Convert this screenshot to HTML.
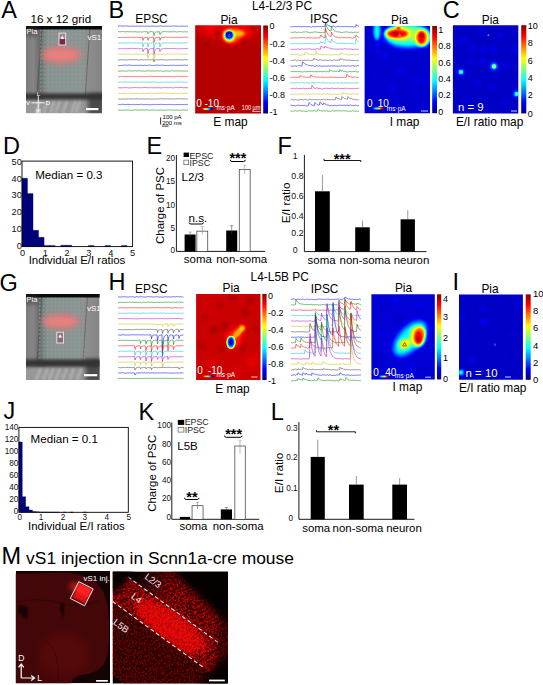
<!DOCTYPE html>
<html><head><meta charset="utf-8"><style>
html,body{margin:0;padding:0;background:#fff;width:543px;height:685px;overflow:hidden;}
svg{display:block;font-family:"Liberation Sans",sans-serif;}
</style></head><body>
<svg width="543" height="685" viewBox="0 0 543 685">
<rect width="543" height="685" fill="#fff"/>
<defs>
<filter id="jet1_5" x="-10%" y="-10%" width="120%" height="120%" color-interpolation-filters="sRGB"><feGaussianBlur stdDeviation="1.5"/><feComponentTransfer><feFuncR type="table" tableValues="0 0 0 0 0.5 1 1 1 0.5"/><feFuncG type="table" tableValues="0 0 0.5 1 1 1 0.5 0 0"/><feFuncB type="table" tableValues="0.5 1 1 1 0.5 0 0 0 0"/></feComponentTransfer></filter>
<filter id="jet2" x="-10%" y="-10%" width="120%" height="120%" color-interpolation-filters="sRGB"><feGaussianBlur stdDeviation="2"/><feComponentTransfer><feFuncR type="table" tableValues="0 0 0 0 0.5 1 1 1 0.5"/><feFuncG type="table" tableValues="0 0 0.5 1 1 1 0.5 0 0"/><feFuncB type="table" tableValues="0.5 1 1 1 0.5 0 0 0 0"/></feComponentTransfer></filter>
<filter id="jet2_5" x="-10%" y="-10%" width="120%" height="120%" color-interpolation-filters="sRGB"><feGaussianBlur stdDeviation="2.5"/><feComponentTransfer><feFuncR type="table" tableValues="0 0 0 0 0.5 1 1 1 0.5"/><feFuncG type="table" tableValues="0 0 0.5 1 1 1 0.5 0 0"/><feFuncB type="table" tableValues="0.5 1 1 1 0.5 0 0 0 0"/></feComponentTransfer></filter>
<filter id="jet3" x="-10%" y="-10%" width="120%" height="120%" color-interpolation-filters="sRGB"><feGaussianBlur stdDeviation="3"/><feComponentTransfer><feFuncR type="table" tableValues="0 0 0 0 0.5 1 1 1 0.5"/><feFuncG type="table" tableValues="0 0 0.5 1 1 1 0.5 0 0"/><feFuncB type="table" tableValues="0.5 1 1 1 0.5 0 0 0 0"/></feComponentTransfer></filter>
<filter id="jetn" x="-10%" y="-10%" width="120%" height="120%" color-interpolation-filters="sRGB"><feComponentTransfer><feFuncR type="table" tableValues="0 0 0 0 0.5 1 1 1 0.5"/><feFuncG type="table" tableValues="0 0 0.5 1 1 1 0.5 0 0"/><feFuncB type="table" tableValues="0.5 1 1 1 0.5 0 0 0 0"/></feComponentTransfer></filter>
<linearGradient id="cbar" x1="0" y1="1" x2="0" y2="0"><stop offset="0" stop-color="rgb(0,0,127)"/><stop offset="0.125" stop-color="rgb(0,0,255)"/><stop offset="0.375" stop-color="rgb(0,255,255)"/><stop offset="0.625" stop-color="rgb(255,255,0)"/><stop offset="0.875" stop-color="rgb(255,0,0)"/><stop offset="1" stop-color="rgb(127,0,0)"/></linearGradient>
<linearGradient id="hbarE" x1="0" y1="0" x2="1" y2="0"><stop offset="0" stop-color="rgb(127,0,0)"/><stop offset="0.125" stop-color="rgb(255,0,0)"/><stop offset="0.375" stop-color="rgb(255,255,0)"/><stop offset="0.625" stop-color="rgb(0,255,255)"/><stop offset="0.875" stop-color="rgb(0,0,255)"/><stop offset="1" stop-color="rgb(0,0,127)"/></linearGradient>
<linearGradient id="hbarI" x1="0" y1="0" x2="1" y2="0"><stop offset="0" stop-color="rgb(0,0,127)"/><stop offset="0.125" stop-color="rgb(0,0,255)"/><stop offset="0.375" stop-color="rgb(0,255,255)"/><stop offset="0.625" stop-color="rgb(255,255,0)"/><stop offset="0.875" stop-color="rgb(255,0,0)"/><stop offset="1" stop-color="rgb(127,0,0)"/></linearGradient>
<filter id="blur1" color-interpolation-filters="sRGB"><feGaussianBlur stdDeviation="1"/></filter>
<filter id="blur2" x="-50%" y="-50%" width="200%" height="200%" color-interpolation-filters="sRGB"><feGaussianBlur stdDeviation="2"/></filter>
<filter id="blur3" x="-50%" y="-50%" width="200%" height="200%" color-interpolation-filters="sRGB"><feGaussianBlur stdDeviation="3"/></filter>
<filter id="blur4" x="-50%" y="-50%" width="200%" height="200%" color-interpolation-filters="sRGB"><feGaussianBlur stdDeviation="4"/></filter>
<filter id="blur05" color-interpolation-filters="sRGB"><feGaussianBlur stdDeviation="0.5"/></filter>
<filter id="speck" x="0" y="0" width="100%" height="100%" color-interpolation-filters="sRGB"><feTurbulence type="fractalNoise" baseFrequency="0.65" numOctaves="1" seed="3" result="n"/><feColorMatrix in="n" type="matrix" values="0 0 0 0 1  0 0 0 0 0  0 0 0 0 0  3.5 0 0 0 -1.3" result="r"/><feComposite in="r" in2="SourceGraphic" operator="in"/></filter>
<filter id="gb0.5" x="-100%" y="-100%" width="300%" height="300%" color-interpolation-filters="sRGB"><feGaussianBlur stdDeviation="0.5"/></filter>
<filter id="gb0.8" x="-100%" y="-100%" width="300%" height="300%" color-interpolation-filters="sRGB"><feGaussianBlur stdDeviation="0.8"/></filter>
<filter id="gb1" x="-100%" y="-100%" width="300%" height="300%" color-interpolation-filters="sRGB"><feGaussianBlur stdDeviation="1"/></filter>
<filter id="gb1.2" x="-100%" y="-100%" width="300%" height="300%" color-interpolation-filters="sRGB"><feGaussianBlur stdDeviation="1.2"/></filter>
<filter id="gb1.5" x="-100%" y="-100%" width="300%" height="300%" color-interpolation-filters="sRGB"><feGaussianBlur stdDeviation="1.5"/></filter>
<filter id="gb2" x="-100%" y="-100%" width="300%" height="300%" color-interpolation-filters="sRGB"><feGaussianBlur stdDeviation="2"/></filter>
<filter id="gb2.5" x="-100%" y="-100%" width="300%" height="300%" color-interpolation-filters="sRGB"><feGaussianBlur stdDeviation="2.5"/></filter>
<filter id="gb3" x="-100%" y="-100%" width="300%" height="300%" color-interpolation-filters="sRGB"><feGaussianBlur stdDeviation="3"/></filter>
<filter id="gb4" x="-100%" y="-100%" width="300%" height="300%" color-interpolation-filters="sRGB"><feGaussianBlur stdDeviation="4"/></filter>
<filter id="gb5" x="-100%" y="-100%" width="300%" height="300%" color-interpolation-filters="sRGB"><feGaussianBlur stdDeviation="5"/></filter>
<filter id="gb6" x="-100%" y="-100%" width="300%" height="300%" color-interpolation-filters="sRGB"><feGaussianBlur stdDeviation="6"/></filter>
</defs>
<text x="1.30" y="18.00" font-size="23.5" fill="#000" >A</text>
<text x="108.60" y="18.00" font-size="23.5" fill="#000" >B</text>
<text x="442.70" y="18.00" font-size="23.5" fill="#000" >C</text>
<text x="3.10" y="153.50" font-size="23.5" fill="#000" >D</text>
<text x="146.50" y="153.50" font-size="23.5" fill="#000" >E</text>
<text x="277.60" y="153.50" font-size="23.5" fill="#000" >F</text>
<text x="-0.60" y="290.50" font-size="23.5" fill="#000" >G</text>
<text x="108.40" y="290.00" font-size="23.5" fill="#000" >H</text>
<text x="452.50" y="290.00" font-size="23.5" fill="#000" >I</text>
<text x="3.50" y="418.50" font-size="23.5" fill="#000" >J</text>
<text x="138.50" y="419.50" font-size="23.5" fill="#000" >K</text>
<text x="270.80" y="419.50" font-size="23.5" fill="#000" >L</text>
<text x="1.50" y="564.00" font-size="23.5" fill="#000" >M</text>
<text x="60.80" y="23.30" font-size="11.6" text-anchor="middle" fill="#000" >16 x 12 grid</text>
<text x="282.00" y="10.20" font-size="11.9" text-anchor="middle" fill="#000" >L4-L2/3 PC</text>
<text x="151.50" y="23.30" font-size="11.9" text-anchor="middle" fill="#000" >EPSC</text>
<text x="229.00" y="23.80" font-size="11.9" text-anchor="middle" fill="#000" >Pia</text>
<text x="324.00" y="23.30" font-size="11.9" text-anchor="middle" fill="#000" >IPSC</text>
<text x="399.60" y="23.80" font-size="11.9" text-anchor="middle" fill="#000" >Pia</text>
<text x="490.40" y="23.80" font-size="11.9" text-anchor="middle" fill="#000" >Pia</text>
<text x="230.50" y="126.00" font-size="11.9" text-anchor="middle" fill="#000" >E map</text>
<text x="404.50" y="125.50" font-size="11.9" text-anchor="middle" fill="#000" >I map</text>
<text x="489.60" y="126.00" font-size="11.9" text-anchor="middle" fill="#000" >E/I ratio map</text>
<clipPath id="mclip1"><rect x="26" y="26" width="76" height="87.3"/></clipPath>
<g clip-path="url(#mclip1)">
<linearGradient id="mg1" x1="0" y1="0" x2="1" y2="0"><stop offset="0" stop-color="#7c7c7c"/><stop offset="0.1" stop-color="#858585"/><stop offset="0.18" stop-color="#6a6a6a"/><stop offset="0.28" stop-color="#8e8e8e"/><stop offset="0.7" stop-color="#929292"/><stop offset="0.85" stop-color="#8c8c8c"/><stop offset="1" stop-color="#848484"/></linearGradient>
<rect x="26.00" y="26.00" width="76.00" height="87.30" fill="url(#mg1)" />
<line x1="42.00" y1="26.00" x2="37.00" y2="95.84" stroke="#4a4a4a" stroke-width="0.9" opacity="0.7"/>
<line x1="90.00" y1="26.00" x2="84.00" y2="113.30" stroke="#555" stroke-width="0.9" opacity="0.7"/>
<rect x="24" y="23" width="80" height="6.5" fill="#0a0a0a" filter="url(#blur05)"/>
<rect x="24" y="26" width="14" height="10" fill="#333" opacity="0.5" filter="url(#blur2)"/>
<rect x="26" y="99.5" width="76" height="13.799999999999997" fill="#979797"/>
<line x1="40.4" y1="100.5" x2="35.4" y2="113.3" stroke="#b8b8b8" stroke-width="3" opacity="0.7" filter="url(#blur1)"/>
<line x1="48.2" y1="100.5" x2="43.2" y2="113.3" stroke="#b8b8b8" stroke-width="3" opacity="0.7" filter="url(#blur1)"/>
<line x1="54.8" y1="100.5" x2="49.8" y2="113.3" stroke="#b8b8b8" stroke-width="3" opacity="0.7" filter="url(#blur1)"/>
<line x1="60.2" y1="100.5" x2="55.2" y2="113.3" stroke="#b8b8b8" stroke-width="3" opacity="0.7" filter="url(#blur1)"/>
<line x1="67.4" y1="100.5" x2="62.4" y2="113.3" stroke="#b8b8b8" stroke-width="3" opacity="0.7" filter="url(#blur1)"/>
<line x1="76.1" y1="100.5" x2="71.1" y2="113.3" stroke="#b8b8b8" stroke-width="3" opacity="0.7" filter="url(#blur1)"/>
<line x1="80.5" y1="100.5" x2="75.5" y2="113.3" stroke="#b8b8b8" stroke-width="3" opacity="0.7" filter="url(#blur1)"/>
<rect x="88" y="93.5" width="16" height="21.799999999999997" fill="#2a2a2a" opacity="0.7" filter="url(#blur2)"/>
<rect x="23" y="93.5" width="82" height="6.0" fill="#333" filter="url(#gb1.5)"/>
<ellipse cx="61.5" cy="55" rx="20" ry="8.5" fill="#ff6c6c" opacity="0.85" filter="url(#gb3)"/>
<ellipse cx="61.5" cy="55" rx="16.0" ry="5.1" fill="#ff8080" opacity="0.6" filter="url(#blur2)"/>
<path d="M39.85,29.85h1.5v1.5h-1.5zM43.80,29.85h1.5v1.5h-1.5zM47.74,29.85h1.5v1.5h-1.5zM51.69,29.85h1.5v1.5h-1.5zM55.63,29.85h1.5v1.5h-1.5zM59.58,29.85h1.5v1.5h-1.5zM63.52,29.85h1.5v1.5h-1.5zM67.47,29.85h1.5v1.5h-1.5zM71.41,29.85h1.5v1.5h-1.5zM75.36,29.85h1.5v1.5h-1.5zM79.30,29.85h1.5v1.5h-1.5zM83.25,29.85h1.5v1.5h-1.5zM39.85,33.85h1.5v1.5h-1.5zM43.80,33.85h1.5v1.5h-1.5zM47.74,33.85h1.5v1.5h-1.5zM51.69,33.85h1.5v1.5h-1.5zM55.63,33.85h1.5v1.5h-1.5zM59.58,33.85h1.5v1.5h-1.5zM63.52,33.85h1.5v1.5h-1.5zM67.47,33.85h1.5v1.5h-1.5zM71.41,33.85h1.5v1.5h-1.5zM75.36,33.85h1.5v1.5h-1.5zM79.30,33.85h1.5v1.5h-1.5zM83.25,33.85h1.5v1.5h-1.5zM39.85,37.85h1.5v1.5h-1.5zM43.80,37.85h1.5v1.5h-1.5zM47.74,37.85h1.5v1.5h-1.5zM51.69,37.85h1.5v1.5h-1.5zM55.63,37.85h1.5v1.5h-1.5zM59.58,37.85h1.5v1.5h-1.5zM63.52,37.85h1.5v1.5h-1.5zM67.47,37.85h1.5v1.5h-1.5zM71.41,37.85h1.5v1.5h-1.5zM75.36,37.85h1.5v1.5h-1.5zM79.30,37.85h1.5v1.5h-1.5zM83.25,37.85h1.5v1.5h-1.5zM39.85,41.85h1.5v1.5h-1.5zM43.80,41.85h1.5v1.5h-1.5zM47.74,41.85h1.5v1.5h-1.5zM51.69,41.85h1.5v1.5h-1.5zM55.63,41.85h1.5v1.5h-1.5zM59.58,41.85h1.5v1.5h-1.5zM63.52,41.85h1.5v1.5h-1.5zM67.47,41.85h1.5v1.5h-1.5zM71.41,41.85h1.5v1.5h-1.5zM75.36,41.85h1.5v1.5h-1.5zM79.30,41.85h1.5v1.5h-1.5zM83.25,41.85h1.5v1.5h-1.5zM39.85,45.85h1.5v1.5h-1.5zM43.80,45.85h1.5v1.5h-1.5zM47.74,45.85h1.5v1.5h-1.5zM51.69,45.85h1.5v1.5h-1.5zM55.63,45.85h1.5v1.5h-1.5zM59.58,45.85h1.5v1.5h-1.5zM63.52,45.85h1.5v1.5h-1.5zM67.47,45.85h1.5v1.5h-1.5zM71.41,45.85h1.5v1.5h-1.5zM75.36,45.85h1.5v1.5h-1.5zM79.30,45.85h1.5v1.5h-1.5zM83.25,45.85h1.5v1.5h-1.5zM39.85,49.85h1.5v1.5h-1.5zM43.80,49.85h1.5v1.5h-1.5zM47.74,49.85h1.5v1.5h-1.5zM51.69,49.85h1.5v1.5h-1.5zM55.63,49.85h1.5v1.5h-1.5zM59.58,49.85h1.5v1.5h-1.5zM63.52,49.85h1.5v1.5h-1.5zM67.47,49.85h1.5v1.5h-1.5zM71.41,49.85h1.5v1.5h-1.5zM75.36,49.85h1.5v1.5h-1.5zM79.30,49.85h1.5v1.5h-1.5zM83.25,49.85h1.5v1.5h-1.5zM39.85,53.85h1.5v1.5h-1.5zM43.80,53.85h1.5v1.5h-1.5zM47.74,53.85h1.5v1.5h-1.5zM51.69,53.85h1.5v1.5h-1.5zM55.63,53.85h1.5v1.5h-1.5zM59.58,53.85h1.5v1.5h-1.5zM63.52,53.85h1.5v1.5h-1.5zM67.47,53.85h1.5v1.5h-1.5zM71.41,53.85h1.5v1.5h-1.5zM75.36,53.85h1.5v1.5h-1.5zM79.30,53.85h1.5v1.5h-1.5zM83.25,53.85h1.5v1.5h-1.5zM39.85,57.85h1.5v1.5h-1.5zM43.80,57.85h1.5v1.5h-1.5zM47.74,57.85h1.5v1.5h-1.5zM51.69,57.85h1.5v1.5h-1.5zM55.63,57.85h1.5v1.5h-1.5zM59.58,57.85h1.5v1.5h-1.5zM63.52,57.85h1.5v1.5h-1.5zM67.47,57.85h1.5v1.5h-1.5zM71.41,57.85h1.5v1.5h-1.5zM75.36,57.85h1.5v1.5h-1.5zM79.30,57.85h1.5v1.5h-1.5zM83.25,57.85h1.5v1.5h-1.5zM39.85,61.85h1.5v1.5h-1.5zM43.80,61.85h1.5v1.5h-1.5zM47.74,61.85h1.5v1.5h-1.5zM51.69,61.85h1.5v1.5h-1.5zM55.63,61.85h1.5v1.5h-1.5zM59.58,61.85h1.5v1.5h-1.5zM63.52,61.85h1.5v1.5h-1.5zM67.47,61.85h1.5v1.5h-1.5zM71.41,61.85h1.5v1.5h-1.5zM75.36,61.85h1.5v1.5h-1.5zM79.30,61.85h1.5v1.5h-1.5zM83.25,61.85h1.5v1.5h-1.5zM39.85,65.85h1.5v1.5h-1.5zM43.80,65.85h1.5v1.5h-1.5zM47.74,65.85h1.5v1.5h-1.5zM51.69,65.85h1.5v1.5h-1.5zM55.63,65.85h1.5v1.5h-1.5zM59.58,65.85h1.5v1.5h-1.5zM63.52,65.85h1.5v1.5h-1.5zM67.47,65.85h1.5v1.5h-1.5zM71.41,65.85h1.5v1.5h-1.5zM75.36,65.85h1.5v1.5h-1.5zM79.30,65.85h1.5v1.5h-1.5zM83.25,65.85h1.5v1.5h-1.5zM39.85,69.85h1.5v1.5h-1.5zM43.80,69.85h1.5v1.5h-1.5zM47.74,69.85h1.5v1.5h-1.5zM51.69,69.85h1.5v1.5h-1.5zM55.63,69.85h1.5v1.5h-1.5zM59.58,69.85h1.5v1.5h-1.5zM63.52,69.85h1.5v1.5h-1.5zM67.47,69.85h1.5v1.5h-1.5zM71.41,69.85h1.5v1.5h-1.5zM75.36,69.85h1.5v1.5h-1.5zM79.30,69.85h1.5v1.5h-1.5zM83.25,69.85h1.5v1.5h-1.5zM39.85,73.85h1.5v1.5h-1.5zM43.80,73.85h1.5v1.5h-1.5zM47.74,73.85h1.5v1.5h-1.5zM51.69,73.85h1.5v1.5h-1.5zM55.63,73.85h1.5v1.5h-1.5zM59.58,73.85h1.5v1.5h-1.5zM63.52,73.85h1.5v1.5h-1.5zM67.47,73.85h1.5v1.5h-1.5zM71.41,73.85h1.5v1.5h-1.5zM75.36,73.85h1.5v1.5h-1.5zM79.30,73.85h1.5v1.5h-1.5zM83.25,73.85h1.5v1.5h-1.5zM39.85,77.85h1.5v1.5h-1.5zM43.80,77.85h1.5v1.5h-1.5zM47.74,77.85h1.5v1.5h-1.5zM51.69,77.85h1.5v1.5h-1.5zM55.63,77.85h1.5v1.5h-1.5zM59.58,77.85h1.5v1.5h-1.5zM63.52,77.85h1.5v1.5h-1.5zM67.47,77.85h1.5v1.5h-1.5zM71.41,77.85h1.5v1.5h-1.5zM75.36,77.85h1.5v1.5h-1.5zM79.30,77.85h1.5v1.5h-1.5zM83.25,77.85h1.5v1.5h-1.5zM39.85,81.85h1.5v1.5h-1.5zM43.80,81.85h1.5v1.5h-1.5zM47.74,81.85h1.5v1.5h-1.5zM51.69,81.85h1.5v1.5h-1.5zM55.63,81.85h1.5v1.5h-1.5zM59.58,81.85h1.5v1.5h-1.5zM63.52,81.85h1.5v1.5h-1.5zM67.47,81.85h1.5v1.5h-1.5zM71.41,81.85h1.5v1.5h-1.5zM75.36,81.85h1.5v1.5h-1.5zM79.30,81.85h1.5v1.5h-1.5zM83.25,81.85h1.5v1.5h-1.5zM39.85,85.85h1.5v1.5h-1.5zM43.80,85.85h1.5v1.5h-1.5zM47.74,85.85h1.5v1.5h-1.5zM51.69,85.85h1.5v1.5h-1.5zM55.63,85.85h1.5v1.5h-1.5zM59.58,85.85h1.5v1.5h-1.5zM63.52,85.85h1.5v1.5h-1.5zM67.47,85.85h1.5v1.5h-1.5zM71.41,85.85h1.5v1.5h-1.5zM75.36,85.85h1.5v1.5h-1.5zM79.30,85.85h1.5v1.5h-1.5zM83.25,85.85h1.5v1.5h-1.5zM39.85,89.85h1.5v1.5h-1.5zM43.80,89.85h1.5v1.5h-1.5zM47.74,89.85h1.5v1.5h-1.5zM51.69,89.85h1.5v1.5h-1.5zM55.63,89.85h1.5v1.5h-1.5zM59.58,89.85h1.5v1.5h-1.5zM63.52,89.85h1.5v1.5h-1.5zM67.47,89.85h1.5v1.5h-1.5zM71.41,89.85h1.5v1.5h-1.5zM75.36,89.85h1.5v1.5h-1.5zM79.30,89.85h1.5v1.5h-1.5zM83.25,89.85h1.5v1.5h-1.5z" fill="#55c0b0" opacity="0.65" filter="url(#gb0.5)"/>
<rect x="59.00" y="33.10" width="6.70" height="5.95" fill="#9a8a90" />
<rect x="59.00" y="39.05" width="6.70" height="5.95" fill="#7a2a3a" />
<rect x="59.00" y="33.10" width="6.70" height="11.90" fill="none" stroke="#f4e4f0" stroke-width="0.9"/>
<path d="M60.550000000000004,38.884 L64.15,38.884 L62.35,35.584 Z" fill="#fff"/>
<rect x="86.00" y="108.00" width="12.40" height="2.20" fill="#fff" />
<text x="26.50" y="33.60" font-size="7.5" fill="#fff" >Pia</text>
<text x="87.50" y="39.80" font-size="8" fill="#fff" >vS1</text>
<line x1="38.30" y1="96.20" x2="38.30" y2="112.80" stroke="#fff" stroke-width="0.9" />
<line x1="31.40" y1="102.80" x2="44.60" y2="102.80" stroke="#fff" stroke-width="0.9" />
<text x="38.30" y="95.50" font-size="6" text-anchor="middle" fill="#fff" >L</text>
<text x="28.10" y="105.00" font-size="6" text-anchor="middle" fill="#fff" >V</text>
<text x="48.00" y="105.00" font-size="6" text-anchor="middle" fill="#fff" >D</text>
<text x="38.30" y="113.30" font-size="6" text-anchor="middle" fill="#fff" >M</text>
</g>
<clipPath id="mclip2"><rect x="26" y="294" width="73.6" height="86"/></clipPath>
<g clip-path="url(#mclip2)">
<linearGradient id="mg2" x1="0" y1="0" x2="1" y2="0"><stop offset="0" stop-color="#7c7c7c"/><stop offset="0.1" stop-color="#858585"/><stop offset="0.18" stop-color="#6a6a6a"/><stop offset="0.28" stop-color="#8e8e8e"/><stop offset="0.7" stop-color="#929292"/><stop offset="0.85" stop-color="#8c8c8c"/><stop offset="1" stop-color="#848484"/></linearGradient>
<rect x="26.00" y="294.00" width="73.60" height="86.00" fill="url(#mg2)" />
<line x1="42.00" y1="294.00" x2="37.00" y2="362.80" stroke="#4a4a4a" stroke-width="0.9" opacity="0.7"/>
<line x1="87.60" y1="294.00" x2="81.60" y2="380.00" stroke="#555" stroke-width="0.9" opacity="0.7"/>
<rect x="24" y="291" width="77.6" height="6.5" fill="#0a0a0a" filter="url(#blur05)"/>
<rect x="24" y="294" width="14" height="10" fill="#333" opacity="0.5" filter="url(#blur2)"/>
<rect x="26" y="366.7" width="73.6" height="13.300000000000011" fill="#979797"/>
<line x1="41.0" y1="367.7" x2="36.0" y2="380" stroke="#b8b8b8" stroke-width="3" opacity="0.7" filter="url(#blur1)"/>
<line x1="47.9" y1="367.7" x2="42.9" y2="380" stroke="#b8b8b8" stroke-width="3" opacity="0.7" filter="url(#blur1)"/>
<line x1="53.9" y1="367.7" x2="48.9" y2="380" stroke="#b8b8b8" stroke-width="3" opacity="0.7" filter="url(#blur1)"/>
<line x1="60.4" y1="367.7" x2="55.4" y2="380" stroke="#b8b8b8" stroke-width="3" opacity="0.7" filter="url(#blur1)"/>
<line x1="67.3" y1="367.7" x2="62.3" y2="380" stroke="#b8b8b8" stroke-width="3" opacity="0.7" filter="url(#blur1)"/>
<line x1="74.3" y1="367.7" x2="69.3" y2="380" stroke="#b8b8b8" stroke-width="3" opacity="0.7" filter="url(#blur1)"/>
<line x1="81.8" y1="367.7" x2="76.8" y2="380" stroke="#b8b8b8" stroke-width="3" opacity="0.7" filter="url(#blur1)"/>
<rect x="85.6" y="359.5" width="16" height="22.5" fill="#2a2a2a" opacity="0.7" filter="url(#blur2)"/>
<rect x="23" y="359.5" width="79.6" height="7.199999999999989" fill="#333" filter="url(#gb1.5)"/>
<ellipse cx="60.6" cy="321.5" rx="19" ry="7" fill="#ff6c6c" opacity="0.85" filter="url(#gb3)"/>
<ellipse cx="60.6" cy="321.5" rx="15.200000000000001" ry="4.2" fill="#ff8080" opacity="0.6" filter="url(#blur2)"/>
<path d="M39.05,297.75h1.5v1.5h-1.5zM42.98,297.75h1.5v1.5h-1.5zM46.90,297.75h1.5v1.5h-1.5zM50.83,297.75h1.5v1.5h-1.5zM54.76,297.75h1.5v1.5h-1.5zM58.69,297.75h1.5v1.5h-1.5zM62.61,297.75h1.5v1.5h-1.5zM66.54,297.75h1.5v1.5h-1.5zM70.47,297.75h1.5v1.5h-1.5zM74.40,297.75h1.5v1.5h-1.5zM78.32,297.75h1.5v1.5h-1.5zM82.25,297.75h1.5v1.5h-1.5zM39.05,301.68h1.5v1.5h-1.5zM42.98,301.68h1.5v1.5h-1.5zM46.90,301.68h1.5v1.5h-1.5zM50.83,301.68h1.5v1.5h-1.5zM54.76,301.68h1.5v1.5h-1.5zM58.69,301.68h1.5v1.5h-1.5zM62.61,301.68h1.5v1.5h-1.5zM66.54,301.68h1.5v1.5h-1.5zM70.47,301.68h1.5v1.5h-1.5zM74.40,301.68h1.5v1.5h-1.5zM78.32,301.68h1.5v1.5h-1.5zM82.25,301.68h1.5v1.5h-1.5zM39.05,305.60h1.5v1.5h-1.5zM42.98,305.60h1.5v1.5h-1.5zM46.90,305.60h1.5v1.5h-1.5zM50.83,305.60h1.5v1.5h-1.5zM54.76,305.60h1.5v1.5h-1.5zM58.69,305.60h1.5v1.5h-1.5zM62.61,305.60h1.5v1.5h-1.5zM66.54,305.60h1.5v1.5h-1.5zM70.47,305.60h1.5v1.5h-1.5zM74.40,305.60h1.5v1.5h-1.5zM78.32,305.60h1.5v1.5h-1.5zM82.25,305.60h1.5v1.5h-1.5zM39.05,309.53h1.5v1.5h-1.5zM42.98,309.53h1.5v1.5h-1.5zM46.90,309.53h1.5v1.5h-1.5zM50.83,309.53h1.5v1.5h-1.5zM54.76,309.53h1.5v1.5h-1.5zM58.69,309.53h1.5v1.5h-1.5zM62.61,309.53h1.5v1.5h-1.5zM66.54,309.53h1.5v1.5h-1.5zM70.47,309.53h1.5v1.5h-1.5zM74.40,309.53h1.5v1.5h-1.5zM78.32,309.53h1.5v1.5h-1.5zM82.25,309.53h1.5v1.5h-1.5zM39.05,313.46h1.5v1.5h-1.5zM42.98,313.46h1.5v1.5h-1.5zM46.90,313.46h1.5v1.5h-1.5zM50.83,313.46h1.5v1.5h-1.5zM54.76,313.46h1.5v1.5h-1.5zM58.69,313.46h1.5v1.5h-1.5zM62.61,313.46h1.5v1.5h-1.5zM66.54,313.46h1.5v1.5h-1.5zM70.47,313.46h1.5v1.5h-1.5zM74.40,313.46h1.5v1.5h-1.5zM78.32,313.46h1.5v1.5h-1.5zM82.25,313.46h1.5v1.5h-1.5zM39.05,317.38h1.5v1.5h-1.5zM42.98,317.38h1.5v1.5h-1.5zM46.90,317.38h1.5v1.5h-1.5zM50.83,317.38h1.5v1.5h-1.5zM54.76,317.38h1.5v1.5h-1.5zM58.69,317.38h1.5v1.5h-1.5zM62.61,317.38h1.5v1.5h-1.5zM66.54,317.38h1.5v1.5h-1.5zM70.47,317.38h1.5v1.5h-1.5zM74.40,317.38h1.5v1.5h-1.5zM78.32,317.38h1.5v1.5h-1.5zM82.25,317.38h1.5v1.5h-1.5zM39.05,321.31h1.5v1.5h-1.5zM42.98,321.31h1.5v1.5h-1.5zM46.90,321.31h1.5v1.5h-1.5zM50.83,321.31h1.5v1.5h-1.5zM54.76,321.31h1.5v1.5h-1.5zM58.69,321.31h1.5v1.5h-1.5zM62.61,321.31h1.5v1.5h-1.5zM66.54,321.31h1.5v1.5h-1.5zM70.47,321.31h1.5v1.5h-1.5zM74.40,321.31h1.5v1.5h-1.5zM78.32,321.31h1.5v1.5h-1.5zM82.25,321.31h1.5v1.5h-1.5zM39.05,325.24h1.5v1.5h-1.5zM42.98,325.24h1.5v1.5h-1.5zM46.90,325.24h1.5v1.5h-1.5zM50.83,325.24h1.5v1.5h-1.5zM54.76,325.24h1.5v1.5h-1.5zM58.69,325.24h1.5v1.5h-1.5zM62.61,325.24h1.5v1.5h-1.5zM66.54,325.24h1.5v1.5h-1.5zM70.47,325.24h1.5v1.5h-1.5zM74.40,325.24h1.5v1.5h-1.5zM78.32,325.24h1.5v1.5h-1.5zM82.25,325.24h1.5v1.5h-1.5zM39.05,329.16h1.5v1.5h-1.5zM42.98,329.16h1.5v1.5h-1.5zM46.90,329.16h1.5v1.5h-1.5zM50.83,329.16h1.5v1.5h-1.5zM54.76,329.16h1.5v1.5h-1.5zM58.69,329.16h1.5v1.5h-1.5zM62.61,329.16h1.5v1.5h-1.5zM66.54,329.16h1.5v1.5h-1.5zM70.47,329.16h1.5v1.5h-1.5zM74.40,329.16h1.5v1.5h-1.5zM78.32,329.16h1.5v1.5h-1.5zM82.25,329.16h1.5v1.5h-1.5zM39.05,333.09h1.5v1.5h-1.5zM42.98,333.09h1.5v1.5h-1.5zM46.90,333.09h1.5v1.5h-1.5zM50.83,333.09h1.5v1.5h-1.5zM54.76,333.09h1.5v1.5h-1.5zM58.69,333.09h1.5v1.5h-1.5zM62.61,333.09h1.5v1.5h-1.5zM66.54,333.09h1.5v1.5h-1.5zM70.47,333.09h1.5v1.5h-1.5zM74.40,333.09h1.5v1.5h-1.5zM78.32,333.09h1.5v1.5h-1.5zM82.25,333.09h1.5v1.5h-1.5zM39.05,337.02h1.5v1.5h-1.5zM42.98,337.02h1.5v1.5h-1.5zM46.90,337.02h1.5v1.5h-1.5zM50.83,337.02h1.5v1.5h-1.5zM54.76,337.02h1.5v1.5h-1.5zM58.69,337.02h1.5v1.5h-1.5zM62.61,337.02h1.5v1.5h-1.5zM66.54,337.02h1.5v1.5h-1.5zM70.47,337.02h1.5v1.5h-1.5zM74.40,337.02h1.5v1.5h-1.5zM78.32,337.02h1.5v1.5h-1.5zM82.25,337.02h1.5v1.5h-1.5zM39.05,340.94h1.5v1.5h-1.5zM42.98,340.94h1.5v1.5h-1.5zM46.90,340.94h1.5v1.5h-1.5zM50.83,340.94h1.5v1.5h-1.5zM54.76,340.94h1.5v1.5h-1.5zM58.69,340.94h1.5v1.5h-1.5zM62.61,340.94h1.5v1.5h-1.5zM66.54,340.94h1.5v1.5h-1.5zM70.47,340.94h1.5v1.5h-1.5zM74.40,340.94h1.5v1.5h-1.5zM78.32,340.94h1.5v1.5h-1.5zM82.25,340.94h1.5v1.5h-1.5zM39.05,344.87h1.5v1.5h-1.5zM42.98,344.87h1.5v1.5h-1.5zM46.90,344.87h1.5v1.5h-1.5zM50.83,344.87h1.5v1.5h-1.5zM54.76,344.87h1.5v1.5h-1.5zM58.69,344.87h1.5v1.5h-1.5zM62.61,344.87h1.5v1.5h-1.5zM66.54,344.87h1.5v1.5h-1.5zM70.47,344.87h1.5v1.5h-1.5zM74.40,344.87h1.5v1.5h-1.5zM78.32,344.87h1.5v1.5h-1.5zM82.25,344.87h1.5v1.5h-1.5zM39.05,348.80h1.5v1.5h-1.5zM42.98,348.80h1.5v1.5h-1.5zM46.90,348.80h1.5v1.5h-1.5zM50.83,348.80h1.5v1.5h-1.5zM54.76,348.80h1.5v1.5h-1.5zM58.69,348.80h1.5v1.5h-1.5zM62.61,348.80h1.5v1.5h-1.5zM66.54,348.80h1.5v1.5h-1.5zM70.47,348.80h1.5v1.5h-1.5zM74.40,348.80h1.5v1.5h-1.5zM78.32,348.80h1.5v1.5h-1.5zM82.25,348.80h1.5v1.5h-1.5zM39.05,352.72h1.5v1.5h-1.5zM42.98,352.72h1.5v1.5h-1.5zM46.90,352.72h1.5v1.5h-1.5zM50.83,352.72h1.5v1.5h-1.5zM54.76,352.72h1.5v1.5h-1.5zM58.69,352.72h1.5v1.5h-1.5zM62.61,352.72h1.5v1.5h-1.5zM66.54,352.72h1.5v1.5h-1.5zM70.47,352.72h1.5v1.5h-1.5zM74.40,352.72h1.5v1.5h-1.5zM78.32,352.72h1.5v1.5h-1.5zM82.25,352.72h1.5v1.5h-1.5zM39.05,356.65h1.5v1.5h-1.5zM42.98,356.65h1.5v1.5h-1.5zM46.90,356.65h1.5v1.5h-1.5zM50.83,356.65h1.5v1.5h-1.5zM54.76,356.65h1.5v1.5h-1.5zM58.69,356.65h1.5v1.5h-1.5zM62.61,356.65h1.5v1.5h-1.5zM66.54,356.65h1.5v1.5h-1.5zM70.47,356.65h1.5v1.5h-1.5zM74.40,356.65h1.5v1.5h-1.5zM78.32,356.65h1.5v1.5h-1.5zM82.25,356.65h1.5v1.5h-1.5z" fill="#55c0b0" opacity="0.65" filter="url(#gb0.5)"/>
<rect x="56.80" y="332.20" width="6.70" height="5.40" fill="#8a7a82" />
<rect x="56.80" y="337.60" width="6.70" height="5.40" fill="#8a6a78" />
<rect x="56.80" y="332.20" width="6.70" height="10.80" fill="none" stroke="#f4e4f0" stroke-width="0.9"/>
<path d="M58.35,337.58799999999997 L61.949999999999996,337.58799999999997 L60.15,334.28799999999995 Z" fill="#fff"/>
<rect x="84.00" y="374.10" width="13.30" height="2.20" fill="#fff" />
<text x="26.50" y="301.80" font-size="7.5" fill="#fff" >Pia</text>
<text x="87.00" y="310.50" font-size="8" fill="#fff" >vS1</text>
</g>
<polyline points="118.0,26.2 118.5,26.2 119.0,26.1 119.5,25.9 120.0,25.9 120.5,25.8 121.0,25.9 121.5,26.0 122.0,26.1 122.5,26.2 123.0,26.2 123.5,26.0 124.0,25.9 124.5,26.0 125.0,26.2 125.5,26.1 126.0,26.0 126.5,26.0 127.0,26.0 127.5,26.1 128.0,26.2 128.5,26.2 129.0,26.2 129.5,26.2 130.0,26.2 130.5,26.2 131.0,26.2 131.5,26.1 132.0,26.1 132.5,26.2 133.0,26.2 133.5,26.2 134.0,26.2 134.5,26.2 135.0,26.3 135.5,26.4 136.0,26.3 136.5,26.1 137.0,26.2 137.5,26.2 138.0,26.3 138.5,26.2 139.0,26.3 139.5,26.3 140.0,26.3 140.5,26.2 141.0,26.1 141.5,26.2 142.0,26.1 142.5,26.1 143.0,26.1 143.5,26.2 144.0,26.3 144.5,26.3 145.0,26.1 145.5,26.1 146.0,26.1 146.5,26.0 147.0,26.0 147.5,26.2 148.0,26.3 148.5,26.3 149.0,26.2 149.5,26.1 150.0,26.3 150.5,26.3 151.0,26.2 151.5,26.2 152.0,26.2 152.5,26.2 153.0,26.1 153.5,26.1 154.0,26.1 154.5,26.2 155.0,26.3 155.5,26.3 156.0,26.3 156.5,26.2 157.0,26.3 157.5,26.3 158.0,26.3 158.5,26.2 159.0,26.1 159.5,26.0 160.0,25.9 160.5,25.9 161.0,26.0 161.5,26.1 162.0,26.3 162.5,26.4 163.0,26.2 163.5,26.1 164.0,26.2 164.5,26.2 165.0,26.2 165.5,26.2 166.0,26.3 166.5,26.2 167.0,26.1 167.5,26.1 168.0,26.1 168.5,26.1 169.0,26.1 169.5,26.2 170.0,26.2 170.5,26.3 171.0,26.2 171.5,26.1 172.0,26.0 172.5,25.9 173.0,26.0 173.5,26.0 174.0,26.1 174.5,26.0 175.0,26.2 175.5,26.1 176.0,26.2 176.5,26.2 177.0,26.2 177.5,26.2 178.0,26.3 178.5,26.4 179.0,26.3 179.5,26.2 180.0,26.1 180.5,26.2 181.0,26.2 181.5,26.2 182.0,26.1 182.5,26.1 183.0,26.0 183.5,26.1 184.0,26.2 184.5,26.3 185.0,26.3 185.5,26.2 186.0,26.1 186.5,26.1 187.0,26.1 187.5,26.1 188.0,26.2" fill="none" stroke="#0000ff" stroke-width="0.55" stroke-linejoin="round"/>
<polyline points="118.0,31.7 118.5,31.6 119.0,31.7 119.5,31.8 120.0,31.8 120.5,31.7 121.0,31.8 121.5,31.8 122.0,31.7 122.5,31.6 123.0,31.6 123.5,31.6 124.0,31.7 124.5,31.8 125.0,31.7 125.5,31.8 126.0,31.7 126.5,31.8 127.0,31.7 127.5,31.6 128.0,31.7 128.5,31.8 129.0,31.9 129.5,31.8 130.0,31.8 130.5,31.7 131.0,31.8 131.5,31.8 132.0,31.8 132.5,31.8 133.0,31.9 133.5,31.9 134.0,32.0 134.5,31.8 135.0,31.7 135.5,31.7 136.0,31.8 136.5,31.9 137.0,31.9 137.5,31.9 138.0,32.0 138.5,32.0 139.0,31.9 139.5,31.9 140.0,31.8 140.5,31.8 141.0,31.8 141.5,32.0 142.0,32.0 142.5,32.1 143.0,32.0 143.5,31.7 144.0,31.6 144.5,31.7 145.0,31.8 145.5,31.8 146.0,31.8 146.5,31.6 147.0,31.5 147.5,31.7 148.0,33.8 148.5,32.7 149.0,32.2 149.5,31.8 150.0,31.7 150.5,31.7 151.0,31.6 151.5,31.6 152.0,31.7 152.5,31.9 153.0,31.8 153.5,31.7 154.0,35.6 154.5,33.5 155.0,32.5 155.5,32.1 156.0,31.9 156.5,31.9 157.0,32.0 157.5,31.9 158.0,31.9 158.5,31.8 159.0,31.8 159.5,31.7 160.0,34.6 160.5,33.1 161.0,32.5 161.5,32.1 162.0,31.9 162.5,31.9 163.0,31.9 163.5,31.7 164.0,31.6 164.5,31.5 165.0,31.4 165.5,31.3 166.0,31.6 166.5,31.9 167.0,31.8 167.5,31.6 168.0,31.7 168.5,31.8 169.0,31.9 169.5,31.8 170.0,31.8 170.5,31.8 171.0,31.9 171.5,31.9 172.0,31.8 172.5,31.7 173.0,31.7 173.5,31.8 174.0,31.8 174.5,31.7 175.0,31.7 175.5,31.7 176.0,31.8 176.5,32.0 177.0,32.0 177.5,31.9 178.0,31.9 178.5,31.7 179.0,31.6 179.5,31.6 180.0,31.8 180.5,31.7 181.0,31.7 181.5,31.7 182.0,31.8 182.5,31.9 183.0,31.9 183.5,31.9 184.0,31.9 184.5,31.8 185.0,31.6 185.5,31.7 186.0,31.9 186.5,32.0 187.0,32.0 187.5,31.9 188.0,31.8" fill="none" stroke="#008000" stroke-width="0.55" stroke-linejoin="round"/>
<polyline points="118.0,37.4 118.5,37.4 119.0,37.4 119.5,37.5 120.0,37.6 120.5,37.5 121.0,37.4 121.5,37.3 122.0,37.4 122.5,37.5 123.0,37.5 123.5,37.4 124.0,37.3 124.5,37.3 125.0,37.4 125.5,37.4 126.0,37.4 126.5,37.3 127.0,37.4 127.5,37.3 128.0,37.2 128.5,37.2 129.0,37.4 129.5,37.4 130.0,37.4 130.5,37.5 131.0,37.5 131.5,37.4 132.0,37.3 132.5,37.4 133.0,37.3 133.5,37.3 134.0,37.5 134.5,37.6 135.0,37.5 135.5,37.3 136.0,37.3 136.5,37.3 137.0,37.2 137.5,37.3 138.0,37.4 138.5,37.5 139.0,37.5 139.5,37.6 140.0,37.5 140.5,37.6 141.0,37.6 141.5,37.5 142.0,37.2 142.5,37.2 143.0,40.4 143.5,39.0 144.0,38.2 144.5,37.6 145.0,37.4 145.5,37.4 146.0,37.4 146.5,37.4 147.0,37.4 147.5,37.4 148.0,40.4 148.5,38.8 149.0,38.0 149.5,37.7 150.0,37.7 150.5,37.7 151.0,37.6 151.5,37.3 152.0,37.3 152.5,37.2 153.0,37.1 153.5,37.2 154.0,42.4 154.5,39.8 155.0,38.4 155.5,37.7 156.0,37.4 156.5,37.5 157.0,37.6 157.5,37.7 158.0,37.5 158.5,37.3 159.0,37.2 159.5,37.3 160.0,40.3 160.5,38.7 161.0,37.9 161.5,37.7 162.0,37.6 162.5,37.7 163.0,37.6 163.5,37.5 164.0,37.4 164.5,37.4 165.0,37.3 165.5,37.2 166.0,37.2 166.5,37.2 167.0,37.3 167.5,37.4 168.0,37.5 168.5,37.4 169.0,37.2 169.5,37.2 170.0,37.4 170.5,37.4 171.0,37.4 171.5,37.5 172.0,37.4 172.5,37.2 173.0,37.3 173.5,37.4 174.0,37.4 174.5,37.3 175.0,37.4 175.5,37.6 176.0,37.5 176.5,37.4 177.0,37.3 177.5,37.4 178.0,37.5 178.5,37.6 179.0,37.5 179.5,37.4 180.0,37.2 180.5,37.2 181.0,37.3 181.5,37.4 182.0,37.4 182.5,37.4 183.0,37.4 183.5,37.3 184.0,37.2 184.5,37.3 185.0,37.3 185.5,37.3 186.0,37.3 186.5,37.2 187.0,37.2 187.5,37.2 188.0,37.3" fill="none" stroke="#ff0000" stroke-width="0.55" stroke-linejoin="round"/>
<polyline points="118.0,43.0 118.5,42.9 119.0,42.8 119.5,42.9 120.0,42.9 120.5,43.0 121.0,43.1 121.5,43.0 122.0,43.0 122.5,42.9 123.0,42.9 123.5,42.9 124.0,43.0 124.5,43.0 125.0,43.0 125.5,42.9 126.0,42.9 126.5,42.9 127.0,43.0 127.5,43.0 128.0,43.0 128.5,42.8 129.0,42.9 129.5,42.9 130.0,42.8 130.5,42.7 131.0,42.9 131.5,43.0 132.0,42.8 132.5,42.7 133.0,42.8 133.5,42.9 134.0,42.9 134.5,42.9 135.0,42.9 135.5,42.9 136.0,43.0 136.5,42.9 137.0,42.8 137.5,42.7 138.0,42.9 138.5,43.0 139.0,43.1 139.5,43.0 140.0,43.0 140.5,43.0 141.0,43.1 141.5,43.1 142.0,42.9 142.5,42.7 143.0,46.7 143.5,44.7 144.0,43.9 144.5,43.4 145.0,43.0 145.5,42.9 146.0,43.0 146.5,42.9 147.0,42.9 147.5,42.8 148.0,47.0 148.5,44.8 149.0,43.8 149.5,43.2 150.0,42.9 150.5,43.0 151.0,43.1 151.5,43.1 152.0,42.9 152.5,42.8 153.0,42.7 153.5,42.8 154.0,48.9 154.5,45.7 155.0,44.2 155.5,43.5 156.0,43.2 156.5,43.2 157.0,43.3 157.5,43.2 158.0,43.1 158.5,42.9 159.0,42.9 159.5,42.9 160.0,46.9 160.5,44.7 161.0,43.8 161.5,43.4 162.0,43.2 162.5,43.1 163.0,43.0 163.5,42.9 164.0,42.8 164.5,42.9 165.0,42.9 165.5,43.0 166.0,42.9 166.5,42.9 167.0,42.8 167.5,42.8 168.0,42.8 168.5,42.8 169.0,42.8 169.5,42.9 170.0,43.0 170.5,42.9 171.0,42.9 171.5,42.9 172.0,42.9 172.5,42.9 173.0,42.9 173.5,42.9 174.0,42.9 174.5,42.9 175.0,43.0 175.5,42.9 176.0,43.0 176.5,42.9 177.0,42.9 177.5,42.9 178.0,43.1 178.5,43.0 179.0,43.0 179.5,42.9 180.0,43.0 180.5,43.0 181.0,43.1 181.5,42.9 182.0,42.9 182.5,43.0 183.0,43.2 183.5,43.2 184.0,43.0 184.5,42.9 185.0,43.0 185.5,42.9 186.0,42.8 186.5,42.7 187.0,42.8 187.5,42.7 188.0,42.8" fill="none" stroke="#00bfbf" stroke-width="0.55" stroke-linejoin="round"/>
<polyline points="118.0,48.7 118.5,48.6 119.0,48.7 119.5,48.9 120.0,48.8 120.5,48.7 121.0,48.5 121.5,48.4 122.0,48.5 122.5,48.6 123.0,48.6 123.5,48.7 124.0,48.6 124.5,48.6 125.0,48.6 125.5,48.7 126.0,48.7 126.5,48.7 127.0,48.7 127.5,48.6 128.0,48.5 128.5,48.4 129.0,48.4 129.5,48.5 130.0,48.6 130.5,48.5 131.0,48.4 131.5,48.4 132.0,48.4 132.5,48.3 133.0,48.3 133.5,48.5 134.0,48.7 134.5,48.6 135.0,48.5 135.5,48.6 136.0,48.5 136.5,48.4 137.0,48.4 137.5,48.7 138.0,48.8 138.5,48.8 139.0,48.8 139.5,48.7 140.0,48.7 140.5,48.6 141.0,48.6 141.5,48.6 142.0,48.8 142.5,48.8 143.0,51.7 143.5,50.0 144.0,49.3 144.5,49.0 145.0,48.9 145.5,48.7 146.0,48.6 146.5,48.5 147.0,48.6 147.5,48.7 148.0,53.6 148.5,50.8 149.0,49.5 149.5,49.0 150.0,48.7 150.5,48.6 151.0,48.6 151.5,48.7 152.0,48.6 152.5,48.6 153.0,48.6 153.5,48.7 154.0,54.6 154.5,51.3 155.0,49.7 155.5,49.1 156.0,48.8 156.5,48.7 157.0,48.6 157.5,48.5 158.0,48.5 158.5,48.6 159.0,48.6 159.5,48.6 160.0,51.6 160.5,50.2 161.0,49.6 161.5,49.2 162.0,48.9 162.5,48.8 163.0,48.7 163.5,48.6 164.0,48.5 164.5,48.6 165.0,48.6 165.5,48.4 166.0,48.3 166.5,48.4 167.0,48.5 167.5,48.5 168.0,48.5 168.5,48.6 169.0,48.6 169.5,48.6 170.0,48.5 170.5,48.5 171.0,48.4 171.5,48.5 172.0,48.6 172.5,48.6 173.0,48.5 173.5,48.5 174.0,48.6 174.5,48.5 175.0,48.4 175.5,48.4 176.0,48.6 176.5,48.8 177.0,48.8 177.5,48.7 178.0,48.8 178.5,48.8 179.0,48.7 179.5,48.6 180.0,48.7 180.5,48.7 181.0,48.6 181.5,48.7 182.0,48.8 182.5,48.9 183.0,48.8 183.5,48.5 184.0,48.5 184.5,48.5 185.0,48.6 185.5,48.6 186.0,48.6 186.5,48.5 187.0,48.4 187.5,48.4 188.0,48.5" fill="none" stroke="#bf00bf" stroke-width="0.55" stroke-linejoin="round"/>
<polyline points="118.0,54.1 118.5,54.1 119.0,53.9 119.5,54.0 120.0,54.1 120.5,54.3 121.0,54.4 121.5,54.4 122.0,54.2 122.5,54.0 123.0,53.9 123.5,54.0 124.0,54.0 124.5,54.0 125.0,54.0 125.5,54.0 126.0,54.1 126.5,54.1 127.0,54.2 127.5,54.1 128.0,54.1 128.5,54.1 129.0,54.0 129.5,54.0 130.0,54.2 130.5,54.5 131.0,54.5 131.5,54.5 132.0,54.3 132.5,54.2 133.0,54.2 133.5,54.3 134.0,54.1 134.5,54.1 135.0,54.1 135.5,54.1 136.0,54.1 136.5,54.0 137.0,54.2 137.5,54.3 138.0,54.3 138.5,54.2 139.0,54.2 139.5,54.2 140.0,54.1 140.5,54.1 141.0,54.3 141.5,54.3 142.0,54.3 142.5,54.3 143.0,54.2 143.5,54.1 144.0,54.2 144.5,54.1 145.0,54.0 145.5,53.9 146.0,54.1 146.5,54.2 147.0,54.4 147.5,54.2 148.0,58.2 148.5,56.0 149.0,55.0 149.5,54.5 150.0,54.3 150.5,54.1 151.0,53.9 151.5,53.9 152.0,54.0 152.5,54.0 153.0,54.2 153.5,54.3 154.0,61.3 154.5,57.4 155.0,55.5 155.5,54.6 156.0,54.3 156.5,54.2 157.0,54.2 157.5,54.0 158.0,54.0 158.5,54.1 159.0,54.2 159.5,54.2 160.0,54.2 160.5,54.2 161.0,54.3 161.5,54.3 162.0,54.3 162.5,54.3 163.0,54.1 163.5,54.1 164.0,54.0 164.5,54.1 165.0,54.1 165.5,54.2 166.0,54.2 166.5,54.2 167.0,54.0 167.5,53.9 168.0,54.0 168.5,54.1 169.0,54.1 169.5,54.1 170.0,54.2 170.5,54.1 171.0,54.1 171.5,54.2 172.0,54.4 172.5,54.4 173.0,54.2 173.5,54.0 174.0,54.1 174.5,54.1 175.0,54.1 175.5,54.0 176.0,54.1 176.5,54.0 177.0,54.0 177.5,53.9 178.0,53.9 178.5,53.9 179.0,54.0 179.5,54.1 180.0,54.0 180.5,54.0 181.0,54.1 181.5,54.2 182.0,54.3 182.5,54.1 183.0,54.1 183.5,54.1 184.0,54.1 184.5,54.0 185.0,54.1 185.5,54.3 186.0,54.4 186.5,54.3 187.0,54.3 187.5,54.2 188.0,54.2" fill="none" stroke="#bfbf00" stroke-width="0.55" stroke-linejoin="round"/>
<polyline points="118.0,59.9 118.5,60.0 119.0,60.0 119.5,59.8 120.0,59.7 120.5,59.9 121.0,59.9 121.5,59.7 122.0,59.6 122.5,59.6 123.0,59.8 123.5,59.9 124.0,59.9 124.5,59.9 125.0,59.8 125.5,59.8 126.0,59.9 126.5,60.1 127.0,60.0 127.5,59.8 128.0,59.9 128.5,59.9 129.0,59.8 129.5,59.7 130.0,59.8 130.5,59.8 131.0,59.8 131.5,59.7 132.0,59.8 132.5,59.7 133.0,59.7 133.5,59.6 134.0,59.7 134.5,59.8 135.0,59.7 135.5,59.7 136.0,59.7 136.5,59.7 137.0,59.6 137.5,59.8 138.0,59.9 138.5,60.2 139.0,60.1 139.5,59.9 140.0,59.8 140.5,59.8 141.0,59.9 141.5,59.8 142.0,59.8 142.5,59.8 143.0,59.9 143.5,59.9 144.0,59.8 144.5,59.7 145.0,59.8 145.5,59.8 146.0,59.8 146.5,59.8 147.0,59.6 147.5,59.6 148.0,59.7 148.5,59.9 149.0,59.8 149.5,59.8 150.0,59.8 150.5,59.7 151.0,59.7 151.5,59.8 152.0,59.8 152.5,59.8 153.0,59.7 153.5,59.7 154.0,61.7 154.5,60.7 155.0,60.2 155.5,59.8 156.0,59.8 156.5,59.9 157.0,59.9 157.5,59.8 158.0,59.8 158.5,59.8 159.0,59.8 159.5,59.7 160.0,59.7 160.5,59.7 161.0,59.7 161.5,59.7 162.0,59.7 162.5,59.7 163.0,59.8 163.5,59.8 164.0,59.9 164.5,59.9 165.0,60.0 165.5,60.0 166.0,59.9 166.5,59.9 167.0,59.8 167.5,59.9 168.0,60.0 168.5,59.9 169.0,59.6 169.5,59.6 170.0,59.8 170.5,59.9 171.0,59.9 171.5,59.8 172.0,59.8 172.5,59.8 173.0,59.9 173.5,59.7 174.0,59.7 174.5,59.6 175.0,59.8 175.5,59.8 176.0,59.7 176.5,59.7 177.0,59.7 177.5,59.6 178.0,59.5 178.5,59.6 179.0,59.7 179.5,59.9 180.0,59.9 180.5,59.9 181.0,59.8 181.5,59.8 182.0,59.8 182.5,59.9 183.0,59.9 183.5,59.8 184.0,59.7 184.5,59.7 185.0,59.7 185.5,59.8 186.0,59.8 186.5,59.8 187.0,59.7 187.5,59.7 188.0,59.7" fill="none" stroke="#404040" stroke-width="0.55" stroke-linejoin="round"/>
<polyline points="118.0,65.4 118.5,65.5 119.0,65.5 119.5,65.6 120.0,65.6 120.5,65.5 121.0,65.3 121.5,65.3 122.0,65.4 122.5,65.4 123.0,65.3 123.5,65.2 124.0,65.2 124.5,65.1 125.0,65.2 125.5,65.2 126.0,65.3 126.5,65.2 127.0,65.3 127.5,65.3 128.0,65.1 128.5,65.0 129.0,65.0 129.5,65.0 130.0,65.2 130.5,65.4 131.0,65.4 131.5,65.3 132.0,65.3 132.5,65.3 133.0,65.3 133.5,65.4 134.0,65.5 134.5,65.6 135.0,65.5 135.5,65.3 136.0,65.3 136.5,65.3 137.0,65.4 137.5,65.4 138.0,65.5 138.5,65.4 139.0,65.3 139.5,65.3 140.0,65.4 140.5,65.3 141.0,65.2 141.5,65.2 142.0,65.2 142.5,65.4 143.0,65.7 143.5,65.5 144.0,65.3 144.5,65.2 145.0,65.3 145.5,65.4 146.0,65.3 146.5,65.3 147.0,65.4 147.5,65.5 148.0,65.3 148.5,65.1 149.0,65.1 149.5,65.0 150.0,65.2 150.5,65.2 151.0,65.4 151.5,65.5 152.0,65.6 152.5,65.5 153.0,65.4 153.5,65.4 154.0,65.5 154.5,65.3 155.0,65.2 155.5,65.2 156.0,65.3 156.5,65.2 157.0,65.2 157.5,65.1 158.0,65.2 158.5,65.3 159.0,65.4 159.5,65.4 160.0,65.4 160.5,65.3 161.0,65.2 161.5,65.2 162.0,65.3 162.5,65.3 163.0,65.3 163.5,65.2 164.0,65.3 164.5,65.4 165.0,65.4 165.5,65.5 166.0,65.6 166.5,65.6 167.0,65.4 167.5,65.4 168.0,65.6 168.5,65.6 169.0,65.4 169.5,65.3 170.0,65.3 170.5,65.3 171.0,65.3 171.5,65.4 172.0,65.3 172.5,65.2 173.0,65.2 173.5,65.2 174.0,65.3 174.5,65.3 175.0,65.5 175.5,65.5 176.0,65.4 176.5,65.4 177.0,65.4 177.5,65.3 178.0,65.4 178.5,65.3 179.0,65.4 179.5,65.4 180.0,65.4 180.5,65.3 181.0,65.2 181.5,65.3 182.0,65.3 182.5,65.4 183.0,65.4 183.5,65.2 184.0,65.1 184.5,65.0 185.0,65.1 185.5,65.3 186.0,65.5 186.5,65.4 187.0,65.2 187.5,65.3 188.0,65.5" fill="none" stroke="#0000ff" stroke-width="0.55" stroke-linejoin="round"/>
<polyline points="118.0,71.0 118.5,71.0 119.0,71.2 119.5,71.3 120.0,71.2 120.5,71.1 121.0,71.0 121.5,71.0 122.0,70.9 122.5,70.8 123.0,70.8 123.5,70.9 124.0,70.9 124.5,71.1 125.0,71.1 125.5,71.0 126.0,70.9 126.5,71.0 127.0,71.0 127.5,71.0 128.0,70.9 128.5,70.7 129.0,70.7 129.5,70.8 130.0,70.9 130.5,70.9 131.0,70.8 131.5,70.8 132.0,71.0 132.5,71.0 133.0,70.9 133.5,70.8 134.0,70.7 134.5,70.8 135.0,70.9 135.5,70.8 136.0,70.8 136.5,70.9 137.0,70.9 137.5,70.8 138.0,70.9 138.5,70.9 139.0,70.8 139.5,70.8 140.0,70.8 140.5,70.8 141.0,70.9 141.5,71.0 142.0,71.1 142.5,71.0 143.0,71.0 143.5,71.1 144.0,71.2 144.5,71.2 145.0,71.1 145.5,71.0 146.0,71.0 146.5,70.9 147.0,70.9 147.5,70.8 148.0,70.9 148.5,70.8 149.0,70.7 149.5,70.8 150.0,70.9 150.5,71.1 151.0,71.1 151.5,71.0 152.0,70.9 152.5,70.9 153.0,70.9 153.5,71.0 154.0,71.1 154.5,71.1 155.0,71.0 155.5,70.8 156.0,70.7 156.5,70.7 157.0,70.8 157.5,71.0 158.0,71.0 158.5,70.9 159.0,71.0 159.5,71.1 160.0,71.0 160.5,70.8 161.0,70.9 161.5,71.0 162.0,71.1 162.5,71.2 163.0,71.2 163.5,71.2 164.0,71.2 164.5,71.0 165.0,70.8 165.5,70.9 166.0,70.9 166.5,71.0 167.0,71.0 167.5,70.9 168.0,70.9 168.5,71.1 169.0,71.1 169.5,71.1 170.0,71.1 170.5,71.1 171.0,70.9 171.5,70.7 172.0,70.7 172.5,70.8 173.0,70.8 173.5,71.0 174.0,71.0 174.5,70.9 175.0,70.9 175.5,71.0 176.0,71.0 176.5,70.8 177.0,70.9 177.5,71.0 178.0,71.0 178.5,70.9 179.0,70.9 179.5,70.8 180.0,71.0 180.5,71.0 181.0,71.0 181.5,70.9 182.0,71.1 182.5,71.1 183.0,71.2 183.5,71.0 184.0,71.0 184.5,71.0 185.0,71.1 185.5,71.2 186.0,71.1 186.5,71.0 187.0,70.9 187.5,70.9 188.0,71.0" fill="none" stroke="#008000" stroke-width="0.55" stroke-linejoin="round"/>
<polyline points="118.0,76.7 118.5,76.7 119.0,76.7 119.5,76.8 120.0,76.8 120.5,76.6 121.0,76.3 121.5,76.2 122.0,76.4 122.5,76.5 123.0,76.7 123.5,76.6 124.0,76.8 124.5,76.8 125.0,76.7 125.5,76.6 126.0,76.5 126.5,76.5 127.0,76.5 127.5,76.5 128.0,76.6 128.5,76.6 129.0,76.5 129.5,76.4 130.0,76.5 130.5,76.6 131.0,76.6 131.5,76.6 132.0,76.5 132.5,76.5 133.0,76.5 133.5,76.6 134.0,76.6 134.5,76.4 135.0,76.3 135.5,76.3 136.0,76.6 136.5,76.7 137.0,76.7 137.5,76.5 138.0,76.5 138.5,76.7 139.0,76.8 139.5,76.6 140.0,76.4 140.5,76.4 141.0,76.7 141.5,76.9 142.0,76.9 142.5,76.7 143.0,76.6 143.5,76.6 144.0,76.5 144.5,76.5 145.0,76.5 145.5,76.6 146.0,76.7 146.5,76.7 147.0,76.6 147.5,76.4 148.0,76.4 148.5,76.4 149.0,76.4 149.5,76.3 150.0,76.3 150.5,76.3 151.0,76.3 151.5,76.2 152.0,76.3 152.5,76.5 153.0,76.7 153.5,76.6 154.0,76.5 154.5,76.4 155.0,76.6 155.5,76.6 156.0,76.6 156.5,76.6 157.0,76.5 157.5,76.3 158.0,76.4 158.5,76.5 159.0,76.5 159.5,76.4 160.0,76.4 160.5,76.6 161.0,76.6 161.5,76.6 162.0,76.6 162.5,76.5 163.0,76.4 163.5,76.4 164.0,76.5 164.5,76.4 165.0,76.3 165.5,76.4 166.0,76.7 166.5,76.6 167.0,76.6 167.5,76.6 168.0,76.7 168.5,76.6 169.0,76.8 169.5,76.7 170.0,76.5 170.5,76.5 171.0,76.5 171.5,76.4 172.0,76.5 172.5,76.7 173.0,76.9 173.5,76.7 174.0,76.7 174.5,76.7 175.0,76.9 175.5,76.8 176.0,76.6 176.5,76.4 177.0,76.3 177.5,76.2 178.0,76.3 178.5,76.4 179.0,76.4 179.5,76.5 180.0,76.6 180.5,76.8 181.0,76.8 181.5,76.7 182.0,76.6 182.5,76.5 183.0,76.5 183.5,76.5 184.0,76.5 184.5,76.3 185.0,76.4 185.5,76.6 186.0,76.6 186.5,76.6 187.0,76.5 187.5,76.4 188.0,76.4" fill="none" stroke="#ff0000" stroke-width="0.55" stroke-linejoin="round"/>
<polyline points="118.0,82.1 118.5,82.3 119.0,82.5 119.5,82.3 120.0,82.1 120.5,82.1 121.0,82.2 121.5,82.2 122.0,82.2 122.5,82.2 123.0,82.2 123.5,82.1 124.0,81.9 124.5,81.9 125.0,81.9 125.5,82.0 126.0,82.0 126.5,82.0 127.0,82.1 127.5,82.1 128.0,82.0 128.5,81.9 129.0,82.0 129.5,82.2 130.0,82.4 130.5,82.3 131.0,82.3 131.5,82.1 132.0,82.2 132.5,82.1 133.0,82.0 133.5,82.0 134.0,82.3 134.5,82.4 135.0,82.2 135.5,82.1 136.0,82.1 136.5,82.0 137.0,82.0 137.5,82.0 138.0,82.1 138.5,82.3 139.0,82.3 139.5,82.4 140.0,82.3 140.5,82.2 141.0,82.0 141.5,81.9 142.0,82.0 142.5,82.1 143.0,82.2 143.5,82.1 144.0,82.1 144.5,82.0 145.0,82.0 145.5,82.0 146.0,82.1 146.5,82.2 147.0,82.2 147.5,82.1 148.0,82.0 148.5,82.1 149.0,82.2 149.5,82.4 150.0,82.5 150.5,82.4 151.0,82.2 151.5,82.1 152.0,82.0 152.5,81.9 153.0,82.0 153.5,82.0 154.0,82.1 154.5,82.1 155.0,82.1 155.5,82.0 156.0,82.1 156.5,82.2 157.0,82.4 157.5,82.4 158.0,82.4 158.5,82.3 159.0,82.3 159.5,82.4 160.0,82.3 160.5,82.3 161.0,82.3 161.5,82.4 162.0,82.3 162.5,82.3 163.0,82.3 163.5,82.2 164.0,82.1 164.5,82.0 165.0,82.0 165.5,82.0 166.0,82.1 166.5,82.2 167.0,82.1 167.5,82.2 168.0,82.3 168.5,82.4 169.0,82.3 169.5,82.1 170.0,82.1 170.5,82.2 171.0,82.1 171.5,82.1 172.0,82.3 172.5,82.3 173.0,82.2 173.5,82.1 174.0,82.2 174.5,82.2 175.0,82.2 175.5,82.1 176.0,82.2 176.5,82.3 177.0,82.2 177.5,82.1 178.0,82.1 178.5,82.2 179.0,82.2 179.5,82.2 180.0,82.1 180.5,82.1 181.0,82.1 181.5,82.0 182.0,81.9 182.5,81.9 183.0,82.0 183.5,82.1 184.0,82.2 184.5,82.1 185.0,82.1 185.5,82.2 186.0,82.3 186.5,82.3 187.0,82.2 187.5,82.1 188.0,82.1" fill="none" stroke="#00bfbf" stroke-width="0.55" stroke-linejoin="round"/>
<polyline points="118.0,87.9 118.5,87.9 119.0,87.8 119.5,87.7 120.0,87.7 120.5,87.8 121.0,87.9 121.5,87.8 122.0,87.6 122.5,87.7 123.0,87.8 123.5,87.8 124.0,87.7 124.5,87.7 125.0,87.6 125.5,87.5 126.0,87.5 126.5,87.7 127.0,87.8 127.5,87.8 128.0,87.9 128.5,87.9 129.0,87.9 129.5,88.0 130.0,87.9 130.5,87.8 131.0,87.8 131.5,87.8 132.0,87.7 132.5,87.7 133.0,87.6 133.5,87.5 134.0,87.6 134.5,87.7 135.0,87.6 135.5,87.5 136.0,87.6 136.5,87.7 137.0,87.7 137.5,87.7 138.0,87.6 138.5,87.6 139.0,87.7 139.5,87.8 140.0,87.7 140.5,87.7 141.0,87.8 141.5,87.7 142.0,87.7 142.5,87.8 143.0,87.7 143.5,87.5 144.0,87.4 144.5,87.5 145.0,87.5 145.5,87.5 146.0,87.6 146.5,87.6 147.0,87.7 147.5,87.7 148.0,87.7 148.5,87.7 149.0,87.8 149.5,87.9 150.0,87.8 150.5,87.7 151.0,87.6 151.5,87.7 152.0,87.7 152.5,87.8 153.0,87.7 153.5,87.7 154.0,87.8 154.5,87.8 155.0,87.6 155.5,87.6 156.0,87.5 156.5,87.8 157.0,87.9 157.5,87.8 158.0,87.6 158.5,87.6 159.0,87.7 159.5,87.8 160.0,87.9 160.5,87.9 161.0,88.0 161.5,87.9 162.0,87.9 162.5,87.7 163.0,87.6 163.5,87.6 164.0,87.7 164.5,87.6 165.0,87.6 165.5,87.6 166.0,87.7 166.5,87.6 167.0,87.7 167.5,87.7 168.0,87.7 168.5,87.6 169.0,87.6 169.5,87.7 170.0,87.7 170.5,87.7 171.0,87.6 171.5,87.6 172.0,87.7 172.5,87.8 173.0,87.8 173.5,87.8 174.0,87.9 174.5,87.8 175.0,87.7 175.5,87.5 176.0,87.4 176.5,87.5 177.0,87.6 177.5,87.6 178.0,87.7 178.5,87.6 179.0,87.6 179.5,87.5 180.0,87.6 180.5,87.5 181.0,87.6 181.5,87.5 182.0,87.5 182.5,87.5 183.0,87.7 183.5,87.8 184.0,87.7 184.5,87.6 185.0,87.5 185.5,87.6 186.0,87.6 186.5,87.7 187.0,87.7 187.5,87.7 188.0,87.6" fill="none" stroke="#bf00bf" stroke-width="0.55" stroke-linejoin="round"/>
<polyline points="118.0,93.4 118.5,93.5 119.0,93.5 119.5,93.4 120.0,93.5 120.5,93.5 121.0,93.5 121.5,93.5 122.0,93.5 122.5,93.4 123.0,93.3 123.5,93.2 124.0,93.3 124.5,93.3 125.0,93.3 125.5,93.3 126.0,93.4 126.5,93.2 127.0,93.1 127.5,93.2 128.0,93.3 128.5,93.3 129.0,93.1 129.5,93.2 130.0,93.2 130.5,93.4 131.0,93.2 131.5,93.3 132.0,93.2 132.5,93.4 133.0,93.3 133.5,93.3 134.0,93.4 134.5,93.4 135.0,93.3 135.5,93.2 136.0,93.2 136.5,93.3 137.0,93.5 137.5,93.5 138.0,93.3 138.5,93.2 139.0,93.4 139.5,93.5 140.0,93.5 140.5,93.4 141.0,93.3 141.5,93.2 142.0,93.1 142.5,93.2 143.0,93.3 143.5,93.5 144.0,93.5 144.5,93.4 145.0,93.3 145.5,93.5 146.0,93.6 146.5,93.4 147.0,93.3 147.5,93.4 148.0,93.4 148.5,93.3 149.0,93.3 149.5,93.4 150.0,93.3 150.5,93.2 151.0,93.2 151.5,93.2 152.0,93.3 152.5,93.4 153.0,93.5 153.5,93.4 154.0,93.3 154.5,93.3 155.0,93.5 155.5,93.5 156.0,93.4 156.5,93.3 157.0,93.3 157.5,93.3 158.0,93.1 158.5,93.1 159.0,93.2 159.5,93.3 160.0,93.2 160.5,93.1 161.0,93.0 161.5,93.1 162.0,93.2 162.5,93.2 163.0,93.2 163.5,93.2 164.0,93.2 164.5,93.2 165.0,93.3 165.5,93.3 166.0,93.3 166.5,93.3 167.0,93.4 167.5,93.3 168.0,93.4 168.5,93.4 169.0,93.4 169.5,93.3 170.0,93.4 170.5,93.3 171.0,93.3 171.5,93.4 172.0,93.5 172.5,93.5 173.0,93.5 173.5,93.5 174.0,93.4 174.5,93.3 175.0,93.3 175.5,93.3 176.0,93.4 176.5,93.5 177.0,93.3 177.5,93.2 178.0,93.3 178.5,93.3 179.0,93.3 179.5,93.2 180.0,93.1 180.5,93.1 181.0,93.2 181.5,93.3 182.0,93.2 182.5,93.3 183.0,93.3 183.5,93.3 184.0,93.2 184.5,93.1 185.0,93.1 185.5,93.2 186.0,93.3 186.5,93.3 187.0,93.5 187.5,93.6 188.0,93.5" fill="none" stroke="#bfbf00" stroke-width="0.55" stroke-linejoin="round"/>
<polyline points="118.0,98.8 118.5,98.9 119.0,99.0 119.5,99.1 120.0,99.0 120.5,99.1 121.0,99.1 121.5,99.1 122.0,99.1 122.5,99.0 123.0,99.0 123.5,99.0 124.0,99.0 124.5,99.0 125.0,99.0 125.5,99.0 126.0,99.1 126.5,99.0 127.0,99.0 127.5,99.0 128.0,99.1 128.5,98.9 129.0,98.7 129.5,98.7 130.0,99.0 130.5,99.1 131.0,99.1 131.5,98.9 132.0,98.9 132.5,98.9 133.0,99.1 133.5,99.1 134.0,99.0 134.5,98.9 135.0,98.9 135.5,98.8 136.0,98.8 136.5,98.7 137.0,98.7 137.5,98.8 138.0,99.0 138.5,98.8 139.0,98.9 139.5,99.0 140.0,99.1 140.5,99.1 141.0,99.1 141.5,99.0 142.0,98.9 142.5,98.9 143.0,98.9 143.5,98.9 144.0,99.0 144.5,99.0 145.0,99.0 145.5,98.9 146.0,98.9 146.5,98.9 147.0,98.8 147.5,98.8 148.0,98.8 148.5,98.9 149.0,98.8 149.5,99.0 150.0,99.1 150.5,99.2 151.0,99.0 151.5,99.1 152.0,99.1 152.5,99.1 153.0,98.9 153.5,99.0 154.0,99.1 154.5,99.1 155.0,99.1 155.5,99.0 156.0,99.0 156.5,98.9 157.0,99.0 157.5,99.0 158.0,99.0 158.5,98.9 159.0,99.1 159.5,99.0 160.0,98.9 160.5,98.7 161.0,98.8 161.5,98.8 162.0,98.9 162.5,98.8 163.0,98.8 163.5,98.8 164.0,98.9 164.5,99.0 165.0,99.0 165.5,98.8 166.0,98.7 166.5,98.9 167.0,98.9 167.5,98.9 168.0,98.8 168.5,98.9 169.0,98.9 169.5,99.0 170.0,98.9 170.5,98.9 171.0,98.8 171.5,98.8 172.0,98.9 172.5,99.0 173.0,99.0 173.5,99.1 174.0,99.0 174.5,98.8 175.0,98.9 175.5,99.1 176.0,99.1 176.5,98.9 177.0,98.7 177.5,98.7 178.0,98.7 178.5,98.7 179.0,98.7 179.5,98.7 180.0,98.8 180.5,98.9 181.0,98.9 181.5,98.9 182.0,99.0 182.5,99.0 183.0,98.9 183.5,98.8 184.0,99.0 184.5,99.1 185.0,99.0 185.5,98.9 186.0,98.9 186.5,99.0 187.0,99.1 187.5,99.2 188.0,99.2" fill="none" stroke="#404040" stroke-width="0.55" stroke-linejoin="round"/>
<polyline points="118.0,104.5 118.5,104.4 119.0,104.4 119.5,104.5 120.0,104.7 120.5,104.8 121.0,104.6 121.5,104.3 122.0,104.3 122.5,104.4 123.0,104.3 123.5,104.3 124.0,104.4 124.5,104.5 125.0,104.5 125.5,104.5 126.0,104.5 126.5,104.5 127.0,104.3 127.5,104.3 128.0,104.4 128.5,104.4 129.0,104.4 129.5,104.4 130.0,104.5 130.5,104.5 131.0,104.4 131.5,104.5 132.0,104.6 132.5,104.7 133.0,104.5 133.5,104.3 134.0,104.4 134.5,104.6 135.0,104.7 135.5,104.7 136.0,104.6 136.5,104.5 137.0,104.4 137.5,104.5 138.0,104.4 138.5,104.5 139.0,104.6 139.5,104.6 140.0,104.4 140.5,104.3 141.0,104.4 141.5,104.3 142.0,104.3 142.5,104.4 143.0,104.5 143.5,104.6 144.0,104.7 144.5,104.6 145.0,104.5 145.5,104.4 146.0,104.4 146.5,104.4 147.0,104.5 147.5,104.5 148.0,104.5 148.5,104.7 149.0,104.7 149.5,104.7 150.0,104.6 150.5,104.7 151.0,104.7 151.5,104.7 152.0,104.6 152.5,104.5 153.0,104.3 153.5,104.3 154.0,104.4 154.5,104.6 155.0,104.6 155.5,104.5 156.0,104.4 156.5,104.4 157.0,104.3 157.5,104.4 158.0,104.3 158.5,104.4 159.0,104.4 159.5,104.5 160.0,104.4 160.5,104.3 161.0,104.4 161.5,104.5 162.0,104.6 162.5,104.6 163.0,104.6 163.5,104.4 164.0,104.4 164.5,104.6 165.0,104.7 165.5,104.5 166.0,104.5 166.5,104.6 167.0,104.7 167.5,104.7 168.0,104.6 168.5,104.4 169.0,104.6 169.5,104.6 170.0,104.4 170.5,104.3 171.0,104.3 171.5,104.6 172.0,104.6 172.5,104.6 173.0,104.5 173.5,104.7 174.0,104.7 174.5,104.7 175.0,104.6 175.5,104.6 176.0,104.5 176.5,104.5 177.0,104.5 177.5,104.5 178.0,104.5 178.5,104.5 179.0,104.6 179.5,104.7 180.0,104.5 180.5,104.4 181.0,104.5 181.5,104.6 182.0,104.6 182.5,104.6 183.0,104.6 183.5,104.5 184.0,104.4 184.5,104.4 185.0,104.5 185.5,104.5 186.0,104.6 186.5,104.6 187.0,104.5 187.5,104.3 188.0,104.3" fill="none" stroke="#0000ff" stroke-width="0.55" stroke-linejoin="round"/>
<polyline points="118.0,110.0 118.5,110.3 119.0,110.4 119.5,110.2 120.0,110.1 120.5,110.1 121.0,110.2 121.5,110.3 122.0,110.2 122.5,110.2 123.0,110.1 123.5,110.1 124.0,110.1 124.5,110.3 125.0,110.2 125.5,110.0 126.0,109.9 126.5,110.0 127.0,110.1 127.5,110.1 128.0,110.1 128.5,110.1 129.0,110.2 129.5,110.2 130.0,110.3 130.5,110.3 131.0,110.3 131.5,110.2 132.0,110.3 132.5,110.2 133.0,110.1 133.5,110.1 134.0,110.1 134.5,110.0 135.0,109.9 135.5,109.8 136.0,109.9 136.5,110.0 137.0,110.0 137.5,110.1 138.0,110.1 138.5,110.2 139.0,110.0 139.5,110.0 140.0,109.9 140.5,109.9 141.0,110.0 141.5,110.1 142.0,110.0 142.5,109.9 143.0,109.9 143.5,110.0 144.0,110.2 144.5,110.3 145.0,110.3 145.5,110.0 146.0,109.8 146.5,109.8 147.0,109.9 147.5,110.0 148.0,110.1 148.5,110.0 149.0,110.1 149.5,110.2 150.0,110.2 150.5,110.1 151.0,110.0 151.5,110.1 152.0,110.1 152.5,110.0 153.0,109.8 153.5,109.8 154.0,109.9 154.5,110.2 155.0,110.3 155.5,110.2 156.0,110.1 156.5,110.1 157.0,110.0 157.5,110.0 158.0,110.0 158.5,110.2 159.0,110.1 159.5,110.1 160.0,110.0 160.5,110.1 161.0,110.1 161.5,110.1 162.0,110.2 162.5,110.2 163.0,110.2 163.5,110.1 164.0,110.1 164.5,110.2 165.0,110.5 165.5,110.4 166.0,110.2 166.5,110.0 167.0,109.9 167.5,110.0 168.0,110.1 168.5,110.1 169.0,110.1 169.5,109.9 170.0,109.9 170.5,110.0 171.0,110.1 171.5,110.0 172.0,110.1 172.5,110.1 173.0,110.0 173.5,109.9 174.0,110.0 174.5,110.3 175.0,110.4 175.5,110.2 176.0,110.0 176.5,110.1 177.0,110.1 177.5,110.2 178.0,110.3 178.5,110.3 179.0,110.2 179.5,110.2 180.0,110.3 180.5,110.2 181.0,110.2 181.5,110.1 182.0,110.1 182.5,110.0 183.0,110.0 183.5,110.0 184.0,109.9 184.5,109.8 185.0,110.0 185.5,110.3 186.0,110.4 186.5,110.4 187.0,110.2 187.5,110.1 188.0,110.1" fill="none" stroke="#008000" stroke-width="0.55" stroke-linejoin="round"/>
<line x1="160.60" y1="117.40" x2="160.60" y2="124.50" stroke="#000" stroke-width="0.8" />
<line x1="162.00" y1="126.10" x2="168.60" y2="126.10" stroke="#000" stroke-width="0.8" />
<text x="162.60" y="118.50" font-size="6" fill="#000" >100 pA</text>
<text x="162.20" y="125.10" font-size="6" fill="#000" >200 ms</text>
<polyline points="290.5,26.7 291.0,26.8 291.5,26.8 292.0,26.7 292.5,26.7 293.0,26.7 293.5,26.7 294.0,26.5 294.5,26.5 295.0,26.5 295.5,26.6 296.0,26.6 296.5,26.7 297.0,26.8 297.5,26.6 298.0,26.5 298.5,26.3 299.0,26.5 299.5,26.7 300.0,26.9 300.5,26.7 301.0,26.7 301.5,26.7 302.0,26.6 302.5,26.5 303.0,26.6 303.5,26.6 304.0,26.4 304.5,26.4 305.0,26.5 305.5,26.6 306.0,26.5 306.5,26.5 307.0,26.6 307.5,26.8 308.0,26.8 308.5,26.7 309.0,26.6 309.5,26.6 310.0,26.6 310.5,27.1 311.0,27.2 311.5,27.2 312.0,26.8 312.5,26.6 313.0,26.4 313.5,26.5 314.0,26.6 314.5,26.7 315.0,26.7 315.5,26.8 316.0,26.8 316.5,26.7 317.0,26.5 317.5,26.4 318.0,26.5 318.5,26.5 319.0,26.6 319.5,26.6 320.0,26.5 320.5,26.4 321.0,26.6 321.5,26.8 322.0,26.6 322.5,26.5 323.0,26.5 323.5,26.5 324.0,26.3 324.5,26.2 325.0,26.5 325.5,22.5 326.0,23.2 326.5,23.7 327.0,24.4 327.5,25.0 328.0,25.6 328.5,25.8 329.0,25.7 329.5,25.8 330.0,26.1 330.5,26.5 331.0,26.6 331.5,26.6 332.0,26.5 332.5,26.3 333.0,25.9 333.5,25.9 334.0,26.1 334.5,26.6 335.0,27.1 335.5,27.2 336.0,27.0 336.5,26.5 337.0,26.4 337.5,26.3 338.0,26.4 338.5,26.4 339.0,26.3 339.5,26.4 340.0,26.6 340.5,26.9 341.0,26.7 341.5,26.4 342.0,26.2 342.5,26.5 343.0,26.7 343.5,26.7 344.0,26.6 344.5,26.6 345.0,26.6 345.5,26.6 346.0,26.5 346.5,26.5 347.0,26.5 347.5,26.6 348.0,26.7 348.5,26.6 349.0,26.6 349.5,26.5 350.0,26.6 350.5,26.8 351.0,26.8 351.5,26.7 352.0,26.6 352.5,26.6 353.0,26.6 353.5,26.9 354.0,27.0 354.5,26.9 355.0,26.9 355.5,26.8 356.0,24.6 356.5,25.0 357.0,25.4 357.5,25.6 358.0,25.9 358.5,26.1 359.0,26.2" fill="none" stroke="#0000ff" stroke-width="0.55" stroke-linejoin="round"/>
<polyline points="290.5,32.1 291.0,32.2 291.5,32.4 292.0,32.4 292.5,32.3 293.0,32.2 293.5,32.3 294.0,32.3 294.5,32.0 295.0,31.9 295.5,32.0 296.0,32.2 296.5,32.4 297.0,32.5 297.5,32.6 298.0,32.2 298.5,32.1 299.0,32.2 299.5,32.4 300.0,32.3 300.5,32.3 301.0,32.3 301.5,32.4 302.0,32.4 302.5,32.3 303.0,31.9 303.5,31.8 304.0,31.9 304.5,32.0 305.0,31.9 305.5,31.8 306.0,31.8 306.5,31.9 307.0,32.1 307.5,32.2 308.0,32.1 308.5,32.1 309.0,32.2 309.5,32.5 310.0,32.7 310.5,32.8 311.0,32.6 311.5,32.4 312.0,32.4 312.5,32.4 313.0,32.2 313.5,32.0 314.0,31.9 314.5,31.8 315.0,31.9 315.5,32.1 316.0,32.2 316.5,32.0 317.0,32.0 317.5,32.1 318.0,32.3 318.5,32.5 319.0,32.5 319.5,32.4 320.0,32.5 320.5,32.6 321.0,32.5 321.5,32.3 322.0,32.1 322.5,32.4 323.0,32.5 323.5,32.6 324.0,32.4 324.5,32.3 325.0,32.2 325.5,23.5 326.0,25.1 326.5,26.5 327.0,27.5 327.5,28.4 328.0,29.1 328.5,29.6 329.0,30.0 329.5,30.5 330.0,30.8 330.5,31.0 331.0,31.1 331.5,26.2 332.0,27.4 332.5,28.4 333.0,29.1 333.5,29.7 334.0,30.5 334.5,30.9 335.0,31.1 335.5,31.2 336.0,31.6 336.5,31.9 337.0,31.7 337.5,31.6 338.0,31.8 338.5,32.1 339.0,32.2 339.5,31.9 340.0,32.0 340.5,32.3 341.0,32.6 341.5,32.4 342.0,32.3 342.5,32.5 343.0,32.5 343.5,32.2 344.0,32.1 344.5,32.2 345.0,32.3 345.5,31.9 346.0,31.9 346.5,31.9 347.0,32.1 347.5,32.0 348.0,32.1 348.5,32.2 349.0,32.2 349.5,32.4 350.0,32.3 350.5,32.2 351.0,32.1 351.5,32.3 352.0,32.4 352.5,32.6 353.0,32.6 353.5,32.5 354.0,32.3 354.5,32.2 355.0,32.1 355.5,32.1 356.0,32.1 356.5,32.2 357.0,32.3 357.5,32.4 358.0,32.2 358.5,32.1 359.0,32.1" fill="none" stroke="#008000" stroke-width="0.55" stroke-linejoin="round"/>
<polyline points="290.5,38.0 291.0,38.0 291.5,38.1 292.0,37.9 292.5,37.8 293.0,37.9 293.5,37.9 294.0,37.7 294.5,37.7 295.0,37.7 295.5,37.8 296.0,37.8 296.5,37.9 297.0,37.9 297.5,38.0 298.0,38.0 298.5,37.8 299.0,37.5 299.5,37.5 300.0,37.6 300.5,37.7 301.0,37.7 301.5,37.7 302.0,37.7 302.5,37.5 303.0,37.5 303.5,37.7 304.0,37.9 304.5,37.8 305.0,37.8 305.5,38.3 306.0,38.2 306.5,37.9 307.0,37.5 307.5,37.6 308.0,37.5 308.5,37.5 309.0,37.6 309.5,37.8 310.0,37.9 310.5,37.9 311.0,37.7 311.5,37.8 312.0,38.0 312.5,38.0 313.0,37.9 313.5,37.9 314.0,37.9 314.5,38.0 315.0,38.2 315.5,38.0 316.0,37.9 316.5,37.9 317.0,37.9 317.5,37.7 318.0,37.8 318.5,38.0 319.0,38.0 319.5,37.8 320.0,37.8 320.5,35.0 321.0,35.6 321.5,35.9 322.0,36.1 322.5,36.6 323.0,37.0 323.5,37.2 324.0,37.2 324.5,37.4 325.0,37.6 325.5,28.1 326.0,30.0 326.5,31.5 327.0,32.7 327.5,33.6 328.0,34.4 328.5,35.2 329.0,35.7 329.5,36.1 330.0,36.3 330.5,36.4 331.0,36.8 331.5,32.3 332.0,33.5 332.5,34.2 333.0,34.6 333.5,35.1 334.0,35.7 334.5,36.3 335.0,36.7 335.5,37.1 336.0,37.1 336.5,37.0 337.0,37.0 337.5,37.3 338.0,37.2 338.5,37.3 339.0,37.3 339.5,37.6 340.0,37.9 340.5,37.9 341.0,37.6 341.5,37.4 342.0,37.6 342.5,37.7 343.0,37.8 343.5,37.7 344.0,37.6 344.5,37.5 345.0,37.7 345.5,37.6 346.0,37.6 346.5,37.6 347.0,37.8 347.5,37.9 348.0,37.7 348.5,37.5 349.0,37.7 349.5,37.8 350.0,37.6 350.5,37.6 351.0,37.8 351.5,38.0 352.0,38.1 352.5,38.1 353.0,38.0 353.5,37.9 354.0,37.8 354.5,37.4 355.0,37.2 355.5,37.3 356.0,34.8 356.5,35.6 357.0,36.3 357.5,36.7 358.0,37.1 358.5,37.3 359.0,37.4" fill="none" stroke="#ff0000" stroke-width="0.55" stroke-linejoin="round"/>
<polyline points="290.5,43.6 291.0,43.8 291.5,43.9 292.0,43.8 292.5,43.6 293.0,43.3 293.5,43.2 294.0,43.3 294.5,43.3 295.0,43.6 295.5,43.4 296.0,43.2 296.5,43.1 297.0,43.5 297.5,43.6 298.0,43.7 298.5,43.8 299.0,43.7 299.5,43.4 300.0,43.4 300.5,43.4 301.0,43.5 301.5,43.5 302.0,43.6 302.5,43.6 303.0,43.6 303.5,43.6 304.0,43.4 304.5,43.4 305.0,43.2 305.5,43.4 306.0,43.4 306.5,43.6 307.0,43.7 307.5,43.8 308.0,43.5 308.5,43.5 309.0,43.5 309.5,43.5 310.0,43.5 310.5,43.5 311.0,43.4 311.5,43.5 312.0,43.5 312.5,43.4 313.0,43.3 313.5,43.6 314.0,43.8 314.5,44.0 315.0,43.8 315.5,43.6 316.0,43.6 316.5,43.7 317.0,43.5 317.5,43.4 318.0,43.4 318.5,43.5 319.0,43.3 319.5,43.3 320.0,43.5 320.5,41.7 321.0,42.3 321.5,42.6 322.0,42.7 322.5,42.8 323.0,42.8 323.5,42.9 324.0,43.0 324.5,43.3 325.0,43.6 325.5,35.1 326.0,36.7 326.5,37.9 327.0,39.0 327.5,39.9 328.0,40.7 328.5,41.3 329.0,41.6 329.5,41.9 330.0,42.2 330.5,42.4 331.0,42.7 331.5,38.9 332.0,39.6 332.5,40.3 333.0,40.8 333.5,41.3 334.0,41.5 334.5,42.0 335.0,42.2 335.5,42.5 336.0,42.7 336.5,43.0 337.0,43.1 337.5,43.1 338.0,43.2 338.5,43.2 339.0,43.2 339.5,43.4 340.0,43.5 340.5,43.3 341.0,43.1 341.5,43.3 342.0,43.4 342.5,43.4 343.0,43.1 343.5,43.3 344.0,43.4 344.5,43.6 345.0,43.7 345.5,43.8 346.0,43.6 346.5,43.4 347.0,43.5 347.5,43.5 348.0,43.3 348.5,43.1 349.0,43.3 349.5,43.5 350.0,43.5 350.5,43.4 351.0,43.5 351.5,43.6 352.0,43.3 352.5,43.3 353.0,43.7 353.5,44.1 354.0,44.1 354.5,43.8 355.0,43.5 355.5,43.4 356.0,38.5 356.5,39.7 357.0,40.6 357.5,41.2 358.0,41.8 358.5,41.9 359.0,42.1" fill="none" stroke="#00bfbf" stroke-width="0.55" stroke-linejoin="round"/>
<polyline points="290.5,49.1 291.0,49.2 291.5,49.4 292.0,49.4 292.5,49.5 293.0,49.5 293.5,49.2 294.0,49.1 294.5,49.2 295.0,49.4 295.5,49.5 296.0,49.4 296.5,49.3 297.0,49.0 297.5,49.0 298.0,49.0 298.5,49.0 299.0,49.0 299.5,49.3 300.0,49.5 300.5,49.4 301.0,49.0 301.5,48.8 302.0,48.9 302.5,49.0 303.0,49.1 303.5,49.3 304.0,49.1 304.5,49.0 305.0,49.0 305.5,49.1 306.0,49.1 306.5,49.0 307.0,49.1 307.5,49.0 308.0,48.9 308.5,48.9 309.0,48.9 309.5,48.8 310.0,48.8 310.5,49.0 311.0,49.2 311.5,49.3 312.0,49.5 312.5,49.4 313.0,49.4 313.5,49.2 314.0,49.3 314.5,49.3 315.0,49.4 315.5,49.2 316.0,49.0 316.5,48.8 317.0,48.8 317.5,48.8 318.0,49.0 318.5,49.0 319.0,49.1 319.5,49.1 320.0,49.2 320.5,49.2 321.0,46.1 321.5,46.4 322.0,46.7 322.5,47.2 323.0,47.4 323.5,47.7 324.0,47.9 324.5,48.0 325.0,46.1 325.5,46.7 326.0,47.1 326.5,47.3 327.0,47.3 327.5,47.7 328.0,47.8 328.5,47.9 329.0,47.7 329.5,48.0 330.0,48.3 330.5,48.6 331.0,48.6 331.5,48.8 332.0,48.8 332.5,48.8 333.0,48.8 333.5,48.9 334.0,49.0 334.5,49.1 335.0,49.0 335.5,48.9 336.0,49.0 336.5,49.2 337.0,49.3 337.5,49.2 338.0,49.2 338.5,49.2 339.0,49.0 339.5,49.1 340.0,49.0 340.5,49.0 341.0,48.9 341.5,49.0 342.0,49.1 342.5,49.3 343.0,49.2 343.5,49.0 344.0,48.7 344.5,48.6 345.0,48.7 345.5,48.9 346.0,49.1 346.5,49.1 347.0,48.9 347.5,48.8 348.0,48.9 348.5,49.2 349.0,49.1 349.5,49.0 350.0,48.9 350.5,49.0 351.0,49.0 351.5,49.1 352.0,49.2 352.5,49.4 353.0,49.3 353.5,49.3 354.0,49.2 354.5,49.4 355.0,49.2 355.5,49.1 356.0,49.0 356.5,49.3 357.0,49.3 357.5,49.4 358.0,49.3 358.5,49.2 359.0,49.0" fill="none" stroke="#bf00bf" stroke-width="0.55" stroke-linejoin="round"/>
<polyline points="290.5,54.5 291.0,54.4 291.5,54.4 292.0,54.6 292.5,54.7 293.0,54.6 293.5,54.5 294.0,54.6 294.5,54.7 295.0,54.7 295.5,54.4 296.0,54.5 296.5,54.7 297.0,55.0 297.5,54.8 298.0,54.6 298.5,54.7 299.0,54.9 299.5,54.9 300.0,54.9 300.5,55.3 301.0,55.4 301.5,55.2 302.0,54.9 302.5,54.7 303.0,54.7 303.5,54.7 304.0,54.8 304.5,55.0 305.0,52.1 305.5,52.5 306.0,52.9 306.5,53.1 307.0,53.3 307.5,53.6 308.0,53.9 308.5,53.8 309.0,53.8 309.5,54.2 310.0,54.5 310.5,54.3 311.0,54.2 311.5,54.4 312.0,54.4 312.5,54.5 313.0,54.6 313.5,54.9 314.0,54.8 314.5,54.6 315.0,54.5 315.5,54.5 316.0,50.5 316.5,51.7 317.0,52.4 317.5,53.2 318.0,53.9 318.5,54.2 319.0,54.4 319.5,54.5 320.0,54.6 320.5,54.6 321.0,54.7 321.5,54.6 322.0,54.8 322.5,54.8 323.0,54.6 323.5,54.3 324.0,54.5 324.5,54.6 325.0,54.4 325.5,54.5 326.0,54.7 326.5,54.9 327.0,54.7 327.5,54.7 328.0,54.6 328.5,54.7 329.0,54.7 329.5,54.8 330.0,54.9 330.5,54.9 331.0,54.8 331.5,54.9 332.0,54.7 332.5,54.7 333.0,54.7 333.5,54.8 334.0,54.8 334.5,54.7 335.0,54.7 335.5,54.7 336.0,54.7 336.5,54.7 337.0,54.8 337.5,54.6 338.0,54.7 338.5,54.8 339.0,54.9 339.5,54.8 340.0,55.0 340.5,54.8 341.0,52.6 341.5,52.8 342.0,53.2 342.5,53.5 343.0,53.9 343.5,54.0 344.0,54.0 344.5,54.1 345.0,54.3 345.5,54.4 346.0,54.4 346.5,54.3 347.0,54.5 347.5,54.8 348.0,54.8 348.5,54.8 349.0,54.8 349.5,54.9 350.0,54.9 350.5,54.8 351.0,54.6 351.5,54.5 352.0,54.4 352.5,54.4 353.0,54.2 353.5,54.2 354.0,54.2 354.5,54.6 355.0,55.0 355.5,55.2 356.0,55.0 356.5,54.5 357.0,54.6 357.5,54.5 358.0,54.6 358.5,54.5 359.0,54.7" fill="none" stroke="#bfbf00" stroke-width="0.55" stroke-linejoin="round"/>
<polyline points="290.5,60.7 291.0,60.6 291.5,60.3 292.0,60.3 292.5,60.4 293.0,60.4 293.5,60.3 294.0,60.1 294.5,60.1 295.0,60.0 295.5,60.1 296.0,60.4 296.5,60.7 297.0,60.6 297.5,60.2 298.0,60.1 298.5,60.3 299.0,60.4 299.5,60.4 300.0,60.4 300.5,60.5 301.0,60.3 301.5,60.1 302.0,60.2 302.5,60.6 303.0,60.7 303.5,60.5 304.0,60.3 304.5,60.2 305.0,60.3 305.5,60.4 306.0,60.5 306.5,60.4 307.0,60.3 307.5,59.9 308.0,60.1 308.5,60.2 309.0,60.4 309.5,60.3 310.0,60.4 310.5,60.7 311.0,60.6 311.5,60.4 312.0,60.3 312.5,60.2 313.0,60.1 313.5,60.1 314.0,58.2 314.5,58.8 315.0,59.1 315.5,59.3 316.0,59.4 316.5,59.6 317.0,59.9 317.5,60.2 318.0,60.4 318.5,60.4 319.0,60.1 319.5,59.9 320.0,60.0 320.5,60.0 321.0,60.0 321.5,59.9 322.0,60.1 322.5,60.3 323.0,60.4 323.5,60.4 324.0,60.4 324.5,60.3 325.0,60.2 325.5,60.1 326.0,60.2 326.5,60.2 327.0,60.4 327.5,60.5 328.0,60.4 328.5,60.4 329.0,60.1 329.5,60.1 330.0,60.0 330.5,60.2 331.0,60.5 331.5,60.6 332.0,60.6 332.5,60.4 333.0,60.3 333.5,60.1 334.0,60.1 334.5,60.0 335.0,60.1 335.5,60.2 336.0,60.2 336.5,60.1 337.0,60.2 337.5,60.3 338.0,60.1 338.5,60.0 339.0,60.1 339.5,60.5 340.0,58.6 340.5,59.0 341.0,59.1 341.5,59.3 342.0,59.4 342.5,59.2 343.0,59.5 343.5,59.8 344.0,60.0 344.5,59.9 345.0,60.0 345.5,60.1 346.0,60.0 346.5,60.0 347.0,60.0 347.5,60.1 348.0,60.0 348.5,60.0 349.0,60.1 349.5,60.1 350.0,60.0 350.5,60.1 351.0,60.4 351.5,60.5 352.0,60.6 352.5,60.5 353.0,60.4 353.5,60.5 354.0,60.6 354.5,60.5 355.0,60.2 355.5,60.4 356.0,60.3 356.5,60.4 357.0,60.5 357.5,60.7 358.0,60.6 358.5,60.4 359.0,60.2" fill="none" stroke="#404040" stroke-width="0.55" stroke-linejoin="round"/>
<polyline points="290.5,65.8 291.0,66.0 291.5,66.2 292.0,66.3 292.5,66.2 293.0,66.3 293.5,66.2 294.0,66.1 294.5,65.9 295.0,65.9 295.5,66.0 296.0,66.2 296.5,66.4 297.0,66.1 297.5,65.8 298.0,65.8 298.5,65.8 299.0,65.9 299.5,65.7 300.0,65.8 300.5,65.8 301.0,65.9 301.5,66.0 302.0,66.1 302.5,61.7 303.0,62.3 303.5,62.8 304.0,63.1 304.5,63.6 305.0,63.9 305.5,64.2 306.0,64.5 306.5,64.8 307.0,64.7 307.5,64.7 308.0,65.2 308.5,65.6 309.0,65.7 309.5,65.5 310.0,65.4 310.5,65.6 311.0,65.7 311.5,65.9 312.0,65.7 312.5,65.7 313.0,65.6 313.5,65.8 314.0,66.0 314.5,66.3 315.0,66.3 315.5,66.2 316.0,66.0 316.5,65.7 317.0,65.6 317.5,65.9 318.0,66.1 318.5,66.2 319.0,65.9 319.5,65.8 320.0,65.7 320.5,65.9 321.0,66.2 321.5,66.4 322.0,66.4 322.5,66.2 323.0,66.0 323.5,66.0 324.0,66.1 324.5,66.0 325.0,65.9 325.5,66.1 326.0,66.2 326.5,66.2 327.0,66.2 327.5,66.1 328.0,65.8 328.5,65.9 329.0,66.1 329.5,66.2 330.0,66.0 330.5,66.0 331.0,66.1 331.5,65.9 332.0,65.9 332.5,66.0 333.0,66.1 333.5,66.0 334.0,66.0 334.5,65.9 335.0,65.9 335.5,65.9 336.0,66.0 336.5,66.1 337.0,66.2 337.5,66.3 338.0,66.2 338.5,66.1 339.0,66.2 339.5,66.2 340.0,66.0 340.5,66.1 341.0,66.0 341.5,65.9 342.0,65.8 342.5,65.9 343.0,65.8 343.5,65.9 344.0,65.8 344.5,65.9 345.0,65.9 345.5,66.0 346.0,66.0 346.5,66.1 347.0,66.1 347.5,65.7 348.0,65.7 348.5,65.9 349.0,66.0 349.5,65.9 350.0,66.0 350.5,66.1 351.0,66.0 351.5,65.9 352.0,65.8 352.5,65.7 353.0,65.7 353.5,65.8 354.0,66.0 354.5,66.1 355.0,66.1 355.5,66.0 356.0,66.0 356.5,66.1 357.0,65.9 357.5,65.6 358.0,65.6 358.5,65.8 359.0,66.0" fill="none" stroke="#0000ff" stroke-width="0.55" stroke-linejoin="round"/>
<polyline points="290.5,71.5 291.0,71.4 291.5,71.4 292.0,71.6 292.5,71.6 293.0,71.7 293.5,71.7 294.0,71.7 294.5,71.6 295.0,71.6 295.5,71.4 296.0,71.4 296.5,71.4 297.0,71.6 297.5,71.6 298.0,71.6 298.5,71.6 299.0,71.6 299.5,71.5 300.0,71.7 300.5,71.8 301.0,71.9 301.5,71.7 302.0,71.8 302.5,71.9 303.0,72.1 303.5,71.8 304.0,71.7 304.5,71.6 305.0,71.8 305.5,71.9 306.0,72.0 306.5,71.8 307.0,71.6 307.5,71.5 308.0,71.5 308.5,71.6 309.0,71.7 309.5,71.6 310.0,71.4 310.5,71.3 311.0,71.3 311.5,71.6 312.0,71.8 312.5,71.6 313.0,71.6 313.5,71.7 314.0,71.9 314.5,71.8 315.0,71.5 315.5,71.6 316.0,71.7 316.5,71.7 317.0,71.6 317.5,71.8 318.0,71.8 318.5,71.4 319.0,71.4 319.5,71.7 320.0,71.8 320.5,71.5 321.0,71.3 321.5,71.7 322.0,71.8 322.5,71.7 323.0,71.4 323.5,71.5 324.0,71.5 324.5,71.7 325.0,71.6 325.5,71.3 326.0,71.5 326.5,71.9 327.0,71.8 327.5,71.5 328.0,71.6 328.5,71.8 329.0,71.8 329.5,71.6 330.0,69.7 330.5,70.2 331.0,70.5 331.5,70.7 332.0,71.0 332.5,71.1 333.0,71.3 333.5,71.2 334.0,71.1 334.5,71.2 335.0,71.4 335.5,71.4 336.0,71.3 336.5,71.3 337.0,71.2 337.5,71.1 338.0,71.2 338.5,71.5 339.0,71.6 339.5,71.5 340.0,69.4 340.5,70.2 341.0,70.8 341.5,71.0 342.0,70.9 342.5,70.8 343.0,71.1 343.5,71.3 344.0,71.4 344.5,71.3 345.0,71.4 345.5,71.5 346.0,71.6 346.5,71.9 347.0,72.0 347.5,72.1 348.0,71.9 348.5,71.7 349.0,71.4 349.5,71.4 350.0,71.5 350.5,71.6 351.0,71.7 351.5,71.6 352.0,71.5 352.5,71.6 353.0,71.7 353.5,71.7 354.0,71.6 354.5,71.6 355.0,71.3 355.5,71.3 356.0,71.5 356.5,71.9 357.0,72.0 357.5,71.9 358.0,71.9 358.5,71.9 359.0,71.8" fill="none" stroke="#008000" stroke-width="0.55" stroke-linejoin="round"/>
<polyline points="290.5,77.2 291.0,77.3 291.5,77.5 292.0,77.3 292.5,77.4 293.0,77.4 293.5,77.2 294.0,77.0 294.5,77.0 295.0,77.2 295.5,77.3 296.0,77.4 296.5,77.3 297.0,77.3 297.5,77.3 298.0,77.2 298.5,76.9 299.0,77.1 299.5,77.5 300.0,75.7 300.5,75.9 301.0,76.0 301.5,76.0 302.0,76.4 302.5,76.8 303.0,77.0 303.5,77.0 304.0,77.0 304.5,77.1 305.0,77.1 305.5,77.0 306.0,77.1 306.5,77.5 307.0,77.6 307.5,77.4 308.0,77.2 308.5,77.3 309.0,77.4 309.5,77.3 310.0,77.2 310.5,77.1 311.0,74.8 311.5,75.5 312.0,75.9 312.5,76.2 313.0,76.6 313.5,76.8 314.0,76.7 314.5,76.7 315.0,76.6 315.5,76.8 316.0,76.9 316.5,77.3 317.0,77.4 317.5,77.2 318.0,77.0 318.5,76.9 319.0,77.0 319.5,77.0 320.0,77.2 320.5,77.2 321.0,77.2 321.5,77.1 322.0,77.0 322.5,77.1 323.0,77.2 323.5,77.4 324.0,77.5 324.5,77.3 325.0,77.4 325.5,77.4 326.0,77.2 326.5,77.0 327.0,77.2 327.5,77.4 328.0,77.2 328.5,77.1 329.0,77.1 329.5,77.2 330.0,77.2 330.5,77.0 331.0,76.8 331.5,77.0 332.0,77.4 332.5,77.3 333.0,77.2 333.5,77.1 334.0,77.1 334.5,77.3 335.0,77.4 335.5,77.3 336.0,77.3 336.5,77.5 337.0,77.5 337.5,77.6 338.0,77.4 338.5,77.5 339.0,77.4 339.5,77.4 340.0,77.3 340.5,77.4 341.0,77.5 341.5,77.3 342.0,77.5 342.5,77.5 343.0,77.7 343.5,77.6 344.0,77.4 344.5,77.2 345.0,77.2 345.5,77.4 346.0,77.1 346.5,77.0 347.0,74.3 347.5,75.2 348.0,75.9 348.5,76.2 349.0,76.3 349.5,76.5 350.0,76.7 350.5,76.9 351.0,77.0 351.5,77.0 352.0,76.9 352.5,77.1 353.0,77.1 353.5,77.2 354.0,77.1 354.5,77.0 355.0,76.8 355.5,76.9 356.0,77.0 356.5,77.4 357.0,77.4 357.5,77.4 358.0,77.2 358.5,77.3 359.0,77.3" fill="none" stroke="#ff0000" stroke-width="0.55" stroke-linejoin="round"/>
<polyline points="290.5,83.1 291.0,83.0 291.5,82.7 292.0,82.7 292.5,82.9 293.0,82.9 293.5,82.9 294.0,82.6 294.5,82.7 295.0,82.7 295.5,82.9 296.0,82.6 296.5,82.7 297.0,82.7 297.5,82.8 298.0,82.6 298.5,82.7 299.0,82.9 299.5,83.1 300.0,82.9 300.5,82.5 301.0,82.3 301.5,82.3 302.0,82.6 302.5,82.9 303.0,83.0 303.5,83.0 304.0,83.0 304.5,83.3 305.0,83.2 305.5,83.1 306.0,82.6 306.5,82.4 307.0,82.5 307.5,82.8 308.0,83.0 308.5,83.0 309.0,83.3 309.5,83.0 310.0,82.8 310.5,82.8 311.0,83.0 311.5,82.9 312.0,82.7 312.5,82.7 313.0,82.9 313.5,83.0 314.0,83.0 314.5,82.8 315.0,82.8 315.5,83.0 316.0,83.0 316.5,82.9 317.0,82.8 317.5,82.8 318.0,82.6 318.5,82.5 319.0,82.5 319.5,82.5 320.0,82.8 320.5,83.0 321.0,83.0 321.5,82.7 322.0,82.4 322.5,82.3 323.0,82.4 323.5,82.6 324.0,82.7 324.5,82.7 325.0,82.8 325.5,83.0 326.0,82.9 326.5,83.0 327.0,82.9 327.5,83.1 328.0,82.9 328.5,83.0 329.0,82.8 329.5,83.0 330.0,83.0 330.5,83.0 331.0,82.8 331.5,82.8 332.0,83.0 332.5,83.2 333.0,83.2 333.5,83.0 334.0,82.9 334.5,82.9 335.0,83.0 335.5,83.0 336.0,83.1 336.5,83.0 337.0,82.7 337.5,82.8 338.0,82.8 338.5,82.8 339.0,82.9 339.5,83.2 340.0,83.3 340.5,83.0 341.0,82.8 341.5,82.7 342.0,82.7 342.5,82.9 343.0,83.3 343.5,83.3 344.0,83.2 344.5,82.9 345.0,82.9 345.5,82.9 346.0,82.9 346.5,82.7 347.0,82.4 347.5,82.8 348.0,83.0 348.5,83.1 349.0,83.0 349.5,83.1 350.0,83.0 350.5,82.9 351.0,82.8 351.5,82.8 352.0,82.8 352.5,82.7 353.0,83.0 353.5,83.3 354.0,83.2 354.5,82.8 355.0,82.8 355.5,82.8 356.0,83.0 356.5,82.9 357.0,82.9 357.5,82.9 358.0,83.1 358.5,83.0 359.0,82.9" fill="none" stroke="#00bfbf" stroke-width="0.55" stroke-linejoin="round"/>
<polyline points="290.5,88.7 291.0,88.7 291.5,88.7 292.0,88.5 292.5,88.5 293.0,88.3 293.5,88.2 294.0,88.3 294.5,88.5 295.0,88.7 295.5,88.5 296.0,88.3 296.5,88.1 297.0,88.3 297.5,88.6 298.0,88.7 298.5,88.5 299.0,88.3 299.5,88.5 300.0,88.4 300.5,88.3 301.0,88.5 301.5,88.5 302.0,88.6 302.5,88.5 303.0,88.4 303.5,88.2 304.0,88.2 304.5,88.6 305.0,88.8 305.5,88.6 306.0,88.4 306.5,88.6 307.0,88.8 307.5,88.9 308.0,88.7 308.5,88.5 309.0,88.2 309.5,88.3 310.0,88.5 310.5,88.5 311.0,88.4 311.5,88.5 312.0,85.3 312.5,86.2 313.0,86.8 313.5,87.5 314.0,87.9 314.5,88.3 315.0,88.5 315.5,88.4 316.0,88.0 316.5,87.9 317.0,88.0 317.5,88.2 318.0,88.5 318.5,88.6 319.0,88.5 319.5,88.5 320.0,88.4 320.5,88.5 321.0,88.7 321.5,89.0 322.0,89.0 322.5,89.0 323.0,88.7 323.5,88.5 324.0,88.4 324.5,88.4 325.0,88.2 325.5,88.2 326.0,88.3 326.5,88.3 327.0,88.3 327.5,88.4 328.0,88.6 328.5,88.7 329.0,88.8 329.5,88.5 330.0,88.5 330.5,88.5 331.0,88.4 331.5,88.2 332.0,88.1 332.5,88.1 333.0,88.3 333.5,88.4 334.0,88.5 334.5,88.5 335.0,88.6 335.5,88.4 336.0,88.3 336.5,88.4 337.0,88.6 337.5,88.3 338.0,88.2 338.5,88.2 339.0,88.4 339.5,88.5 340.0,88.7 340.5,88.7 341.0,88.4 341.5,88.4 342.0,88.3 342.5,88.5 343.0,88.5 343.5,88.5 344.0,88.3 344.5,88.3 345.0,88.6 345.5,88.7 346.0,88.7 346.5,88.3 347.0,88.3 347.5,88.2 348.0,88.6 348.5,88.7 349.0,88.8 349.5,88.6 350.0,88.5 350.5,88.4 351.0,88.5 351.5,88.6 352.0,88.5 352.5,88.5 353.0,88.7 353.5,88.8 354.0,88.7 354.5,88.7 355.0,88.6 355.5,88.5 356.0,88.4 356.5,88.5 357.0,88.3 357.5,88.2 358.0,88.2 358.5,88.4 359.0,88.6" fill="none" stroke="#bf00bf" stroke-width="0.55" stroke-linejoin="round"/>
<polyline points="290.5,94.2 291.0,94.1 291.5,94.1 292.0,94.1 292.5,94.3 293.0,94.3 293.5,94.6 294.0,94.2 294.5,94.0 295.0,93.9 295.5,94.2 296.0,94.1 296.5,94.3 297.0,94.3 297.5,94.1 298.0,93.8 298.5,93.9 299.0,94.1 299.5,94.1 300.0,94.2 300.5,94.1 301.0,94.0 301.5,94.0 302.0,94.1 302.5,94.1 303.0,94.1 303.5,93.9 304.0,93.8 304.5,93.9 305.0,94.3 305.5,94.4 306.0,94.2 306.5,94.0 307.0,94.4 307.5,94.6 308.0,94.4 308.5,94.2 309.0,94.2 309.5,94.3 310.0,94.0 310.5,93.9 311.0,94.0 311.5,94.2 312.0,94.0 312.5,93.8 313.0,93.8 313.5,94.2 314.0,94.4 314.5,94.3 315.0,94.2 315.5,94.1 316.0,94.0 316.5,93.9 317.0,94.0 317.5,93.9 318.0,94.1 318.5,94.2 319.0,94.0 319.5,94.0 320.0,94.1 320.5,94.2 321.0,94.0 321.5,94.1 322.0,94.4 322.5,94.3 323.0,94.1 323.5,93.8 324.0,93.8 324.5,93.9 325.0,94.1 325.5,94.1 326.0,94.3 326.5,94.2 327.0,94.1 327.5,93.9 328.0,94.0 328.5,94.0 329.0,94.1 329.5,94.2 330.0,94.3 330.5,94.4 331.0,94.3 331.5,94.2 332.0,94.1 332.5,94.1 333.0,94.1 333.5,94.1 334.0,94.3 334.5,94.3 335.0,94.4 335.5,94.3 336.0,94.3 336.5,94.2 337.0,94.3 337.5,94.5 338.0,94.5 338.5,94.3 339.0,94.0 339.5,93.9 340.0,93.8 340.5,93.8 341.0,93.9 341.5,94.2 342.0,94.4 342.5,94.4 343.0,92.8 343.5,92.9 344.0,93.2 344.5,93.4 345.0,93.5 345.5,93.6 346.0,93.7 346.5,93.8 347.0,93.9 347.5,94.1 348.0,94.1 348.5,94.0 349.0,94.0 349.5,94.1 350.0,93.9 350.5,93.9 351.0,94.0 351.5,94.2 352.0,94.2 352.5,94.2 353.0,94.0 353.5,93.8 354.0,93.7 354.5,93.9 355.0,94.0 355.5,93.9 356.0,94.0 356.5,94.1 357.0,94.2 357.5,94.1 358.0,93.9 358.5,93.9 359.0,94.0" fill="none" stroke="#bfbf00" stroke-width="0.55" stroke-linejoin="round"/>
<polyline points="290.5,99.9 291.0,99.5 291.5,99.2 292.0,99.3 292.5,99.7 293.0,99.9 293.5,99.9 294.0,99.8 294.5,99.8 295.0,99.6 295.5,99.5 296.0,99.7 296.5,99.9 297.0,100.0 297.5,100.0 298.0,100.1 298.5,100.0 299.0,99.7 299.5,99.8 300.0,99.7 300.5,99.5 301.0,99.3 301.5,99.4 302.0,99.6 302.5,99.8 303.0,99.9 303.5,99.8 304.0,99.6 304.5,99.3 305.0,99.2 305.5,99.3 306.0,99.4 306.5,99.6 307.0,99.9 307.5,100.1 308.0,100.0 308.5,99.8 309.0,99.8 309.5,99.5 310.0,99.4 310.5,99.3 311.0,99.5 311.5,99.7 312.0,99.6 312.5,99.7 313.0,99.8 313.5,99.7 314.0,99.6 314.5,99.5 315.0,99.4 315.5,99.5 316.0,99.7 316.5,99.9 317.0,99.8 317.5,99.8 318.0,99.7 318.5,99.7 319.0,99.5 319.5,99.6 320.0,99.8 320.5,99.8 321.0,99.7 321.5,99.4 322.0,99.5 322.5,99.5 323.0,99.4 323.5,99.4 324.0,99.4 324.5,99.7 325.0,99.7 325.5,99.8 326.0,99.7 326.5,99.8 327.0,99.7 327.5,99.5 328.0,99.7 328.5,99.8 329.0,100.0 329.5,99.7 330.0,99.7 330.5,99.6 331.0,99.8 331.5,99.7 332.0,99.6 332.5,99.6 333.0,99.7 333.5,99.9 334.0,99.9 334.5,99.8 335.0,99.7 335.5,99.6 336.0,96.9 336.5,97.7 337.0,98.4 337.5,98.5 338.0,98.6 338.5,98.7 339.0,98.9 339.5,98.9 340.0,99.1 340.5,99.4 341.0,99.7 341.5,99.5 342.0,96.6 342.5,97.2 343.0,97.7 343.5,97.7 344.0,98.1 344.5,98.6 345.0,98.8 345.5,98.7 346.0,98.9 346.5,99.1 347.0,99.3 347.5,99.2 348.0,96.6 348.5,97.2 349.0,97.9 349.5,98.4 350.0,98.4 350.5,98.4 351.0,98.6 351.5,98.7 352.0,98.9 352.5,99.1 353.0,99.4 353.5,99.4 354.0,99.5 354.5,99.4 355.0,99.5 355.5,99.6 356.0,100.0 356.5,99.9 357.0,99.8 357.5,99.7 358.0,99.8 358.5,99.8 359.0,99.9" fill="none" stroke="#404040" stroke-width="0.55" stroke-linejoin="round"/>
<polyline points="290.5,105.2 291.0,105.2 291.5,105.2 292.0,105.3 292.5,105.5 293.0,105.5 293.5,105.4 294.0,105.1 294.5,105.4 295.0,105.7 295.5,106.0 296.0,105.9 296.5,105.6 297.0,105.3 297.5,105.2 298.0,105.3 298.5,105.3 299.0,105.3 299.5,105.3 300.0,105.3 300.5,105.5 301.0,105.7 301.5,105.5 302.0,105.3 302.5,105.3 303.0,105.5 303.5,105.5 304.0,105.4 304.5,105.3 305.0,105.4 305.5,105.9 306.0,106.0 306.5,106.0 307.0,105.9 307.5,105.8 308.0,105.4 308.5,105.4 309.0,102.5 309.5,103.1 310.0,103.5 310.5,103.9 311.0,104.4 311.5,104.8 312.0,105.2 312.5,105.3 313.0,105.2 313.5,105.2 314.0,105.3 314.5,105.6 315.0,102.5 315.5,103.0 316.0,103.4 316.5,103.9 317.0,104.4 317.5,104.8 318.0,104.9 318.5,105.0 319.0,105.0 319.5,104.9 320.0,101.9 320.5,102.7 321.0,103.3 321.5,103.7 322.0,104.2 322.5,104.7 323.0,104.9 323.5,102.8 324.0,103.3 324.5,103.8 325.0,104.0 325.5,104.2 326.0,104.5 326.5,104.9 327.0,105.1 327.5,104.9 328.0,105.0 328.5,105.2 329.0,105.4 329.5,105.6 330.0,105.6 330.5,105.6 331.0,105.4 331.5,105.4 332.0,105.5 332.5,105.6 333.0,105.7 333.5,105.5 334.0,105.4 334.5,105.3 335.0,105.5 335.5,105.5 336.0,105.7 336.5,105.7 337.0,105.7 337.5,105.4 338.0,105.3 338.5,105.3 339.0,105.3 339.5,105.3 340.0,105.2 340.5,105.2 341.0,105.2 341.5,105.3 342.0,105.4 342.5,105.4 343.0,105.4 343.5,105.3 344.0,105.1 344.5,105.2 345.0,105.5 345.5,105.6 346.0,105.5 346.5,105.3 347.0,105.3 347.5,105.3 348.0,105.4 348.5,105.4 349.0,105.4 349.5,105.3 350.0,105.0 350.5,104.9 351.0,105.1 351.5,105.4 352.0,105.4 352.5,105.4 353.0,105.3 353.5,105.4 354.0,105.4 354.5,105.5 355.0,105.4 355.5,105.2 356.0,105.1 356.5,105.4 357.0,105.7 357.5,105.9 358.0,105.8 358.5,105.6 359.0,105.4" fill="none" stroke="#0000ff" stroke-width="0.55" stroke-linejoin="round"/>
<polyline points="290.5,111.0 291.0,111.0 291.5,111.1 292.0,111.2 292.5,111.4 293.0,111.5 293.5,111.1 294.0,111.0 294.5,110.9 295.0,110.8 295.5,110.7 296.0,110.9 296.5,111.1 297.0,111.1 297.5,111.0 298.0,110.9 298.5,110.8 299.0,110.8 299.5,110.7 300.0,110.8 300.5,110.9 301.0,111.0 301.5,111.1 302.0,111.1 302.5,111.1 303.0,111.0 303.5,110.9 304.0,110.9 304.5,111.0 305.0,111.2 305.5,111.3 306.0,111.3 306.5,111.5 307.0,111.4 307.5,111.3 308.0,111.1 308.5,110.9 309.0,110.7 309.5,110.7 310.0,110.7 310.5,110.9 311.0,110.9 311.5,111.0 312.0,111.0 312.5,111.0 313.0,110.8 313.5,110.7 314.0,110.8 314.5,110.8 315.0,111.0 315.5,111.1 316.0,111.3 316.5,111.2 317.0,111.2 317.5,111.0 318.0,109.3 318.5,109.7 319.0,110.2 319.5,110.5 320.0,110.6 320.5,110.7 321.0,110.6 321.5,110.9 322.0,111.1 322.5,111.1 323.0,110.8 323.5,110.7 324.0,110.9 324.5,111.0 325.0,111.1 325.5,111.0 326.0,111.0 326.5,110.8 327.0,110.9 327.5,111.0 328.0,111.2 328.5,111.3 329.0,111.3 329.5,111.1 330.0,111.1 330.5,111.3 331.0,111.3 331.5,110.9 332.0,110.7 332.5,110.6 333.0,111.0 333.5,111.2 334.0,111.2 334.5,110.9 335.0,110.9 335.5,110.9 336.0,110.8 336.5,110.6 337.0,110.6 337.5,111.0 338.0,111.0 338.5,110.9 339.0,110.8 339.5,110.7 340.0,110.7 340.5,110.9 341.0,111.1 341.5,111.0 342.0,111.0 342.5,110.7 343.0,110.7 343.5,110.7 344.0,110.8 344.5,110.9 345.0,111.0 345.5,110.9 346.0,110.8 346.5,111.0 347.0,111.2 347.5,111.2 348.0,111.4 348.5,111.3 349.0,111.2 349.5,111.1 350.0,111.2 350.5,111.2 351.0,111.3 351.5,111.3 352.0,110.9 352.5,110.6 353.0,110.6 353.5,111.0 354.0,111.2 354.5,111.3 355.0,111.1 355.5,111.1 356.0,111.0 356.5,111.0 357.0,111.1 357.5,111.3 358.0,111.2 358.5,111.2 359.0,111.1" fill="none" stroke="#008000" stroke-width="0.55" stroke-linejoin="round"/>
<clipPath id="clip1"><rect x="195.2" y="25.2" width="65.8" height="88.3"/></clipPath>
<g clip-path="url(#clip1)"><g filter="url(#jetn)">
<rect x="187.20" y="17.20" width="81.80" height="104.30" fill="rgb(242,242,242)" />
<ellipse cx="228" cy="29" rx="34" ry="9" fill="rgb(231,231,231)" transform="rotate(0 228 29)" filter="url(#gb4)"/>
<circle cx="211" cy="28" r="5" fill="rgb(223,223,223)" filter="url(#gb3)"/>
<circle cx="246" cy="33" r="4" fill="rgb(219,219,219)" filter="url(#gb2)"/>
<circle cx="218" cy="33" r="2.5" fill="rgb(249,249,249)" filter="url(#gb1.5)"/>
<circle cx="243" cy="41" r="2.5" fill="rgb(249,249,249)" filter="url(#gb1.5)"/>
<circle cx="207" cy="44" r="2.5" fill="rgb(246,246,246)" filter="url(#gb1.5)"/>
<circle cx="253" cy="28" r="2" fill="rgb(249,249,249)" filter="url(#gb1.5)"/>
<ellipse cx="232.5" cy="35.5" rx="9.5" ry="8" fill="rgb(204,204,204)" transform="rotate(0 232.5 35.5)" filter="url(#gb2)"/>
<ellipse cx="238.5" cy="33.5" rx="6" ry="3.2" fill="rgb(173,173,173)" transform="rotate(0 238.5 33.5)" filter="url(#gb1.5)"/>
<circle cx="229.3" cy="35.8" r="6.4" fill="rgb(158,158,158)" filter="url(#gb1.2)"/>
<circle cx="229.2" cy="35.2" r="4.7" fill="rgb(87,87,87)" filter="url(#gb1.0)"/>
<circle cx="229.2" cy="35" r="3.4" fill="rgb(33,33,33)" filter="url(#gb1.0)"/>
<circle cx="229.2" cy="34.8" r="1.8" fill="rgb(5,5,5)" filter="url(#gb0.8)"/>
</g></g>
<path d="M228.1,36.4 L230.5,36.4 L229.3,34 Z" fill="none" stroke="#aab" stroke-width="0.4"/>
<rect x="263.20" y="25.50" width="4.80" height="88.00" fill="url(#cbar)" />
<text x="269.50" y="29.20" font-size="9" fill="#000" >0</text>
<text x="269.50" y="47.10" font-size="9" fill="#000" >-0.2</text>
<text x="269.50" y="64.00" font-size="9" fill="#000" >-0.4</text>
<text x="269.50" y="81.00" font-size="9" fill="#000" >-0.6</text>
<text x="269.50" y="98.30" font-size="9" fill="#000" >-0.8</text>
<text x="269.50" y="114.80" font-size="9" fill="#000" >-1</text>
<clipPath id="clip2"><rect x="364.6" y="26" width="65.4" height="87.2"/></clipPath>
<g clip-path="url(#clip2)"><g filter="url(#jetn)">
<rect x="356.60" y="18.00" width="81.40" height="103.20" fill="rgb(20,20,20)" />
<ellipse cx="408" cy="36" rx="23" ry="11.5" fill="rgb(102,102,102)" transform="rotate(0 408 36)" filter="url(#gb2.5)"/>
<ellipse cx="377" cy="31" rx="3.5" ry="9.5" fill="rgb(97,97,97)" transform="rotate(0 377 31)" filter="url(#gb1.5)"/>
<circle cx="383.5" cy="41" r="2.5" fill="rgb(41,41,41)" filter="url(#gb1.5)"/>
<circle cx="378" cy="45" r="2" fill="rgb(51,51,51)" filter="url(#gb1.5)"/>
<ellipse cx="406" cy="34" rx="20" ry="7.5" fill="rgb(135,135,135)" transform="rotate(0 406 34)" filter="url(#gb2)"/>
<ellipse cx="398" cy="33.5" rx="13" ry="6" fill="rgb(168,168,168)" transform="rotate(0 398 33.5)" filter="url(#gb1.5)"/>
<ellipse cx="422" cy="38" rx="7.5" ry="8.5" fill="rgb(168,168,168)" transform="rotate(0 422 38)" filter="url(#gb1.5)"/>
<ellipse cx="397.5" cy="33.8" rx="10" ry="3.8" fill="rgb(224,224,224)" transform="rotate(0 397.5 33.8)" filter="url(#gb1)"/>
<circle cx="398.5" cy="28" r="2.3" fill="rgb(219,219,219)" filter="url(#gb1)"/>
<ellipse cx="421.5" cy="37.5" rx="4.2" ry="6.5" fill="rgb(224,224,224)" transform="rotate(0 421.5 37.5)" filter="url(#gb1)"/>
<circle cx="421.5" cy="35.6" r="2" fill="rgb(247,247,247)" filter="url(#gb1)"/>
<circle cx="395.5" cy="34" r="2.4" fill="rgb(242,242,242)" filter="url(#gb1)"/>
<circle cx="385" cy="55" r="2.5" fill="rgb(38,38,38)" filter="url(#gb2)"/>
<circle cx="400" cy="70" r="2.5" fill="rgb(38,38,38)" filter="url(#gb2)"/>
<circle cx="393" cy="88" r="2.5" fill="rgb(38,38,38)" filter="url(#gb2)"/>
<circle cx="410" cy="60" r="2" fill="rgb(36,36,36)" filter="url(#gb2)"/>
<circle cx="375" cy="75" r="2" fill="rgb(33,33,33)" filter="url(#gb2)"/>
<circle cx="420" cy="80" r="2.5" fill="rgb(33,33,33)" filter="url(#gb2)"/>
<circle cx="378" cy="52" r="2" fill="rgb(38,38,38)" filter="url(#gb1.5)"/>
<circle cx="380" cy="100" r="2" fill="rgb(15,15,15)" filter="url(#gb2)"/>
<circle cx="405" cy="95" r="2" fill="rgb(17,17,17)" filter="url(#gb2)"/>
<circle cx="370" cy="60" r="2" fill="rgb(17,17,17)" filter="url(#gb2)"/>
</g></g>
<path d="M398.3,36.2 L400.9,36.2 L399.6,33.8 Z" fill="none" stroke="#f0a0a0" stroke-width="0.5"/>
<rect x="432.20" y="26.00" width="4.80" height="87.20" fill="url(#cbar)" />
<text x="438.30" y="32.50" font-size="9" fill="#000" >1</text>
<text x="438.30" y="49.30" font-size="9" fill="#000" >0.8</text>
<text x="438.30" y="65.80" font-size="9" fill="#000" >0.6</text>
<text x="438.30" y="82.30" font-size="9" fill="#000" >0.4</text>
<text x="438.30" y="98.30" font-size="9" fill="#000" >0.2</text>
<text x="438.30" y="114.60" font-size="9" fill="#000" >0</text>
<clipPath id="clip3"><rect x="452.9" y="25.2" width="65.4" height="88.2"/></clipPath>
<g clip-path="url(#clip3)"><g filter="url(#jetn)">
<rect x="444.90" y="17.20" width="81.40" height="104.20" fill="rgb(18,18,18)" />
<circle cx="471.7" cy="48.6" r="3.2" fill="rgb(32,32,32)" filter="url(#gb2)"/>
<circle cx="483.6" cy="49.3" r="3.2" fill="rgb(31,31,31)" filter="url(#gb2)"/>
<circle cx="493.4" cy="50" r="3.2" fill="rgb(32,32,32)" filter="url(#gb2)"/>
<circle cx="471" cy="61.2" r="3" fill="rgb(31,31,31)" filter="url(#gb2)"/>
<circle cx="482.9" cy="61.2" r="3.2" fill="rgb(32,32,32)" filter="url(#gb2)"/>
<circle cx="506" cy="66.8" r="3" fill="rgb(31,31,31)" filter="url(#gb2)"/>
<circle cx="478" cy="82.2" r="3" fill="rgb(31,31,31)" filter="url(#gb2)"/>
<circle cx="492" cy="87.8" r="3" fill="rgb(29,29,29)" filter="url(#gb2)"/>
<circle cx="514.4" cy="50" r="3" fill="rgb(31,31,31)" filter="url(#gb2)"/>
<circle cx="464" cy="40.2" r="3" fill="rgb(29,29,29)" filter="url(#gb2)"/>
<circle cx="458.4" cy="43" r="2.5" fill="rgb(28,28,28)" filter="url(#gb2)"/>
<circle cx="500" cy="35" r="3" fill="rgb(28,28,28)" filter="url(#gb2)"/>
<circle cx="466" cy="100" r="3" fill="rgb(28,28,28)" filter="url(#gb2)"/>
<circle cx="505" cy="103" r="3" fill="rgb(28,28,28)" filter="url(#gb2)"/>
<circle cx="482" cy="30" r="3" fill="rgb(28,28,28)" filter="url(#gb2)"/>
<circle cx="494" cy="66.4" r="3.8" fill="rgb(76,76,76)" filter="url(#gb1.5)"/>
<circle cx="494" cy="66.4" r="2.1" fill="rgb(135,135,135)" filter="url(#gb1.0)"/>
<circle cx="460.9" cy="72" r="3.3" fill="rgb(71,71,71)" filter="url(#gb1.5)"/>
<circle cx="460.9" cy="72" r="1.9" fill="rgb(112,112,112)" filter="url(#gb1.0)"/>
<circle cx="516.5" cy="93.9" r="3.3" fill="rgb(71,71,71)" filter="url(#gb1.5)"/>
<circle cx="516.5" cy="93.9" r="1.9" fill="rgb(110,110,110)" filter="url(#gb1.0)"/>
</g></g>
<path d="M487.2,36 L489.6,36 L488.4,33.4 Z" fill="#6070ff"/>
<rect x="521.20" y="25.20" width="5.10" height="88.20" fill="url(#cbar)" />
<text x="527.80" y="28.50" font-size="9" fill="#000" >10</text>
<text x="527.80" y="46.40" font-size="9" fill="#000" >8</text>
<text x="527.80" y="63.50" font-size="9" fill="#000" >6</text>
<text x="527.80" y="81.00" font-size="9" fill="#000" >4</text>
<text x="527.80" y="98.00" font-size="9" fill="#000" >2</text>
<text x="527.80" y="116.60" font-size="9" fill="#000" >0</text>
<text x="458.00" y="111.00" font-size="11.4" fill="#fff" >n = 9</text>
<text x="196.20" y="106.80" font-size="10" fill="#fff" >0 -10</text>
<rect x="200.80" y="108.10" width="11.70" height="1.90" fill="url(#hbarE)" />
<text x="216.40" y="110.40" font-size="6.3" fill="#fff" >ms·pA</text>
<text x="241.80" y="110.40" font-size="7" fill="#fff" textLength="18.6" lengthAdjust="spacingAndGlyphs">100 µm</text>
<line x1="252.50" y1="111.40" x2="260.50" y2="111.40" stroke="#fff" stroke-width="0.7" />
<text x="367.10" y="106.90" font-size="10" fill="#fff" >0</text>
<text x="377.80" y="106.90" font-size="10" fill="#fff" >10</text>
<rect x="370.90" y="107.50" width="12.50" height="1.90" fill="url(#hbarI)" />
<text x="386.80" y="110.70" font-size="6.5" fill="#fff" >ms·pA</text>
<line x1="421.00" y1="111.00" x2="428.00" y2="111.00" stroke="#fff" stroke-width="0.8" />
<line x1="511.00" y1="111.00" x2="517.00" y2="111.00" stroke="#fff" stroke-width="0.8" />
<!-- ROW2 -->
<path d="M22.00,246.60h5.53v-68.40h-5.53zM27.53,246.60h5.53v-53.01h-5.53zM33.06,246.60h5.53v-16.25h-5.53zM38.59,246.60h5.53v-9.23h-5.53zM44.12,246.60h5.53v-1.20h-5.53zM49.65,246.60h5.53v-1.20h-5.53zM60.71,246.60h5.53v-1.37h-5.53zM66.24,246.60h5.53v-1.37h-5.53zM88.36,246.60h5.53v-1.20h-5.53zM104.95,246.60h5.53v-1.20h-5.53zM121.54,246.60h5.53v-1.20h-5.53z" fill="#000080" stroke="#000040" stroke-width="0.3"/>
<rect x="22.00" y="161.10" width="110.60" height="85.50" fill="none" stroke="#000" stroke-width="0.9"/>
<text x="21.80" y="164.50" font-size="9.2" text-anchor="end" fill="#111" >50</text>
<text x="21.80" y="181.60" font-size="9.2" text-anchor="end" fill="#111" >40</text>
<text x="21.80" y="198.40" font-size="9.2" text-anchor="end" fill="#111" >30</text>
<text x="21.80" y="215.10" font-size="9.2" text-anchor="end" fill="#111" >20</text>
<text x="21.80" y="231.80" font-size="9.2" text-anchor="end" fill="#111" >10</text>
<text x="21.80" y="249.40" font-size="9.2" text-anchor="end" fill="#111" >0</text>
<text x="22.50" y="255.60" font-size="9.2" text-anchor="middle" fill="#111" >0</text>
<text x="45.20" y="255.60" font-size="9.2" text-anchor="middle" fill="#111" >1</text>
<text x="67.00" y="255.60" font-size="9.2" text-anchor="middle" fill="#111" >2</text>
<text x="88.90" y="255.60" font-size="9.2" text-anchor="middle" fill="#111" >3</text>
<text x="110.70" y="255.60" font-size="9.2" text-anchor="middle" fill="#111" >4</text>
<text x="132.50" y="255.60" font-size="9.2" text-anchor="middle" fill="#111" >5</text>
<text x="35.20" y="178.90" font-size="11.6" fill="#000" >Median = 0.3</text>
<text x="77.00" y="264.20" font-size="11.45" text-anchor="middle" fill="#000" >Individual E/I ratios</text>
<line x1="176.40" y1="155.00" x2="176.40" y2="251.40" stroke="#000" stroke-width="0.9" />
<line x1="176.40" y1="251.40" x2="265.20" y2="251.40" stroke="#000" stroke-width="0.9" />
<text x="175.00" y="161.00" font-size="8.2" text-anchor="end" fill="#111" >20</text>
<text x="175.00" y="184.40" font-size="8.2" text-anchor="end" fill="#111" >15</text>
<text x="175.00" y="208.00" font-size="8.2" text-anchor="end" fill="#111" >10</text>
<text x="175.00" y="231.00" font-size="8.2" text-anchor="end" fill="#111" >5</text>
<text x="175.00" y="252.70" font-size="8.2" text-anchor="end" fill="#111" >0</text>
<rect x="184.60" y="234.51" width="11.00" height="16.89" fill="#000" />
<rect x="196.85" y="231.15" width="10.90" height="20.25" fill="#fff" stroke="#333" stroke-width="0.7"/>
<rect x="226.20" y="230.52" width="11.00" height="20.88" fill="#000" />
<rect x="239.25" y="169.62" width="10.90" height="81.78" fill="#fff" stroke="#333" stroke-width="0.7"/>
<line x1="190.10" y1="232.00" x2="190.10" y2="236.50" stroke="#666" stroke-width="0.6" />
<line x1="188.60" y1="232.00" x2="191.60" y2="232.00" stroke="#666" stroke-width="0.5" />
<line x1="202.30" y1="226.60" x2="202.30" y2="234.50" stroke="#888" stroke-width="0.6" />
<line x1="200.80" y1="226.60" x2="203.80" y2="226.60" stroke="#888" stroke-width="0.5" />
<line x1="231.70" y1="225.60" x2="231.70" y2="234.00" stroke="#444" stroke-width="0.6" />
<line x1="230.20" y1="225.60" x2="233.20" y2="225.60" stroke="#444" stroke-width="0.5" />
<line x1="244.70" y1="165.40" x2="244.70" y2="173.70" stroke="#888" stroke-width="0.6" />
<line x1="243.20" y1="165.40" x2="246.20" y2="165.40" stroke="#888" stroke-width="0.5" />
<text x="163.5" y="205.5" font-size="11.45" text-anchor="middle" transform="rotate(-90 163.5 205.5)" fill="#000">Charge of PSC</text>
<rect x="183.60" y="152.60" width="5.40" height="4.40" fill="#000" />
<rect x="183.90" y="160.10" width="4.80" height="4.60" fill="#fff" stroke="#444" stroke-width="0.6"/>
<text x="189.50" y="158.60" font-size="8.8" fill="#222" >EPSC</text>
<text x="189.50" y="166.20" font-size="8.8" fill="#222" >IPSC</text>
<text x="181.60" y="181.40" font-size="11.5" fill="#000" >L2/3</text>
<text x="188.60" y="222.00" font-size="11.6" fill="#000" >n.s.</text>
<path d="M189,222.5 Q189,224 191,224 L201.5,224 Q203.5,224 203.5,222.5" fill="none" stroke="#000" stroke-width="1"/>
<text x="237.90" y="163.00" font-size="14.5" text-anchor="middle" fill="#000" font-weight="bold" >***</text>
<path d="M230.2,159.8 Q230.2,161.5 232,161.5 L243.5,161.5 Q245.3,161.5 245.3,159.8" fill="none" stroke="#000" stroke-width="1"/>
<text x="197.80" y="262.50" font-size="11.45" text-anchor="middle" fill="#000" >soma</text>
<text x="241.70" y="262.50" font-size="11.45" text-anchor="middle" fill="#000" >non-soma</text>
<line x1="304.40" y1="154.90" x2="304.40" y2="251.60" stroke="#000" stroke-width="0.9" />
<line x1="304.40" y1="251.60" x2="426.50" y2="251.60" stroke="#000" stroke-width="0.9" />
<text x="292.80" y="159.30" font-size="8.8" fill="#111" >1</text>
<text x="291.30" y="179.00" font-size="8.8" fill="#111" >0.8</text>
<text x="291.30" y="199.30" font-size="8.8" fill="#111" >0.6</text>
<text x="291.30" y="218.70" font-size="8.8" fill="#111" >0.4</text>
<text x="291.30" y="236.30" font-size="8.8" fill="#111" >0.2</text>
<text x="292.80" y="252.80" font-size="8.8" fill="#111" >0</text>
<rect x="315.00" y="191.30" width="14.80" height="60.30" fill="#000" />
<line x1="322.40" y1="174.90" x2="322.40" y2="191.30" stroke="#555" stroke-width="0.6" />
<rect x="355.20" y="227.30" width="14.60" height="24.30" fill="#000" />
<line x1="362.50" y1="220.70" x2="362.50" y2="227.30" stroke="#555" stroke-width="0.6" />
<rect x="400.60" y="219.30" width="14.30" height="32.30" fill="#000" />
<line x1="407.75" y1="210.30" x2="407.75" y2="219.30" stroke="#555" stroke-width="0.6" />
<text x="290" y="202.8" font-size="11.8" text-anchor="middle" transform="rotate(-90 290 202.8)" fill="#000">E/I ratio</text>
<text x="342.20" y="164.00" font-size="14.5" text-anchor="middle" fill="#000" font-weight="bold" >***</text>
<path d="M324,158.7 L324,160.5 L360.8,160.5 L360.8,162" fill="none" stroke="#000" stroke-width="0.9"/>
<text x="321.60" y="263.70" font-size="11.45" text-anchor="middle" fill="#000" >soma</text>
<text x="365.00" y="263.70" font-size="11.45" text-anchor="middle" fill="#000" >non-soma</text>
<text x="411.50" y="263.70" font-size="11.45" text-anchor="middle" fill="#000" >neuron</text>
<!-- ROW3 -->
<text x="279.70" y="281.20" font-size="11.9" text-anchor="middle" fill="#000" >L4-L5B PC</text>
<text x="151.30" y="292.50" font-size="11.9" text-anchor="middle" fill="#000" >EPSC</text>
<text x="231.10" y="292.30" font-size="11.9" text-anchor="middle" fill="#000" >Pia</text>
<text x="324.60" y="292.50" font-size="11.9" text-anchor="middle" fill="#000" >IPSC</text>
<text x="403.50" y="291.90" font-size="11.9" text-anchor="middle" fill="#000" >Pia</text>
<text x="490.00" y="292.50" font-size="11.9" text-anchor="middle" fill="#000" >Pia</text>
<text x="232.50" y="392.60" font-size="11.9" text-anchor="middle" fill="#000" >E map</text>
<text x="407.40" y="391.40" font-size="11.9" text-anchor="middle" fill="#000" >I map</text>
<text x="492.70" y="391.80" font-size="11.9" text-anchor="middle" fill="#000" >E/I ratio map</text>
<polyline points="118.0,296.8 118.5,296.7 119.0,296.8 119.5,296.9 120.0,297.0 120.5,297.0 121.0,296.9 121.5,297.0 122.0,296.8 122.5,296.8 123.0,296.7 123.5,296.7 124.0,296.7 124.5,296.8 125.0,296.9 125.5,297.0 126.0,296.9 126.5,296.8 127.0,296.9 127.5,297.1 128.0,297.2 128.5,297.1 129.0,296.9 129.5,296.7 130.0,296.7 130.5,296.9 131.0,297.0 131.5,296.9 132.0,296.8 132.5,296.8 133.0,296.7 133.5,296.8 134.0,297.2 134.5,297.2 135.0,297.1 135.5,297.0 136.0,296.9 136.5,296.6 137.0,296.7 137.5,296.8 138.0,297.1 138.5,297.1 139.0,297.1 139.5,296.8 140.0,296.8 140.5,296.9 141.0,296.9 141.5,296.7 142.0,296.7 142.5,296.9 143.0,297.0 143.5,296.9 144.0,296.9 144.5,297.0 145.0,297.0 145.5,297.1 146.0,297.0 146.5,296.9 147.0,296.8 147.5,296.6 148.0,296.6 148.5,296.7 149.0,296.9 149.5,296.9 150.0,296.9 150.5,296.7 151.0,296.7 151.5,296.8 152.0,297.0 152.5,296.9 153.0,296.9 153.5,297.0 154.0,297.1 154.5,297.0 155.0,296.8 155.5,296.7 156.0,296.7 156.5,296.8 157.0,296.9 157.5,296.9 158.0,296.8 158.5,296.9 159.0,297.1 159.5,297.1 160.0,296.9 160.5,296.8 161.0,296.9 161.5,297.1 162.0,297.0 162.5,297.1 163.0,297.1 163.5,297.1 164.0,296.8 164.5,296.7 165.0,296.7 165.5,296.8 166.0,296.9 166.5,296.9 167.0,297.0 167.5,296.9 168.0,296.9 168.5,296.8 169.0,296.8 169.5,296.8 170.0,296.9 170.5,297.0 171.0,297.0 171.5,297.0 172.0,297.0 172.5,296.9 173.0,296.7 173.5,296.6 174.0,296.7 174.5,296.8 175.0,296.9 175.5,296.8 176.0,296.7 176.5,296.5 177.0,296.7 177.5,296.8 178.0,296.9 178.5,296.7 179.0,296.8 179.5,296.9 180.0,296.9 180.5,296.7 181.0,296.8 181.5,296.9 182.0,297.0 182.5,297.0 183.0,297.0 183.5,297.0" fill="none" stroke="#0000ff" stroke-width="0.55" stroke-linejoin="round"/>
<polyline points="118.0,302.4 118.5,302.4 119.0,302.4 119.5,302.3 120.0,302.3 120.5,302.3 121.0,302.4 121.5,302.5 122.0,302.5 122.5,302.4 123.0,302.3 123.5,302.3 124.0,302.4 124.5,302.3 125.0,302.2 125.5,302.4 126.0,302.4 126.5,302.3 127.0,302.2 127.5,302.2 128.0,302.1 128.5,302.2 129.0,302.2 129.5,302.2 130.0,302.2 130.5,302.2 131.0,302.3 131.5,302.4 132.0,302.4 132.5,302.2 133.0,302.1 133.5,302.1 134.0,302.3 134.5,302.5 135.0,302.5 135.5,302.4 136.0,302.3 136.5,302.3 137.0,302.3 137.5,302.4 138.0,302.4 138.5,302.4 139.0,302.4 139.5,302.3 140.0,302.2 140.5,302.3 141.0,302.7 141.5,302.8 142.0,302.7 142.5,302.3 143.0,302.3 143.5,302.2 144.0,302.2 144.5,302.2 145.0,302.2 145.5,302.3 146.0,302.5 146.5,302.5 147.0,302.3 147.5,302.1 148.0,302.1 148.5,302.1 149.0,302.3 149.5,302.4 150.0,302.4 150.5,302.3 151.0,302.3 151.5,302.2 152.0,302.2 152.5,302.3 153.0,302.5 153.5,302.5 154.0,302.3 154.5,302.4 155.0,302.5 155.5,302.5 156.0,302.3 156.5,302.2 157.0,302.4 157.5,302.4 158.0,302.4 158.5,302.3 159.0,302.5 159.5,302.5 160.0,302.5 160.5,302.3 161.0,302.4 161.5,302.4 162.0,302.4 162.5,302.3 163.0,302.2 163.5,302.2 164.0,302.1 164.5,302.1 165.0,302.1 165.5,302.1 166.0,302.2 166.5,302.4 167.0,302.4 167.5,302.3 168.0,302.3 168.5,302.2 169.0,302.1 169.5,302.1 170.0,302.3 170.5,302.5 171.0,302.4 171.5,302.3 172.0,302.2 172.5,302.2 173.0,302.3 173.5,302.2 174.0,302.1 174.5,302.1 175.0,302.2 175.5,302.4 176.0,302.3 176.5,302.2 177.0,302.1 177.5,302.2 178.0,302.3 178.5,302.2 179.0,302.1 179.5,302.0 180.0,302.1 180.5,302.3 181.0,302.4 181.5,302.2 182.0,302.2 182.5,302.3 183.0,302.3 183.5,302.3" fill="none" stroke="#008000" stroke-width="0.55" stroke-linejoin="round"/>
<polyline points="118.0,307.8 118.5,307.9 119.0,307.9 119.5,307.9 120.0,307.8 120.5,307.7 121.0,307.7 121.5,307.6 122.0,307.6 122.5,307.7 123.0,307.7 123.5,307.8 124.0,307.8 124.5,307.8 125.0,307.8 125.5,307.9 126.0,307.9 126.5,307.8 127.0,307.7 127.5,307.8 128.0,308.0 128.5,307.9 129.0,307.7 129.5,307.6 130.0,307.7 130.5,307.7 131.0,307.9 131.5,307.9 132.0,307.8 132.5,307.8 133.0,307.8 133.5,307.7 134.0,307.7 134.5,307.7 135.0,307.8 135.5,307.7 136.0,307.8 136.5,307.7 137.0,307.9 137.5,307.9 138.0,308.0 138.5,307.9 139.0,308.0 139.5,307.9 140.0,307.8 140.5,307.7 141.0,307.8 141.5,308.0 142.0,307.9 142.5,307.7 143.0,307.7 143.5,307.8 144.0,307.7 144.5,307.8 145.0,308.0 145.5,308.0 146.0,307.9 146.5,307.9 147.0,308.0 147.5,307.9 148.0,307.9 148.5,307.7 149.0,307.7 149.5,307.7 150.0,307.8 150.5,307.9 151.0,307.9 151.5,307.7 152.0,307.5 152.5,307.6 153.0,307.8 153.5,307.8 154.0,307.7 154.5,307.8 155.0,307.8 155.5,307.8 156.0,307.8 156.5,307.7 157.0,307.7 157.5,307.6 158.0,307.6 158.5,307.5 159.0,307.7 159.5,307.8 160.0,307.8 160.5,307.8 161.0,307.9 161.5,307.9 162.0,307.9 162.5,307.7 163.0,307.6 163.5,307.7 164.0,307.8 164.5,307.9 165.0,307.8 165.5,307.7 166.0,307.7 166.5,307.6 167.0,307.6 167.5,307.7 168.0,307.7 168.5,307.7 169.0,307.7 169.5,307.8 170.0,307.9 170.5,308.0 171.0,307.9 171.5,307.9 172.0,307.9 172.5,308.0 173.0,308.1 173.5,308.0 174.0,307.9 174.5,307.8 175.0,307.5 175.5,307.4 176.0,307.4 176.5,307.7 177.0,307.8 177.5,307.8 178.0,307.9 178.5,307.9 179.0,307.9 179.5,308.0 180.0,308.0 180.5,307.9 181.0,307.8 181.5,307.8 182.0,307.8 182.5,307.7 183.0,307.7 183.5,307.7" fill="none" stroke="#ff0000" stroke-width="0.55" stroke-linejoin="round"/>
<polyline points="118.0,313.3 118.5,313.4 119.0,313.4 119.5,313.3 120.0,313.2 120.5,313.2 121.0,313.2 121.5,313.4 122.0,313.4 122.5,313.3 123.0,313.2 123.5,313.3 124.0,313.3 124.5,313.2 125.0,313.2 125.5,313.3 126.0,313.4 126.5,313.3 127.0,313.3 127.5,313.3 128.0,313.4 128.5,313.1 129.0,312.9 129.5,312.9 130.0,313.1 130.5,313.1 131.0,313.3 131.5,313.3 132.0,313.3 132.5,313.2 133.0,313.3 133.5,313.3 134.0,313.3 134.5,313.3 135.0,313.4 135.5,313.2 136.0,313.1 136.5,313.1 137.0,313.2 137.5,313.2 138.0,313.3 138.5,313.3 139.0,313.3 139.5,313.3 140.0,313.3 140.5,313.3 141.0,313.3 141.5,313.2 142.0,313.2 142.5,313.1 143.0,313.1 143.5,313.0 144.0,313.1 144.5,313.2 145.0,313.3 145.5,313.2 146.0,313.2 146.5,313.2 147.0,313.2 147.5,313.2 148.0,313.2 148.5,313.2 149.0,313.3 149.5,313.1 150.0,313.0 150.5,313.0 151.0,313.2 151.5,313.2 152.0,313.2 152.5,313.1 153.0,313.1 153.5,313.0 154.0,313.0 154.5,313.0 155.0,313.1 155.5,313.3 156.0,313.3 156.5,313.3 157.0,313.2 157.5,313.1 158.0,312.8 158.5,313.0 159.0,313.2 159.5,313.3 160.0,313.1 160.5,313.0 161.0,313.1 161.5,313.2 162.0,313.4 162.5,313.3 163.0,313.1 163.5,313.0 164.0,313.1 164.5,313.2 165.0,313.3 165.5,313.3 166.0,313.4 166.5,313.3 167.0,313.2 167.5,313.2 168.0,313.2 168.5,313.3 169.0,313.3 169.5,313.4 170.0,313.3 170.5,313.3 171.0,313.3 171.5,313.3 172.0,313.2 172.5,313.3 173.0,313.2 173.5,313.2 174.0,313.2 174.5,313.2 175.0,313.1 175.5,313.1 176.0,313.2 176.5,313.2 177.0,313.2 177.5,313.3 178.0,313.4 178.5,313.2 179.0,313.1 179.5,313.2 180.0,313.3 180.5,313.3 181.0,313.3 181.5,313.4 182.0,313.3 182.5,313.2 183.0,313.1 183.5,313.1" fill="none" stroke="#00bfbf" stroke-width="0.55" stroke-linejoin="round"/>
<polyline points="118.0,318.7 118.5,318.7 119.0,318.7 119.5,318.6 120.0,318.6 120.5,318.6 121.0,318.5 121.5,318.4 122.0,318.5 122.5,318.5 123.0,318.6 123.5,318.5 124.0,318.6 124.5,318.7 125.0,318.6 125.5,318.5 126.0,318.5 126.5,318.7 127.0,318.7 127.5,318.7 128.0,318.6 128.5,318.6 129.0,318.6 129.5,318.7 130.0,318.8 130.5,318.8 131.0,318.8 131.5,318.7 132.0,318.7 132.5,318.8 133.0,318.9 133.5,318.7 134.0,318.7 134.5,318.7 135.0,318.7 135.5,318.8 136.0,318.8 136.5,318.8 137.0,318.7 137.5,318.7 138.0,318.8 138.5,318.8 139.0,318.8 139.5,318.9 140.0,318.8 140.5,318.6 141.0,318.5 141.5,318.5 142.0,318.7 142.5,318.8 143.0,318.7 143.5,318.6 144.0,318.6 144.5,318.7 145.0,318.7 145.5,318.6 146.0,318.5 146.5,318.5 147.0,318.6 147.5,318.8 148.0,318.6 148.5,318.5 149.0,318.5 149.5,318.6 150.0,318.6 150.5,318.7 151.0,318.8 151.5,318.9 152.0,318.8 152.5,318.6 153.0,318.6 153.5,318.7 154.0,318.8 154.5,318.8 155.0,318.8 155.5,318.7 156.0,318.6 156.5,318.6 157.0,318.5 157.5,318.5 158.0,318.6 158.5,318.7 159.0,318.6 159.5,318.6 160.0,318.5 160.5,318.6 161.0,318.5 161.5,318.5 162.0,318.5 162.5,318.6 163.0,318.6 163.5,318.7 164.0,318.7 164.5,318.7 165.0,318.5 165.5,318.6 166.0,318.6 166.5,318.7 167.0,318.8 167.5,318.8 168.0,318.9 168.5,318.8 169.0,318.7 169.5,318.6 170.0,318.6 170.5,318.6 171.0,318.6 171.5,318.7 172.0,318.8 172.5,318.6 173.0,318.6 173.5,318.6 174.0,318.6 174.5,318.6 175.0,318.5 175.5,318.5 176.0,318.5 176.5,318.5 177.0,318.3 177.5,318.4 178.0,318.5 178.5,318.6 179.0,318.6 179.5,318.5 180.0,318.7 180.5,318.8 181.0,319.0 181.5,318.8 182.0,318.7 182.5,318.6 183.0,318.6 183.5,318.6" fill="none" stroke="#bf00bf" stroke-width="0.55" stroke-linejoin="round"/>
<polyline points="118.0,324.0 118.5,323.9 119.0,323.8 119.5,323.8 120.0,323.8 120.5,323.8 121.0,323.8 121.5,323.9 122.0,324.0 122.5,324.0 123.0,324.0 123.5,323.9 124.0,324.0 124.5,324.0 125.0,324.0 125.5,324.2 126.0,324.2 126.5,324.2 127.0,324.2 127.5,324.3 128.0,324.3 128.5,324.1 129.0,324.1 129.5,324.1 130.0,324.1 130.5,324.1 131.0,324.1 131.5,324.0 132.0,323.9 132.5,323.9 133.0,323.8 133.5,324.0 134.0,324.2 134.5,324.4 135.0,324.3 135.5,324.2 136.0,324.3 136.5,324.3 137.0,324.3 137.5,324.2 138.0,324.1 138.5,324.0 139.0,324.0 139.5,323.9 140.0,323.9 140.5,324.1 141.0,324.1 141.5,324.1 142.0,324.2 142.5,324.3 143.0,324.1 143.5,324.0 144.0,324.1 144.5,324.1 145.0,324.0 145.5,324.0 146.0,323.9 146.5,323.9 147.0,324.0 147.5,324.2 148.0,324.2 148.5,324.2 149.0,324.2 149.5,324.2 150.0,324.1 150.5,324.0 151.0,324.0 151.5,324.1 152.0,324.3 152.5,324.3 153.0,324.2 153.5,324.0 154.0,323.9 154.5,324.1 155.0,324.2 155.5,324.2 156.0,324.0 156.5,324.1 157.0,324.1 157.5,325.7 158.0,324.8 158.5,324.5 159.0,324.4 159.5,324.3 160.0,324.3 160.5,324.3 161.0,324.2 161.5,324.1 162.0,324.1 162.5,326.5 163.0,325.1 163.5,324.5 164.0,324.3 164.5,324.3 165.0,324.2 165.5,324.0 166.0,323.9 166.5,323.8 167.0,323.9 167.5,323.9 168.0,326.5 168.5,325.3 169.0,324.6 169.5,324.3 170.0,324.1 170.5,324.0 171.0,324.0 171.5,324.0 172.0,324.1 172.5,324.0 173.0,324.2 173.5,326.4 174.0,325.1 174.5,324.3 175.0,324.1 175.5,324.0 176.0,324.0 176.5,324.0 177.0,324.0 177.5,324.0 178.0,324.0 178.5,323.9 179.0,323.9 179.5,324.0 180.0,324.1 180.5,324.1 181.0,324.1 181.5,324.1 182.0,324.2 182.5,324.2 183.0,324.2 183.5,324.1" fill="none" stroke="#bfbf00" stroke-width="0.55" stroke-linejoin="round"/>
<polyline points="118.0,329.5 118.5,329.5 119.0,329.5 119.5,329.5 120.0,329.5 120.5,329.6 121.0,329.7 121.5,329.7 122.0,329.6 122.5,329.7 123.0,329.6 123.5,329.6 124.0,329.5 124.5,329.6 125.0,329.6 125.5,329.6 126.0,329.6 126.5,329.7 127.0,329.6 127.5,329.6 128.0,329.5 128.5,329.5 129.0,329.5 129.5,329.4 130.0,329.4 130.5,329.6 131.0,329.8 131.5,329.8 132.0,329.7 132.5,329.6 133.0,329.5 133.5,329.5 134.0,329.6 134.5,329.6 135.0,329.6 135.5,329.5 136.0,329.6 136.5,329.4 137.0,329.4 137.5,329.4 138.0,329.6 138.5,329.6 139.0,329.6 139.5,329.4 140.0,329.3 140.5,329.4 141.0,329.3 141.5,329.3 142.0,329.4 142.5,329.4 143.0,329.3 143.5,329.4 144.0,329.4 144.5,329.4 145.0,329.4 145.5,329.7 146.0,329.6 146.5,329.4 147.0,329.3 147.5,329.4 148.0,329.4 148.5,329.4 149.0,329.5 149.5,329.4 150.0,329.2 150.5,329.1 151.0,329.3 151.5,329.5 152.0,329.4 152.5,329.4 153.0,329.5 153.5,329.6 154.0,329.5 154.5,329.5 155.0,329.6 155.5,329.6 156.0,329.6 156.5,329.6 157.0,329.5 157.5,332.6 158.0,330.9 158.5,330.1 159.0,329.8 159.5,329.7 160.0,329.7 160.5,329.7 161.0,329.5 161.5,329.5 162.0,329.4 162.5,333.4 163.0,331.2 163.5,330.3 164.0,330.0 164.5,329.8 165.0,329.5 165.5,329.4 166.0,329.4 166.5,329.6 167.0,329.5 167.5,329.4 168.0,333.2 168.5,331.2 169.0,330.4 169.5,330.0 170.0,329.9 170.5,329.8 171.0,329.6 171.5,329.3 172.0,329.3 172.5,329.5 173.0,329.6 173.5,333.0 174.0,331.2 174.5,330.4 175.0,330.0 175.5,329.7 176.0,329.5 176.5,329.3 177.0,329.2 177.5,329.3 178.0,329.5 178.5,329.7 179.0,332.3 179.5,330.8 180.0,330.0 180.5,329.7 181.0,329.7 181.5,329.6 182.0,329.5 182.5,329.6 183.0,329.5 183.5,329.4" fill="none" stroke="#404040" stroke-width="0.55" stroke-linejoin="round"/>
<polyline points="118.0,335.0 118.5,335.0 119.0,334.9 119.5,335.0 120.0,335.2 120.5,335.3 121.0,335.1 121.5,334.9 122.0,334.9 122.5,334.9 123.0,334.8 123.5,334.7 124.0,334.8 124.5,335.0 125.0,335.2 125.5,335.1 126.0,335.0 126.5,334.9 127.0,334.9 127.5,334.9 128.0,335.0 128.5,335.0 129.0,334.9 129.5,334.9 130.0,335.0 130.5,335.0 131.0,334.9 131.5,334.8 132.0,334.7 132.5,334.7 133.0,334.9 133.5,334.8 134.0,334.7 134.5,334.7 135.0,334.9 135.5,335.0 136.0,334.9 136.5,334.9 137.0,334.8 137.5,334.8 138.0,334.7 138.5,334.8 139.0,334.9 139.5,334.9 140.0,335.0 140.5,335.0 141.0,334.9 141.5,334.8 142.0,334.7 142.5,334.8 143.0,334.9 143.5,334.8 144.0,334.8 144.5,334.9 145.0,335.0 145.5,334.9 146.0,334.8 146.5,334.8 147.0,334.9 147.5,334.9 148.0,335.0 148.5,335.0 149.0,335.0 149.5,334.9 150.0,334.8 150.5,334.7 151.0,334.8 151.5,338.9 152.0,336.7 152.5,335.7 153.0,335.2 153.5,335.0 154.0,334.9 154.5,335.0 155.0,334.9 155.5,335.0 156.0,335.1 156.5,335.0 157.0,334.9 157.5,340.7 158.0,337.8 158.5,336.4 159.0,335.7 159.5,335.3 160.0,335.2 160.5,335.2 161.0,335.1 161.5,334.8 162.0,334.7 162.5,355.8 163.0,344.7 163.5,339.4 164.0,336.9 164.5,335.9 165.0,335.6 165.5,335.2 166.0,335.0 166.5,334.9 167.0,334.9 167.5,334.9 168.0,341.0 168.5,338.0 169.0,336.5 169.5,335.5 170.0,335.0 170.5,334.9 171.0,335.0 171.5,335.0 172.0,335.1 172.5,335.2 173.0,335.1 173.5,339.1 174.0,336.9 174.5,335.8 175.0,335.3 175.5,335.2 176.0,335.1 176.5,335.0 177.0,334.9 177.5,334.9 178.0,334.9 178.5,335.0 179.0,338.5 179.5,336.6 180.0,335.7 180.5,335.4 181.0,335.4 181.5,335.3 182.0,335.1 182.5,335.0 183.0,334.8 183.5,334.8" fill="none" stroke="#0000ff" stroke-width="0.55" stroke-linejoin="round"/>
<polyline points="118.0,340.4 118.5,340.5 119.0,340.4 119.5,340.4 120.0,340.4 120.5,340.4 121.0,340.4 121.5,340.5 122.0,340.5 122.5,340.3 123.0,340.2 123.5,340.3 124.0,340.6 124.5,340.6 125.0,340.5 125.5,340.3 126.0,340.3 126.5,340.4 127.0,340.4 127.5,340.3 128.0,340.4 128.5,340.5 129.0,340.4 129.5,340.3 130.0,340.2 130.5,340.4 131.0,340.4 131.5,340.4 132.0,340.4 132.5,340.5 133.0,340.5 133.5,340.5 134.0,340.5 134.5,340.4 135.0,340.4 135.5,340.3 136.0,340.3 136.5,340.3 137.0,340.4 137.5,340.3 138.0,340.3 138.5,340.3 139.0,340.2 139.5,340.2 140.0,340.2 140.5,343.5 141.0,341.8 141.5,341.0 142.0,340.5 142.5,340.4 143.0,340.5 143.5,340.5 144.0,340.5 144.5,340.4 145.0,340.3 145.5,340.4 146.0,344.2 146.5,342.2 147.0,341.0 147.5,340.7 148.0,340.7 148.5,340.7 149.0,340.5 149.5,340.4 150.0,340.3 150.5,340.2 151.0,340.3 151.5,346.3 152.0,343.0 152.5,341.5 153.0,340.9 153.5,340.6 154.0,340.5 154.5,340.3 155.0,340.2 155.5,340.2 156.0,340.3 156.5,340.1 157.0,340.2 157.5,344.0 158.0,342.1 158.5,341.1 159.0,340.8 159.5,340.5 160.0,340.4 160.5,340.2 161.0,340.3 161.5,340.4 162.0,340.4 162.5,347.3 163.0,343.6 163.5,342.0 164.0,341.3 164.5,340.9 165.0,340.7 165.5,340.6 166.0,340.6 166.5,340.5 167.0,340.5 167.5,340.4 168.0,346.5 168.5,343.4 169.0,341.8 169.5,340.9 170.0,340.6 170.5,340.5 171.0,340.4 171.5,340.2 172.0,340.1 172.5,340.2 173.0,340.3 173.5,344.6 174.0,342.5 174.5,341.5 175.0,341.0 175.5,340.7 176.0,340.4 176.5,340.2 177.0,340.2 177.5,340.2 178.0,340.2 178.5,340.2 179.0,340.4 179.5,340.4 180.0,340.4 180.5,340.3 181.0,340.3 181.5,340.2 182.0,340.2 182.5,340.4 183.0,340.5 183.5,340.5" fill="none" stroke="#008000" stroke-width="0.55" stroke-linejoin="round"/>
<polyline points="118.0,345.8 118.5,345.8 119.0,345.8 119.5,345.9 120.0,345.8 120.5,345.8 121.0,345.8 121.5,345.8 122.0,345.9 122.5,345.8 123.0,345.9 123.5,345.8 124.0,345.8 124.5,345.8 125.0,345.8 125.5,345.7 126.0,345.6 126.5,345.6 127.0,345.6 127.5,345.7 128.0,345.8 128.5,345.8 129.0,345.7 129.5,345.6 130.0,345.5 130.5,345.5 131.0,345.5 131.5,345.4 132.0,345.5 132.5,345.7 133.0,345.8 133.5,345.7 134.0,345.9 134.5,345.9 135.0,349.3 135.5,347.4 136.0,346.7 136.5,346.3 137.0,346.0 137.5,346.0 138.0,346.0 138.5,345.9 139.0,345.8 139.5,345.8 140.0,345.8 140.5,349.0 141.0,347.1 141.5,346.4 142.0,346.1 142.5,346.0 143.0,345.9 143.5,345.9 144.0,345.8 144.5,345.7 145.0,345.8 145.5,346.0 146.0,350.5 146.5,348.1 147.0,346.9 147.5,346.4 148.0,346.2 148.5,346.1 149.0,346.1 149.5,346.1 150.0,346.1 150.5,346.1 151.0,345.9 151.5,351.9 152.0,348.6 152.5,347.2 153.0,346.5 153.5,346.2 154.0,346.1 154.5,346.0 155.0,345.8 155.5,345.9 156.0,345.9 156.5,345.8 157.0,345.7 157.5,349.5 158.0,347.5 158.5,346.7 159.0,346.4 159.5,346.3 160.0,346.2 160.5,346.1 161.0,346.1 161.5,346.0 162.0,345.9 162.5,351.9 163.0,348.6 163.5,347.1 164.0,346.3 164.5,346.0 165.0,345.8 165.5,345.8 166.0,345.8 166.5,345.9 167.0,345.8 167.5,345.9 168.0,350.8 168.5,348.1 169.0,346.7 169.5,346.0 170.0,345.6 170.5,345.7 171.0,345.7 171.5,345.8 172.0,345.8 172.5,345.9 173.0,346.0 173.5,349.5 174.0,347.7 174.5,346.9 175.0,346.5 175.5,346.1 176.0,345.9 176.5,345.8 177.0,345.7 177.5,345.6 178.0,345.8 178.5,345.9 179.0,345.9 179.5,345.7 180.0,345.8 180.5,345.8 181.0,345.8 181.5,345.7 182.0,345.6 182.5,345.5 183.0,345.7 183.5,345.8" fill="none" stroke="#ff0000" stroke-width="0.55" stroke-linejoin="round"/>
<polyline points="118.0,351.5 118.5,351.6 119.0,351.5 119.5,351.4 120.0,351.2 120.5,351.1 121.0,351.0 121.5,351.0 122.0,351.2 122.5,351.4 123.0,351.4 123.5,351.3 124.0,351.2 124.5,351.1 125.0,351.1 125.5,351.3 126.0,351.4 126.5,351.4 127.0,351.3 127.5,351.1 128.0,351.2 128.5,351.1 129.0,351.1 129.5,351.2 130.0,351.3 130.5,351.2 131.0,351.2 131.5,351.0 132.0,351.1 132.5,351.1 133.0,351.2 133.5,351.1 134.0,351.1 134.5,351.1 135.0,355.3 135.5,353.1 136.0,352.2 136.5,351.8 137.0,351.6 137.5,351.5 138.0,351.4 138.5,351.3 139.0,351.4 139.5,351.4 140.0,351.4 140.5,354.4 141.0,352.7 141.5,352.0 142.0,351.5 142.5,351.3 143.0,351.1 143.5,351.2 144.0,351.1 144.5,351.1 145.0,351.1 145.5,351.2 146.0,355.5 146.5,353.1 147.0,352.0 147.5,351.4 148.0,351.2 148.5,351.1 149.0,351.2 149.5,351.2 150.0,351.2 150.5,351.4 151.0,351.5 151.5,357.3 152.0,353.9 152.5,352.4 153.0,351.7 153.5,351.4 154.0,351.2 154.5,351.3 155.0,351.4 155.5,351.3 156.0,351.2 156.5,351.2 157.0,351.3 157.5,355.2 158.0,353.2 158.5,352.0 159.0,351.4 159.5,351.3 160.0,351.6 160.5,351.5 161.0,351.3 161.5,351.1 162.0,351.1 162.5,357.1 163.0,353.8 163.5,352.4 164.0,352.0 164.5,351.7 165.0,351.4 165.5,351.4 166.0,351.3 166.5,351.3 167.0,351.1 167.5,351.2 168.0,351.3 168.5,351.4 169.0,351.4 169.5,351.3 170.0,351.3 170.5,351.1 171.0,351.2 171.5,351.3 172.0,351.4 172.5,351.3 173.0,351.2 173.5,351.4 174.0,351.4 174.5,351.4 175.0,351.2 175.5,351.1 176.0,351.0 176.5,351.1 177.0,351.2 177.5,351.2 178.0,351.3 178.5,351.3 179.0,351.3 179.5,351.3 180.0,351.3 180.5,351.3 181.0,351.3 181.5,351.2 182.0,351.2 182.5,351.2 183.0,351.3 183.5,351.2" fill="none" stroke="#00bfbf" stroke-width="0.55" stroke-linejoin="round"/>
<polyline points="118.0,356.7 118.5,356.8 119.0,356.7 119.5,356.7 120.0,356.7 120.5,356.8 121.0,356.7 121.5,356.8 122.0,356.8 122.5,356.8 123.0,356.6 123.5,356.5 124.0,356.5 124.5,356.8 125.0,356.9 125.5,356.8 126.0,356.8 126.5,356.8 127.0,356.7 127.5,356.7 128.0,356.6 128.5,356.6 129.0,356.7 129.5,356.8 130.0,356.6 130.5,356.6 131.0,356.7 131.5,356.8 132.0,356.6 132.5,356.6 133.0,356.5 133.5,356.4 134.0,356.3 134.5,356.4 135.0,360.0 135.5,358.2 136.0,357.4 136.5,357.0 137.0,356.8 137.5,356.7 138.0,356.7 138.5,356.8 139.0,356.9 139.5,356.9 140.0,356.6 140.5,359.5 141.0,357.8 141.5,357.3 142.0,356.9 142.5,356.8 143.0,356.8 143.5,356.8 144.0,356.7 144.5,356.6 145.0,356.6 145.5,356.6 146.0,361.1 146.5,358.6 147.0,357.4 147.5,357.0 148.0,356.8 148.5,356.8 149.0,356.7 149.5,356.8 150.0,356.8 150.5,356.8 151.0,356.7 151.5,361.7 152.0,359.1 152.5,357.7 153.0,357.1 153.5,357.0 154.0,356.9 154.5,356.8 155.0,356.7 155.5,356.7 156.0,356.7 156.5,356.6 157.0,356.7 157.5,359.3 158.0,357.9 158.5,357.3 159.0,356.9 159.5,356.8 160.0,356.7 160.5,356.8 161.0,356.8 161.5,356.9 162.0,356.8 162.5,361.8 163.0,359.1 163.5,358.0 164.0,357.3 164.5,357.1 165.0,356.9 165.5,356.9 166.0,356.7 166.5,356.7 167.0,356.6 167.5,356.5 168.0,359.5 168.5,357.9 169.0,357.3 169.5,357.0 170.0,356.9 170.5,356.8 171.0,356.8 171.5,356.7 172.0,356.7 172.5,356.6 173.0,356.7 173.5,356.8 174.0,356.9 174.5,356.9 175.0,356.8 175.5,356.6 176.0,356.6 176.5,356.7 177.0,356.8 177.5,356.8 178.0,356.8 178.5,356.9 179.0,356.8 179.5,356.8 180.0,356.7 180.5,356.5 181.0,356.5 181.5,356.7 182.0,356.6 182.5,356.6 183.0,356.5 183.5,356.6" fill="none" stroke="#bf00bf" stroke-width="0.55" stroke-linejoin="round"/>
<polyline points="118.0,362.1 118.5,362.2 119.0,362.3 119.5,362.3 120.0,362.2 120.5,362.2 121.0,362.1 121.5,362.2 122.0,362.1 122.5,362.0 123.0,362.0 123.5,362.2 124.0,362.2 124.5,362.1 125.0,362.1 125.5,362.2 126.0,362.0 126.5,361.9 127.0,361.9 127.5,362.0 128.0,362.0 128.5,362.2 129.0,362.2 129.5,362.2 130.0,362.0 130.5,361.9 131.0,362.0 131.5,362.2 132.0,362.3 132.5,362.3 133.0,362.1 133.5,362.1 134.0,362.2 134.5,362.2 135.0,365.7 135.5,363.8 136.0,362.9 136.5,362.3 137.0,362.0 137.5,362.1 138.0,362.1 138.5,362.1 139.0,362.1 139.5,362.2 140.0,362.2 140.5,364.6 141.0,363.3 141.5,362.7 142.0,362.5 142.5,362.3 143.0,362.2 143.5,362.1 144.0,362.2 144.5,362.1 145.0,362.0 145.5,361.9 146.0,364.9 146.5,363.4 147.0,362.7 147.5,362.4 148.0,362.2 148.5,362.3 149.0,362.3 149.5,362.2 150.0,361.9 150.5,361.9 151.0,362.0 151.5,366.1 152.0,364.0 152.5,363.1 153.0,362.6 153.5,362.3 154.0,362.2 154.5,362.2 155.0,362.2 155.5,362.3 156.0,362.2 156.5,362.0 157.0,361.9 157.5,361.9 158.0,361.9 158.5,361.9 159.0,361.9 159.5,362.1 160.0,362.0 160.5,362.1 161.0,362.3 161.5,362.3 162.0,362.3 162.5,367.3 163.0,364.6 163.5,363.4 164.0,362.7 164.5,362.4 165.0,362.1 165.5,362.1 166.0,362.0 166.5,362.0 167.0,362.1 167.5,362.2 168.0,362.2 168.5,362.2 169.0,362.2 169.5,362.2 170.0,362.1 170.5,362.2 171.0,362.1 171.5,362.1 172.0,362.1 172.5,362.1 173.0,362.0 173.5,362.0 174.0,362.1 174.5,362.1 175.0,362.0 175.5,361.9 176.0,362.0 176.5,362.1 177.0,362.1 177.5,362.1 178.0,362.1 178.5,362.0 179.0,361.8 179.5,361.8 180.0,361.8 180.5,361.9 181.0,361.8 181.5,362.0 182.0,362.0 182.5,362.1 183.0,362.0 183.5,362.1" fill="none" stroke="#bfbf00" stroke-width="0.55" stroke-linejoin="round"/>
<polyline points="118.0,367.3 118.5,367.4 119.0,367.5 119.5,367.7 120.0,367.8 120.5,367.8 121.0,367.7 121.5,367.6 122.0,367.6 122.5,367.5 123.0,367.5 123.5,367.6 124.0,367.5 124.5,367.5 125.0,367.5 125.5,367.6 126.0,367.5 126.5,367.4 127.0,367.4 127.5,367.4 128.0,367.4 128.5,367.4 129.0,367.5 129.5,367.5 130.0,367.5 130.5,367.5 131.0,367.5 131.5,367.5 132.0,367.5 132.5,367.6 133.0,367.5 133.5,367.4 134.0,367.3 134.5,367.4 135.0,370.1 135.5,368.9 136.0,368.2 136.5,367.8 137.0,367.5 137.5,367.3 138.0,367.2 138.5,367.3 139.0,367.3 139.5,367.2 140.0,367.3 140.5,368.7 141.0,368.0 141.5,367.8 142.0,367.8 142.5,367.7 143.0,367.6 143.5,367.5 144.0,367.6 144.5,367.5 145.0,367.4 145.5,367.3 146.0,368.9 146.5,368.2 147.0,367.8 147.5,367.6 148.0,367.4 148.5,367.6 149.0,367.7 149.5,367.7 150.0,367.8 150.5,367.7 151.0,367.6 151.5,369.6 152.0,368.5 152.5,368.0 153.0,367.6 153.5,367.5 154.0,367.4 154.5,367.4 155.0,367.3 155.5,367.4 156.0,367.4 156.5,367.5 157.0,367.7 157.5,367.9 158.0,367.7 158.5,367.5 159.0,367.5 159.5,367.6 160.0,367.7 160.5,367.5 161.0,367.6 161.5,367.5 162.0,367.5 162.5,367.4 163.0,367.3 163.5,367.4 164.0,367.5 164.5,367.5 165.0,367.5 165.5,367.6 166.0,367.6 166.5,367.5 167.0,367.4 167.5,367.4 168.0,367.5 168.5,367.3 169.0,367.4 169.5,367.4 170.0,367.4 170.5,367.4 171.0,367.5 171.5,367.6 172.0,367.5 172.5,367.5 173.0,367.6 173.5,367.7 174.0,367.5 174.5,367.4 175.0,367.4 175.5,367.5 176.0,367.5 176.5,367.5 177.0,367.6 177.5,367.5 178.0,367.7 178.5,367.6 179.0,369.2 179.5,368.2 180.0,367.8 180.5,367.8 181.0,367.7 181.5,367.6 182.0,367.6 182.5,367.6 183.0,367.6 183.5,367.6" fill="none" stroke="#404040" stroke-width="0.55" stroke-linejoin="round"/>
<polyline points="118.0,372.8 118.5,372.9 119.0,373.0 119.5,373.0 120.0,372.8 120.5,372.9 121.0,372.9 121.5,372.9 122.0,372.8 122.5,372.8 123.0,372.8 123.5,372.8 124.0,373.0 124.5,373.2 125.0,373.2 125.5,373.2 126.0,373.1 126.5,373.1 127.0,372.9 127.5,372.9 128.0,373.0 128.5,373.0 129.0,372.9 129.5,372.9 130.0,372.9 130.5,372.9 131.0,373.1 131.5,373.1 132.0,372.9 132.5,372.8 133.0,372.8 133.5,372.8 134.0,372.9 134.5,373.2 135.0,375.0 135.5,373.9 136.0,373.3 136.5,373.0 137.0,372.8 137.5,372.9 138.0,373.1 138.5,373.0 139.0,372.8 139.5,372.8 140.0,372.9 140.5,373.0 141.0,372.9 141.5,372.9 142.0,372.8 142.5,372.8 143.0,372.9 143.5,372.9 144.0,372.7 144.5,372.8 145.0,372.8 145.5,372.9 146.0,372.9 146.5,373.0 147.0,373.0 147.5,372.9 148.0,372.7 148.5,372.7 149.0,372.8 149.5,373.1 150.0,373.2 150.5,373.0 151.0,372.8 151.5,372.9 152.0,373.0 152.5,372.9 153.0,372.8 153.5,372.8 154.0,372.9 154.5,373.1 155.0,373.1 155.5,373.0 156.0,373.0 156.5,373.0 157.0,373.1 157.5,373.0 158.0,372.9 158.5,373.0 159.0,373.0 159.5,372.9 160.0,372.8 160.5,372.9 161.0,373.1 161.5,373.1 162.0,373.0 162.5,372.9 163.0,372.8 163.5,372.8 164.0,372.8 164.5,372.8 165.0,372.9 165.5,372.9 166.0,372.9 166.5,372.8 167.0,373.0 167.5,373.1 168.0,373.1 168.5,373.0 169.0,373.0 169.5,373.0 170.0,373.0 170.5,373.1 171.0,373.2 171.5,373.2 172.0,373.2 172.5,373.1 173.0,372.9 173.5,372.9 174.0,373.0 174.5,373.1 175.0,373.0 175.5,373.0 176.0,372.8 176.5,372.9 177.0,373.0 177.5,373.1 178.0,373.0 178.5,373.1 179.0,373.1 179.5,373.0 180.0,372.8 180.5,372.9 181.0,373.0 181.5,373.0 182.0,372.8 182.5,372.8 183.0,372.9 183.5,373.0" fill="none" stroke="#0000ff" stroke-width="0.55" stroke-linejoin="round"/>
<polyline points="118.0,378.3 118.5,378.4 119.0,378.3 119.5,378.3 120.0,378.4 120.5,378.4 121.0,378.3 121.5,378.3 122.0,378.4 122.5,378.4 123.0,378.4 123.5,378.4 124.0,378.4 124.5,378.3 125.0,378.3 125.5,378.5 126.0,378.6 126.5,378.5 127.0,378.5 127.5,378.5 128.0,378.5 128.5,378.5 129.0,378.5 129.5,378.6 130.0,378.5 130.5,378.5 131.0,378.4 131.5,378.4 132.0,378.4 132.5,378.5 133.0,378.5 133.5,378.3 134.0,378.3 134.5,378.3 135.0,378.3 135.5,378.4 136.0,378.5 136.5,378.4 137.0,378.6 137.5,378.6 138.0,378.5 138.5,378.5 139.0,378.5 139.5,378.4 140.0,378.2 140.5,378.3 141.0,378.4 141.5,378.5 142.0,378.5 142.5,378.4 143.0,378.3 143.5,378.3 144.0,378.3 144.5,378.4 145.0,378.5 145.5,378.5 146.0,378.4 146.5,378.2 147.0,378.4 147.5,378.4 148.0,378.4 148.5,378.5 149.0,378.6 149.5,378.5 150.0,378.3 150.5,378.2 151.0,378.1 151.5,378.2 152.0,378.3 152.5,378.4 153.0,378.4 153.5,378.4 154.0,378.5 154.5,378.3 155.0,378.2 155.5,378.2 156.0,378.4 156.5,378.5 157.0,378.5 157.5,378.3 158.0,378.4 158.5,378.5 159.0,378.5 159.5,378.3 160.0,378.2 160.5,378.3 161.0,378.4 161.5,378.5 162.0,378.4 162.5,378.3 163.0,378.2 163.5,378.3 164.0,378.4 164.5,378.3 165.0,378.3 165.5,378.4 166.0,378.4 166.5,378.4 167.0,378.2 167.5,378.2 168.0,378.2 168.5,378.3 169.0,378.3 169.5,378.3 170.0,378.4 170.5,378.5 171.0,378.5 171.5,378.4 172.0,378.2 172.5,378.3 173.0,378.4 173.5,378.4 174.0,378.3 174.5,378.4 175.0,378.4 175.5,378.5 176.0,378.4 176.5,378.3 177.0,378.3 177.5,378.4 178.0,378.2 178.5,378.2 179.0,378.2 179.5,378.4 180.0,378.5 180.5,378.7 181.0,378.7 181.5,378.5 182.0,378.5 182.5,378.4 183.0,378.5 183.5,378.4" fill="none" stroke="#008000" stroke-width="0.55" stroke-linejoin="round"/>
<polyline points="291.0,299.5 291.5,299.4 292.0,299.1 292.5,299.0 293.0,298.9 293.5,298.7 294.0,298.8 294.5,299.2 295.0,299.5 295.5,299.5 296.0,299.5 296.5,299.4 297.0,299.3 297.5,299.1 298.0,299.0 298.5,299.2 299.0,299.3 299.5,299.3 300.0,299.2 300.5,299.2 301.0,299.2 301.5,299.4 302.0,299.4 302.5,299.2 303.0,299.0 303.5,299.2 304.0,299.3 304.5,299.3 305.0,299.5 305.5,299.8 306.0,299.6 306.5,299.2 307.0,299.1 307.5,299.0 308.0,299.1 308.5,299.4 309.0,299.7 309.5,299.6 310.0,299.3 310.5,299.3 311.0,299.4 311.5,299.4 312.0,299.5 312.5,299.7 313.0,299.8 313.5,299.5 314.0,299.3 314.5,299.6 315.0,299.7 315.5,299.7 316.0,299.4 316.5,299.4 317.0,299.2 317.5,299.2 318.0,299.2 318.5,299.2 319.0,299.1 319.5,299.0 320.0,299.0 320.5,299.1 321.0,299.2 321.5,299.2 322.0,299.3 322.5,299.4 323.0,299.5 323.5,299.4 324.0,299.4 324.5,299.2 325.0,299.2 325.5,299.2 326.0,299.5 326.5,299.5 327.0,299.3 327.5,299.0 328.0,299.0 328.5,299.2 329.0,299.4 329.5,299.5 330.0,299.6 330.5,299.6 331.0,299.5 331.5,299.4 332.0,299.1 332.5,299.3 333.0,299.3 333.5,299.5 334.0,299.4 334.5,299.5 335.0,299.4 335.5,299.4 336.0,299.4 336.5,299.3 337.0,299.1 337.5,299.1 338.0,299.1 338.5,299.2 339.0,299.2 339.5,299.1 340.0,299.2 340.5,299.4 341.0,299.8 341.5,299.7 342.0,299.6 342.5,299.0 343.0,298.8 343.5,298.7 344.0,298.9 344.5,299.0 345.0,296.9 345.5,297.3 346.0,297.6 346.5,297.9 347.0,298.3 347.5,298.6 348.0,299.0 348.5,299.1 349.0,298.9 349.5,299.0 350.0,299.2 350.5,299.3 351.0,299.2 351.5,299.1 352.0,299.1 352.5,299.1 353.0,299.4 353.5,299.5 354.0,299.5 354.5,299.5 355.0,299.4 355.5,299.5 356.0,299.4 356.5,299.4 357.0,299.4 357.5,299.4 358.0,299.6 358.5,299.5 359.0,299.1 359.5,299.1 360.0,299.3 360.5,299.6 361.0,299.3" fill="none" stroke="#0000ff" stroke-width="0.55" stroke-linejoin="round"/>
<polyline points="291.0,304.6 291.5,304.9 292.0,305.0 292.5,304.9 293.0,304.7 293.5,305.0 294.0,305.0 294.5,305.1 295.0,304.8 295.5,304.6 296.0,299.6 296.5,300.6 297.0,301.4 297.5,302.0 298.0,302.5 298.5,302.8 299.0,303.2 299.5,303.5 300.0,303.8 300.5,303.9 301.0,304.1 301.5,304.1 302.0,304.2 302.5,304.2 303.0,304.3 303.5,304.2 304.0,304.6 304.5,304.5 305.0,304.6 305.5,304.6 306.0,304.8 306.5,304.5 307.0,304.3 307.5,304.5 308.0,304.8 308.5,304.7 309.0,304.7 309.5,304.8 310.0,304.9 310.5,304.5 311.0,304.5 311.5,304.4 312.0,304.6 312.5,304.8 313.0,304.8 313.5,304.6 314.0,304.7 314.5,304.8 315.0,304.7 315.5,304.6 316.0,304.7 316.5,304.7 317.0,304.7 317.5,304.8 318.0,304.9 318.5,304.9 319.0,305.0 319.5,304.9 320.0,305.0 320.5,304.9 321.0,304.9 321.5,304.8 322.0,304.8 322.5,304.5 323.0,304.2 323.5,304.5 324.0,304.6 324.5,304.7 325.0,304.6 325.5,304.8 326.0,304.8 326.5,304.6 327.0,304.5 327.5,304.5 328.0,304.8 328.5,304.9 329.0,304.8 329.5,304.5 330.0,304.5 330.5,304.7 331.0,304.9 331.5,304.9 332.0,304.8 332.5,304.7 333.0,304.8 333.5,305.0 334.0,304.9 334.5,304.6 335.0,304.5 335.5,304.7 336.0,304.8 336.5,304.8 337.0,304.8 337.5,304.9 338.0,304.9 338.5,304.7 339.0,300.0 339.5,300.9 340.0,301.6 340.5,302.2 341.0,302.9 341.5,303.3 342.0,303.5 342.5,303.6 343.0,303.9 343.5,304.4 344.0,304.5 344.5,304.3 345.0,298.7 345.5,300.0 346.0,300.8 346.5,301.6 347.0,302.3 347.5,302.9 348.0,303.2 348.5,303.4 349.0,303.7 349.5,304.0 350.0,304.2 350.5,304.3 351.0,302.1 351.5,302.7 352.0,303.3 352.5,303.6 353.0,303.6 353.5,303.7 354.0,304.2 354.5,304.2 355.0,304.0 355.5,304.0 356.0,304.4 356.5,304.7 357.0,303.0 357.5,303.4 358.0,303.5 358.5,303.7 359.0,303.8 359.5,304.2 360.0,304.4 360.5,304.7 361.0,304.6" fill="none" stroke="#008000" stroke-width="0.55" stroke-linejoin="round"/>
<polyline points="291.0,310.1 291.5,310.2 292.0,310.2 292.5,310.1 293.0,309.9 293.5,309.9 294.0,310.1 294.5,310.3 295.0,310.1 295.5,310.0 296.0,310.1 296.5,310.2 297.0,310.1 297.5,310.1 298.0,310.1 298.5,310.2 299.0,310.2 299.5,309.9 300.0,309.8 300.5,309.8 301.0,310.0 301.5,310.1 302.0,310.1 302.5,310.2 303.0,310.2 303.5,310.5 304.0,310.4 304.5,310.5 305.0,310.4 305.5,310.3 306.0,310.3 306.5,310.2 307.0,310.3 307.5,310.3 308.0,310.1 308.5,310.1 309.0,310.0 309.5,310.3 310.0,310.3 310.5,310.4 311.0,310.3 311.5,310.3 312.0,310.2 312.5,310.0 313.0,309.9 313.5,310.0 314.0,310.2 314.5,309.9 315.0,309.7 315.5,309.6 316.0,309.8 316.5,310.1 317.0,310.2 317.5,310.2 318.0,310.1 318.5,310.2 319.0,310.3 319.5,310.3 320.0,310.1 320.5,310.3 321.0,310.4 321.5,310.2 322.0,310.0 322.5,310.1 323.0,310.3 323.5,310.2 324.0,310.3 324.5,310.3 325.0,310.5 325.5,310.1 326.0,309.9 326.5,310.1 327.0,310.3 327.5,310.2 328.0,309.9 328.5,310.0 329.0,310.3 329.5,310.5 330.0,310.3 330.5,310.1 331.0,309.9 331.5,310.1 332.0,310.3 332.5,310.4 333.0,310.2 333.5,310.0 334.0,310.0 334.5,310.3 335.0,310.2 335.5,310.0 336.0,309.6 336.5,309.7 337.0,309.7 337.5,310.1 338.0,310.2 338.5,310.4 339.0,304.9 339.5,306.0 340.0,306.9 340.5,307.6 341.0,308.1 341.5,308.4 342.0,308.7 342.5,309.0 343.0,309.1 343.5,309.2 344.0,309.4 344.5,309.6 345.0,299.8 345.5,301.9 346.0,303.6 346.5,304.9 347.0,305.7 347.5,306.4 348.0,307.2 348.5,308.1 349.0,308.8 349.5,309.0 350.0,309.0 350.5,309.2 351.0,301.3 351.5,303.0 352.0,304.4 352.5,305.5 353.0,306.4 353.5,307.2 354.0,307.9 354.5,308.5 355.0,308.8 355.5,309.4 356.0,309.7 356.5,309.8 357.0,306.5 357.5,307.1 358.0,307.8 358.5,308.4 359.0,308.8 359.5,309.1 360.0,309.6 360.5,309.7 361.0,309.6" fill="none" stroke="#ff0000" stroke-width="0.55" stroke-linejoin="round"/>
<polyline points="291.0,315.6 291.5,315.7 292.0,315.6 292.5,315.3 293.0,315.3 293.5,315.4 294.0,315.3 294.5,315.2 295.0,315.2 295.5,315.6 296.0,315.6 296.5,315.6 297.0,315.6 297.5,315.7 298.0,315.5 298.5,315.2 299.0,315.2 299.5,315.3 300.0,315.5 300.5,315.7 301.0,315.7 301.5,315.6 302.0,315.5 302.5,315.6 303.0,315.5 303.5,315.4 304.0,315.2 304.5,315.0 305.0,315.1 305.5,315.5 306.0,315.9 306.5,315.9 307.0,315.8 307.5,315.7 308.0,315.7 308.5,315.8 309.0,315.6 309.5,315.5 310.0,315.6 310.5,315.5 311.0,315.4 311.5,315.3 312.0,315.3 312.5,315.5 313.0,315.6 313.5,315.7 314.0,315.5 314.5,315.4 315.0,315.4 315.5,311.1 316.0,312.1 316.5,312.7 317.0,313.3 317.5,313.7 318.0,314.4 318.5,314.7 319.0,314.8 319.5,315.0 320.0,315.0 320.5,315.2 321.0,315.3 321.5,315.4 322.0,315.5 322.5,315.6 323.0,315.7 323.5,315.8 324.0,316.0 324.5,315.8 325.0,315.5 325.5,315.5 326.0,315.3 326.5,315.2 327.0,304.9 327.5,307.0 328.0,308.8 328.5,310.3 329.0,311.4 329.5,312.2 330.0,312.7 330.5,313.4 331.0,314.1 331.5,314.4 332.0,314.5 332.5,314.7 333.0,304.3 333.5,306.5 334.0,308.2 334.5,309.6 335.0,310.8 335.5,311.9 336.0,312.8 336.5,313.4 337.0,313.6 337.5,313.8 338.0,314.3 338.5,314.7 339.0,307.0 339.5,308.4 340.0,309.6 340.5,310.9 341.0,312.0 341.5,313.0 342.0,313.4 342.5,313.9 343.0,314.1 343.5,314.3 344.0,314.3 344.5,314.9 345.0,308.5 345.5,309.9 346.0,311.0 346.5,312.0 347.0,312.8 347.5,313.1 348.0,313.5 348.5,313.9 349.0,314.3 349.5,314.6 350.0,314.9 350.5,314.9 351.0,315.0 351.5,315.0 352.0,315.3 352.5,315.3 353.0,315.4 353.5,315.2 354.0,315.3 354.5,315.2 355.0,315.2 355.5,315.3 356.0,315.4 356.5,315.6 357.0,315.5 357.5,315.7 358.0,315.8 358.5,315.8 359.0,315.7 359.5,315.7 360.0,315.8 360.5,315.6 361.0,315.5" fill="none" stroke="#00bfbf" stroke-width="0.55" stroke-linejoin="round"/>
<polyline points="291.0,320.7 291.5,320.7 292.0,321.0 292.5,321.2 293.0,321.2 293.5,321.1 294.0,321.2 294.5,321.1 295.0,321.1 295.5,321.0 296.0,320.7 296.5,320.6 297.0,320.8 297.5,321.0 298.0,321.1 298.5,321.0 299.0,321.2 299.5,321.2 300.0,321.1 300.5,320.9 301.0,321.0 301.5,321.2 302.0,321.1 302.5,320.9 303.0,320.9 303.5,321.1 304.0,321.2 304.5,321.2 305.0,321.2 305.5,321.1 306.0,320.8 306.5,320.9 307.0,321.1 307.5,321.2 308.0,321.2 308.5,321.1 309.0,320.9 309.5,320.7 310.0,320.8 310.5,321.0 311.0,321.1 311.5,321.1 312.0,321.2 312.5,321.3 313.0,321.2 313.5,321.3 314.0,321.2 314.5,321.2 315.0,321.3 315.5,315.7 316.0,316.6 316.5,317.6 317.0,318.2 317.5,318.7 318.0,319.1 318.5,319.6 319.0,320.0 319.5,320.3 320.0,320.3 320.5,320.3 321.0,320.4 321.5,313.0 322.0,314.7 322.5,315.9 323.0,317.0 323.5,317.8 324.0,318.5 324.5,319.1 325.0,319.4 325.5,319.9 326.0,320.0 326.5,320.1 327.0,303.5 327.5,307.1 328.0,310.1 328.5,312.4 329.0,314.2 329.5,315.8 330.0,316.9 330.5,317.5 331.0,318.3 331.5,319.0 332.0,319.4 332.5,319.5 333.0,319.9 333.5,320.1 334.0,320.4 334.5,320.4 335.0,320.4 335.5,320.5 336.0,320.8 336.5,320.9 337.0,320.7 337.5,320.9 338.0,321.0 338.5,321.2 339.0,301.3 339.5,305.2 340.0,308.3 340.5,311.0 341.0,313.2 341.5,314.8 342.0,315.9 342.5,316.9 343.0,317.8 343.5,318.5 344.0,319.4 344.5,319.8 345.0,311.2 345.5,313.0 346.0,314.8 346.5,316.2 347.0,316.9 347.5,317.6 348.0,318.1 348.5,318.7 349.0,319.2 349.5,319.6 350.0,319.9 350.5,320.1 351.0,312.8 351.5,314.3 352.0,315.8 352.5,316.8 353.0,317.8 353.5,318.4 354.0,319.3 354.5,319.8 355.0,320.0 355.5,320.0 356.0,320.1 356.5,320.5 357.0,310.6 357.5,312.6 358.0,314.1 358.5,315.6 359.0,316.7 359.5,317.4 360.0,318.1 360.5,318.8 361.0,319.5" fill="none" stroke="#bf00bf" stroke-width="0.55" stroke-linejoin="round"/>
<polyline points="291.0,326.3 291.5,326.2 292.0,326.2 292.5,326.3 293.0,326.3 293.5,326.3 294.0,326.5 294.5,326.6 295.0,326.6 295.5,326.4 296.0,326.3 296.5,326.2 297.0,326.1 297.5,326.2 298.0,326.5 298.5,326.5 299.0,326.6 299.5,326.6 300.0,326.8 300.5,326.7 301.0,326.4 301.5,326.2 302.0,326.2 302.5,326.3 303.0,326.3 303.5,326.2 304.0,326.4 304.5,326.4 305.0,326.5 305.5,326.4 306.0,326.2 306.5,326.0 307.0,326.0 307.5,326.2 308.0,326.2 308.5,326.3 309.0,326.3 309.5,326.4 310.0,326.6 310.5,326.6 311.0,326.6 311.5,326.7 312.0,326.6 312.5,326.5 313.0,326.5 313.5,326.7 314.0,326.6 314.5,326.5 315.0,326.4 315.5,326.4 316.0,326.2 316.5,326.2 317.0,326.5 317.5,326.7 318.0,326.6 318.5,326.4 319.0,326.5 319.5,326.5 320.0,326.4 320.5,326.3 321.0,326.6 321.5,326.6 322.0,326.5 322.5,326.2 323.0,326.3 323.5,326.4 324.0,326.6 324.5,326.6 325.0,326.5 325.5,326.5 326.0,326.5 326.5,326.6 327.0,318.0 327.5,319.8 328.0,321.2 328.5,322.3 329.0,323.2 329.5,323.8 330.0,324.3 330.5,324.9 331.0,325.4 331.5,325.4 332.0,325.3 332.5,325.5 333.0,313.9 333.5,316.5 334.0,318.7 334.5,320.3 335.0,321.3 335.5,322.1 336.0,323.0 336.5,323.7 337.0,324.3 337.5,324.7 338.0,325.1 338.5,325.3 339.0,310.2 339.5,313.6 340.0,316.2 340.5,318.2 341.0,320.1 341.5,321.5 342.0,322.7 342.5,323.2 343.0,323.7 343.5,323.9 344.0,324.6 344.5,325.2 345.0,304.1 345.5,308.6 346.0,312.2 346.5,315.1 347.0,317.3 347.5,319.0 348.0,320.6 348.5,322.1 349.0,323.1 349.5,323.8 350.0,324.1 350.5,324.4 351.0,313.0 351.5,315.6 352.0,317.8 352.5,319.5 353.0,320.8 353.5,322.0 354.0,322.9 354.5,323.6 355.0,324.3 355.5,324.9 356.0,325.2 356.5,325.5 357.0,325.5 357.5,325.7 358.0,325.7 358.5,325.7 359.0,325.9 359.5,326.1 360.0,326.2 360.5,326.0 361.0,326.1" fill="none" stroke="#bfbf00" stroke-width="0.55" stroke-linejoin="round"/>
<polyline points="291.0,331.7 291.5,331.7 292.0,331.8 292.5,331.8 293.0,331.8 293.5,331.7 294.0,331.7 294.5,331.9 295.0,331.8 295.5,332.0 296.0,331.8 296.5,331.8 297.0,331.6 297.5,331.7 298.0,331.5 298.5,331.5 299.0,331.5 299.5,331.9 300.0,331.7 300.5,331.7 301.0,331.6 301.5,331.8 302.0,331.8 302.5,331.9 303.0,331.7 303.5,331.7 304.0,331.8 304.5,331.9 305.0,331.9 305.5,332.0 306.0,332.0 306.5,332.0 307.0,331.9 307.5,331.9 308.0,331.9 308.5,331.9 309.0,331.8 309.5,331.7 310.0,323.5 310.5,325.2 311.0,326.4 311.5,327.4 312.0,328.5 312.5,329.3 313.0,329.9 313.5,330.2 314.0,330.4 314.5,330.5 315.0,330.7 315.5,315.0 316.0,318.5 316.5,321.3 317.0,323.3 317.5,325.1 318.0,326.5 318.5,327.7 319.0,328.3 319.5,328.8 320.0,329.2 320.5,329.6 321.0,330.3 321.5,322.0 322.0,324.1 322.5,325.6 323.0,326.9 323.5,327.9 324.0,328.6 324.5,329.1 325.0,329.4 325.5,329.9 326.0,330.6 326.5,330.9 327.0,330.9 327.5,330.9 328.0,331.2 328.5,331.4 329.0,331.5 329.5,331.5 330.0,331.7 330.5,331.8 331.0,331.9 331.5,331.9 332.0,331.9 332.5,331.8 333.0,331.8 333.5,331.8 334.0,331.8 334.5,331.7 335.0,331.7 335.5,331.7 336.0,331.9 336.5,332.1 337.0,332.1 337.5,332.1 338.0,331.8 338.5,331.5 339.0,307.1 339.5,312.3 340.0,316.2 340.5,319.3 341.0,321.9 341.5,323.8 342.0,325.4 342.5,326.8 343.0,327.9 343.5,328.7 344.0,329.4 344.5,329.9 345.0,305.5 345.5,311.0 346.0,315.2 346.5,318.4 347.0,321.0 347.5,323.3 348.0,325.0 348.5,326.4 349.0,327.3 349.5,328.2 350.0,328.9 350.5,329.6 351.0,330.2 351.5,330.6 352.0,330.7 352.5,330.6 353.0,330.9 353.5,331.3 354.0,331.5 354.5,331.3 355.0,331.4 355.5,331.5 356.0,331.6 356.5,331.6 357.0,324.2 357.5,325.8 358.0,327.0 358.5,328.0 359.0,328.8 359.5,329.5 360.0,330.0 360.5,330.3 361.0,330.6" fill="none" stroke="#404040" stroke-width="0.55" stroke-linejoin="round"/>
<polyline points="291.0,337.2 291.5,337.3 292.0,337.5 292.5,337.3 293.0,337.3 293.5,337.2 294.0,337.2 294.5,337.3 295.0,337.3 295.5,337.4 296.0,337.3 296.5,337.3 297.0,337.2 297.5,337.0 298.0,336.8 298.5,336.9 299.0,337.0 299.5,337.3 300.0,337.2 300.5,337.0 301.0,336.9 301.5,337.0 302.0,337.2 302.5,337.2 303.0,337.1 303.5,337.2 304.0,337.5 304.5,337.7 305.0,337.4 305.5,337.1 306.0,337.3 306.5,337.5 307.0,337.6 307.5,337.2 308.0,337.1 308.5,337.1 309.0,337.3 309.5,337.3 310.0,337.2 310.5,337.2 311.0,337.3 311.5,337.3 312.0,337.4 312.5,337.2 313.0,337.1 313.5,337.2 314.0,337.5 314.5,337.4 315.0,337.0 315.5,314.8 316.0,319.4 316.5,323.0 317.0,325.8 317.5,328.3 318.0,330.1 318.5,331.4 319.0,332.5 319.5,333.6 320.0,334.4 320.5,334.7 321.0,335.2 321.5,335.8 322.0,336.3 322.5,336.4 323.0,336.5 323.5,336.5 324.0,336.7 324.5,337.0 325.0,337.0 325.5,336.9 326.0,336.7 326.5,336.8 327.0,314.5 327.5,319.2 328.0,322.9 328.5,325.8 329.0,328.0 329.5,329.9 330.0,331.6 330.5,332.6 331.0,333.6 331.5,334.2 332.0,334.7 332.5,335.1 333.0,302.4 333.5,309.3 334.0,314.8 334.5,319.4 335.0,323.0 335.5,325.7 336.0,328.0 336.5,330.1 337.0,331.7 337.5,332.8 338.0,333.8 338.5,334.5 339.0,334.9 339.5,335.3 340.0,335.6 340.5,335.9 341.0,336.2 341.5,336.5 342.0,336.6 342.5,336.8 343.0,336.8 343.5,336.8 344.0,336.8 344.5,336.9 345.0,337.0 345.5,337.3 346.0,337.3 346.5,337.3 347.0,337.1 347.5,337.0 348.0,336.9 348.5,336.8 349.0,336.7 349.5,336.7 350.0,337.0 350.5,337.3 351.0,337.4 351.5,337.4 352.0,337.3 352.5,337.3 353.0,337.5 353.5,337.3 354.0,337.3 354.5,337.3 355.0,337.3 355.5,337.3 356.0,337.3 356.5,337.1 357.0,337.0 357.5,337.2 358.0,337.4 358.5,337.5 359.0,337.3 359.5,337.2 360.0,337.1 360.5,337.4 361.0,337.4" fill="none" stroke="#0000ff" stroke-width="0.55" stroke-linejoin="round"/>
<polyline points="291.0,342.4 291.5,342.5 292.0,342.7 292.5,343.0 293.0,342.8 293.5,342.7 294.0,342.3 294.5,342.3 295.0,342.4 295.5,342.7 296.0,338.7 296.5,339.5 297.0,340.0 297.5,340.4 298.0,340.8 298.5,341.3 299.0,341.5 299.5,341.4 300.0,341.5 300.5,341.8 301.0,337.9 301.5,338.7 302.0,339.5 302.5,340.3 303.0,340.8 303.5,341.1 304.0,341.3 304.5,341.6 305.0,342.0 305.5,342.3 306.0,342.4 306.5,342.3 307.0,342.3 307.5,342.4 308.0,342.4 308.5,342.3 309.0,342.4 309.5,342.6 310.0,342.6 310.5,342.4 311.0,342.5 311.5,342.6 312.0,342.6 312.5,342.4 313.0,342.5 313.5,342.5 314.0,342.5 314.5,342.5 315.0,342.6 315.5,312.9 316.0,318.9 316.5,323.7 317.0,327.6 317.5,330.7 318.0,333.4 318.5,335.1 319.0,336.4 319.5,337.7 320.0,338.6 320.5,339.3 321.0,339.8 321.5,324.2 322.0,327.8 322.5,331.2 323.0,333.9 323.5,335.8 324.0,337.0 324.5,338.1 325.0,339.1 325.5,340.0 326.0,340.6 326.5,340.9 327.0,327.2 327.5,330.3 328.0,332.7 328.5,334.5 329.0,336.2 329.5,337.6 330.0,338.7 330.5,339.4 331.0,339.8 331.5,340.3 332.0,340.8 332.5,341.4 333.0,341.6 333.5,341.6 334.0,341.8 334.5,342.3 335.0,342.6 335.5,342.8 336.0,342.6 336.5,342.4 337.0,342.4 337.5,342.6 338.0,342.3 338.5,342.1 339.0,342.2 339.5,342.6 340.0,342.8 340.5,342.9 341.0,342.9 341.5,342.5 342.0,342.1 342.5,342.1 343.0,342.5 343.5,342.6 344.0,342.5 344.5,342.6 345.0,326.4 345.5,329.7 346.0,332.0 346.5,333.9 347.0,335.7 347.5,337.0 348.0,338.2 348.5,339.1 349.0,339.8 349.5,340.1 350.0,340.7 350.5,341.1 351.0,313.1 351.5,319.3 352.0,324.1 352.5,327.6 353.0,330.4 353.5,333.0 354.0,335.1 354.5,336.5 355.0,337.7 355.5,339.0 356.0,339.9 356.5,340.2 357.0,340.4 357.5,341.1 358.0,341.7 358.5,341.9 359.0,341.8 359.5,341.7 360.0,342.0 360.5,342.2 361.0,342.3" fill="none" stroke="#008000" stroke-width="0.55" stroke-linejoin="round"/>
<polyline points="291.0,348.1 291.5,348.2 292.0,348.1 292.5,348.1 293.0,348.0 293.5,347.9 294.0,347.9 294.5,347.9 295.0,348.0 295.5,347.9 296.0,344.0 296.5,344.4 297.0,345.3 297.5,345.9 298.0,346.2 298.5,346.1 299.0,346.7 299.5,347.3 300.0,347.5 300.5,347.5 301.0,344.4 301.5,345.1 302.0,345.5 302.5,345.9 303.0,346.4 303.5,347.0 304.0,347.3 304.5,347.3 305.0,347.2 305.5,347.3 306.0,347.4 306.5,347.7 307.0,348.1 307.5,348.4 308.0,348.1 308.5,347.9 309.0,348.0 309.5,348.0 310.0,338.7 310.5,340.4 311.0,342.1 311.5,343.6 312.0,344.3 312.5,344.9 313.0,345.4 313.5,345.9 314.0,346.2 314.5,346.7 315.0,347.0 315.5,347.1 316.0,347.1 316.5,347.3 317.0,347.5 317.5,347.7 318.0,347.9 318.5,347.8 319.0,347.9 319.5,347.9 320.0,348.1 320.5,348.1 321.0,348.1 321.5,348.0 322.0,348.0 322.5,348.0 323.0,348.0 323.5,348.3 324.0,348.2 324.5,348.1 325.0,348.0 325.5,348.2 326.0,348.1 326.5,348.1 327.0,348.0 327.5,347.9 328.0,347.6 328.5,347.5 329.0,347.6 329.5,347.9 330.0,348.0 330.5,347.8 331.0,347.6 331.5,347.7 332.0,347.8 332.5,348.0 333.0,327.9 333.5,331.8 334.0,335.1 334.5,337.8 335.0,339.9 335.5,341.3 336.0,342.7 336.5,343.7 337.0,344.5 337.5,345.1 338.0,345.9 338.5,346.4 339.0,325.9 339.5,330.4 340.0,334.0 340.5,337.0 341.0,339.1 341.5,340.7 342.0,342.1 342.5,343.3 343.0,344.3 343.5,344.9 344.0,345.7 344.5,346.3 345.0,328.8 345.5,332.5 346.0,335.6 346.5,338.1 347.0,340.1 347.5,341.6 348.0,342.8 348.5,343.8 349.0,344.6 349.5,345.3 350.0,345.8 350.5,346.4 351.0,314.7 351.5,321.4 352.0,326.7 352.5,331.0 353.0,334.5 353.5,337.3 354.0,339.6 354.5,341.2 355.0,342.4 355.5,343.8 356.0,344.9 356.5,345.5 357.0,345.7 357.5,346.1 358.0,346.4 358.5,347.0 359.0,347.2 359.5,347.4 360.0,347.6 360.5,347.8 361.0,347.8" fill="none" stroke="#ff0000" stroke-width="0.55" stroke-linejoin="round"/>
<polyline points="291.0,353.4 291.5,353.4 292.0,353.5 292.5,353.6 293.0,353.7 293.5,353.5 294.0,353.6 294.5,353.4 295.0,353.6 295.5,353.5 296.0,353.3 296.5,353.3 297.0,353.6 297.5,353.7 298.0,353.4 298.5,353.3 299.0,353.5 299.5,353.6 300.0,353.5 300.5,353.3 301.0,353.2 301.5,353.3 302.0,353.3 302.5,353.0 303.0,353.1 303.5,353.3 304.0,353.5 304.5,353.5 305.0,349.6 305.5,350.3 306.0,351.0 306.5,351.7 307.0,352.1 307.5,352.2 308.0,352.1 308.5,352.3 309.0,352.6 309.5,352.8 310.0,352.7 310.5,352.8 311.0,353.0 311.5,353.0 312.0,353.0 312.5,353.1 313.0,353.5 313.5,353.5 314.0,353.4 314.5,353.1 315.0,353.1 315.5,327.7 316.0,332.9 316.5,336.8 317.0,340.3 317.5,343.0 318.0,345.1 318.5,346.7 319.0,348.3 319.5,349.4 320.0,350.2 320.5,351.1 321.0,351.6 321.5,336.0 322.0,339.4 322.5,342.4 323.0,344.4 323.5,346.0 324.0,347.5 324.5,348.8 325.0,349.7 325.5,350.5 326.0,351.3 326.5,351.7 327.0,315.9 327.5,323.4 328.0,329.5 328.5,334.5 329.0,338.4 329.5,341.4 330.0,343.9 330.5,345.9 331.0,347.5 331.5,348.7 332.0,349.7 332.5,350.4 333.0,351.0 333.5,351.5 334.0,352.1 334.5,352.4 335.0,352.6 335.5,352.7 336.0,352.8 336.5,353.0 337.0,353.0 337.5,352.9 338.0,352.9 338.5,353.0 339.0,353.1 339.5,353.2 340.0,353.3 340.5,353.1 341.0,352.9 341.5,352.9 342.0,353.2 342.5,353.3 343.0,353.1 343.5,353.0 344.0,353.0 344.5,353.1 345.0,353.1 345.5,353.0 346.0,353.1 346.5,353.2 347.0,353.4 347.5,353.2 348.0,353.1 348.5,353.1 349.0,353.2 349.5,353.3 350.0,353.3 350.5,353.6 351.0,334.6 351.5,338.4 352.0,341.4 352.5,343.8 353.0,345.8 353.5,347.5 354.0,348.7 354.5,349.7 355.0,350.3 355.5,350.8 356.0,351.3 356.5,351.9 357.0,352.3 357.5,352.6 358.0,352.7 358.5,352.9 359.0,353.0 359.5,353.2 360.0,353.3 360.5,353.1 361.0,353.0" fill="none" stroke="#00bfbf" stroke-width="0.55" stroke-linejoin="round"/>
<polyline points="291.0,358.9 291.5,358.8 292.0,358.7 292.5,358.6 293.0,358.8 293.5,359.0 294.0,358.8 294.5,358.5 295.0,358.5 295.5,358.9 296.0,358.7 296.5,358.8 297.0,358.9 297.5,358.9 298.0,358.7 298.5,358.7 299.0,358.8 299.5,359.0 300.0,359.3 300.5,359.2 301.0,359.1 301.5,359.0 302.0,358.9 302.5,358.7 303.0,358.7 303.5,358.8 304.0,358.7 304.5,358.8 305.0,358.8 305.5,358.8 306.0,358.7 306.5,358.9 307.0,359.1 307.5,359.0 308.0,358.9 308.5,358.9 309.0,358.8 309.5,358.4 310.0,333.5 310.5,338.7 311.0,343.1 311.5,346.4 312.0,348.9 312.5,350.8 313.0,352.4 313.5,353.7 314.0,354.8 314.5,355.7 315.0,356.3 315.5,325.0 316.0,331.7 316.5,337.1 317.0,341.4 317.5,345.1 318.0,348.2 318.5,350.5 319.0,352.1 319.5,353.3 320.0,354.3 320.5,355.2 321.0,356.0 321.5,338.1 322.0,342.3 322.5,345.7 323.0,348.4 323.5,350.4 324.0,351.9 324.5,353.3 325.0,354.4 325.5,355.4 326.0,356.3 326.5,356.9 327.0,328.1 327.5,334.4 328.0,339.2 328.5,342.9 329.0,346.2 329.5,348.8 330.0,350.8 330.5,352.3 331.0,353.4 331.5,354.3 332.0,355.2 332.5,356.0 333.0,356.6 333.5,357.1 334.0,357.5 334.5,357.7 335.0,358.0 335.5,358.3 336.0,358.4 336.5,358.4 337.0,358.6 337.5,358.7 338.0,358.7 338.5,358.6 339.0,358.4 339.5,358.4 340.0,358.6 340.5,358.8 341.0,358.8 341.5,358.6 342.0,358.8 342.5,358.9 343.0,359.2 343.5,359.0 344.0,358.9 344.5,358.6 345.0,358.6 345.5,358.6 346.0,358.8 346.5,358.8 347.0,358.7 347.5,358.7 348.0,358.7 348.5,359.0 349.0,358.9 349.5,358.9 350.0,358.9 350.5,359.0 351.0,329.0 351.5,335.1 352.0,339.8 352.5,343.4 353.0,346.4 353.5,348.8 354.0,350.9 354.5,352.6 355.0,353.8 355.5,354.5 356.0,355.4 356.5,356.5 357.0,357.2 357.5,357.4 358.0,357.7 358.5,358.0 359.0,358.2 359.5,358.5 360.0,358.7 360.5,358.7 361.0,358.5" fill="none" stroke="#bf00bf" stroke-width="0.55" stroke-linejoin="round"/>
<polyline points="291.0,364.1 291.5,364.0 292.0,364.2 292.5,364.3 293.0,364.5 293.5,364.6 294.0,364.4 294.5,364.1 295.0,363.9 295.5,363.9 296.0,364.2 296.5,364.4 297.0,364.2 297.5,364.1 298.0,361.9 298.5,362.6 299.0,362.8 299.5,363.0 300.0,363.4 300.5,363.7 301.0,363.9 301.5,364.2 302.0,364.2 302.5,364.1 303.0,364.1 303.5,364.5 304.0,364.4 304.5,364.3 305.0,364.1 305.5,364.4 306.0,362.2 306.5,362.8 307.0,363.1 307.5,363.4 308.0,363.4 308.5,363.6 309.0,363.9 309.5,364.1 310.0,363.8 310.5,363.9 311.0,364.0 311.5,364.3 312.0,362.5 312.5,362.8 313.0,363.1 313.5,363.3 314.0,363.5 314.5,363.7 315.0,363.9 315.5,364.2 316.0,364.3 316.5,364.4 317.0,364.3 317.5,364.2 318.0,364.1 318.5,364.0 319.0,364.0 319.5,364.3 320.0,364.4 320.5,364.4 321.0,364.2 321.5,364.4 322.0,364.4 322.5,364.2 323.0,361.4 323.5,362.1 324.0,362.6 324.5,362.9 325.0,363.0 325.5,363.1 326.0,363.3 326.5,363.7 327.0,363.9 327.5,363.9 328.0,364.1 328.5,364.1 329.0,364.1 329.5,364.3 330.0,364.3 330.5,364.3 331.0,364.3 331.5,364.5 332.0,364.5 332.5,364.3 333.0,364.2 333.5,364.2 334.0,364.2 334.5,364.2 335.0,364.1 335.5,364.1 336.0,364.0 336.5,364.0 337.0,364.0 337.5,364.1 338.0,364.4 338.5,364.3 339.0,364.2 339.5,364.3 340.0,364.3 340.5,364.1 341.0,364.1 341.5,364.2 342.0,364.2 342.5,363.8 343.0,363.7 343.5,363.8 344.0,364.2 344.5,364.4 345.0,364.4 345.5,364.3 346.0,364.2 346.5,364.1 347.0,364.3 347.5,364.5 348.0,364.4 348.5,364.0 349.0,364.0 349.5,364.2 350.0,364.3 350.5,364.3 351.0,342.4 351.5,346.9 352.0,350.4 352.5,353.1 353.0,355.7 353.5,357.5 354.0,358.7 354.5,359.8 355.0,360.7 355.5,361.4 356.0,361.9 356.5,362.7 357.0,363.0 357.5,363.1 358.0,363.1 358.5,363.5 359.0,363.7 359.5,363.8 360.0,364.0 360.5,363.9 361.0,364.0" fill="none" stroke="#bfbf00" stroke-width="0.55" stroke-linejoin="round"/>
<polyline points="291.0,370.0 291.5,370.1 292.0,369.8 292.5,369.8 293.0,369.9 293.5,369.9 294.0,369.7 294.5,369.4 295.0,369.2 295.5,369.1 296.0,369.3 296.5,369.7 297.0,369.9 297.5,370.0 298.0,368.5 298.5,368.9 299.0,369.2 299.5,369.4 300.0,369.3 300.5,369.2 301.0,369.3 301.5,369.5 302.0,369.5 302.5,369.6 303.0,367.4 303.5,368.1 304.0,368.4 304.5,368.6 305.0,368.6 305.5,368.8 306.0,369.0 306.5,369.0 307.0,369.0 307.5,369.3 308.0,369.7 308.5,369.7 309.0,369.5 309.5,369.3 310.0,369.3 310.5,369.4 311.0,369.7 311.5,369.9 312.0,369.0 312.5,369.2 313.0,369.4 313.5,369.4 314.0,369.4 314.5,369.6 315.0,369.6 315.5,369.5 316.0,369.5 316.5,369.7 317.0,369.6 317.5,369.5 318.0,369.5 318.5,369.5 319.0,369.4 319.5,369.5 320.0,369.5 320.5,369.6 321.0,369.5 321.5,369.5 322.0,369.6 322.5,369.8 323.0,368.6 323.5,368.8 324.0,369.0 324.5,369.1 325.0,369.2 325.5,369.3 326.0,369.4 326.5,369.3 327.0,369.2 327.5,369.3 328.0,369.5 328.5,369.6 329.0,369.6 329.5,369.7 330.0,369.7 330.5,369.9 331.0,370.1 331.5,370.1 332.0,369.8 332.5,369.6 333.0,369.6 333.5,369.7 334.0,369.6 334.5,369.8 335.0,369.8 335.5,369.8 336.0,370.0 336.5,370.0 337.0,369.9 337.5,369.9 338.0,370.0 338.5,369.8 339.0,369.6 339.5,369.6 340.0,367.1 340.5,367.8 341.0,368.4 341.5,368.7 342.0,368.6 342.5,368.5 343.0,368.7 343.5,369.2 344.0,369.4 344.5,369.4 345.0,369.4 345.5,369.7 346.0,369.6 346.5,369.3 347.0,369.4 347.5,369.9 348.0,370.1 348.5,369.9 349.0,369.7 349.5,369.6 350.0,369.8 350.5,369.9 351.0,369.7 351.5,369.6 352.0,369.7 352.5,369.7 353.0,369.7 353.5,369.7 354.0,369.8 354.5,369.9 355.0,369.8 355.5,369.6 356.0,369.6 356.5,369.7 357.0,369.6 357.5,369.7 358.0,369.9 358.5,369.8 359.0,369.6 359.5,369.7 360.0,370.0 360.5,369.9 361.0,369.8" fill="none" stroke="#404040" stroke-width="0.55" stroke-linejoin="round"/>
<polyline points="291.0,375.6 291.5,375.6 292.0,375.3 292.5,375.1 293.0,375.0 293.5,374.9 294.0,374.8 294.5,374.8 295.0,375.0 295.5,375.2 296.0,374.9 296.5,374.4 297.0,374.4 297.5,374.7 298.0,372.8 298.5,373.4 299.0,373.6 299.5,374.0 300.0,374.2 300.5,374.4 301.0,374.6 301.5,374.8 302.0,375.2 302.5,375.2 303.0,372.7 303.5,373.2 304.0,373.5 304.5,373.9 305.0,374.2 305.5,374.6 306.0,373.2 306.5,373.8 307.0,374.0 307.5,374.3 308.0,374.4 308.5,374.6 309.0,374.6 309.5,374.7 310.0,374.7 310.5,374.9 311.0,375.1 311.5,375.4 312.0,372.7 312.5,373.3 313.0,373.6 313.5,374.0 314.0,374.3 314.5,374.1 315.0,374.3 315.5,374.3 316.0,374.4 316.5,374.5 317.0,374.9 317.5,375.0 318.0,374.9 318.5,374.9 319.0,375.0 319.5,375.2 320.0,375.3 320.5,375.3 321.0,375.4 321.5,375.4 322.0,375.1 322.5,374.7 323.0,374.7 323.5,374.9 324.0,375.0 324.5,374.9 325.0,374.8 325.5,375.0 326.0,375.2 326.5,375.1 327.0,374.7 327.5,374.7 328.0,375.1 328.5,375.4 329.0,375.2 329.5,375.0 330.0,375.0 330.5,374.9 331.0,375.1 331.5,375.5 332.0,375.5 332.5,375.4 333.0,375.2 333.5,375.3 334.0,375.3 334.5,375.4 335.0,375.4 335.5,375.3 336.0,375.1 336.5,374.9 337.0,374.9 337.5,375.1 338.0,375.0 338.5,374.9 339.0,374.8 339.5,374.9 340.0,372.7 340.5,373.1 341.0,373.4 341.5,373.8 342.0,374.2 342.5,374.6 343.0,374.8 343.5,374.8 344.0,374.8 344.5,374.8 345.0,374.9 345.5,375.0 346.0,375.2 346.5,375.2 347.0,375.0 347.5,375.0 348.0,375.1 348.5,375.0 349.0,375.0 349.5,375.2 350.0,375.5 350.5,375.5 351.0,375.1 351.5,375.0 352.0,375.1 352.5,375.3 353.0,375.3 353.5,375.2 354.0,375.3 354.5,375.6 355.0,375.6 355.5,375.3 356.0,375.1 356.5,375.1 357.0,374.9 357.5,375.1 358.0,375.3 358.5,375.2 359.0,375.0 359.5,375.1 360.0,375.1 360.5,375.0 361.0,375.0" fill="none" stroke="#0000ff" stroke-width="0.55" stroke-linejoin="round"/>
<polyline points="291.0,380.7 291.5,380.9 292.0,380.7 292.5,380.8 293.0,380.6 293.5,380.7 294.0,380.6 294.5,380.8 295.0,380.7 295.5,380.6 296.0,380.3 296.5,380.1 297.0,380.2 297.5,380.4 298.0,378.3 298.5,378.7 299.0,379.1 299.5,379.3 300.0,379.5 300.5,379.6 301.0,379.8 301.5,379.9 302.0,380.1 302.5,380.4 303.0,378.0 303.5,378.6 304.0,379.0 304.5,379.2 305.0,379.5 305.5,379.5 306.0,379.6 306.5,379.6 307.0,379.9 307.5,380.2 308.0,380.6 308.5,380.5 309.0,380.4 309.5,380.5 310.0,380.7 310.5,380.5 311.0,380.6 311.5,380.7 312.0,380.7 312.5,380.7 313.0,380.6 313.5,380.6 314.0,380.1 314.5,379.9 315.0,380.0 315.5,380.4 316.0,380.5 316.5,380.6 317.0,380.4 317.5,380.2 318.0,377.9 318.5,378.6 319.0,378.8 319.5,379.3 320.0,379.6 320.5,379.9 321.0,379.8 321.5,380.1 322.0,380.4 322.5,380.6 323.0,380.5 323.5,380.5 324.0,380.7 324.5,380.6 325.0,380.4 325.5,380.3 326.0,380.5 326.5,380.7 327.0,380.4 327.5,380.2 328.0,380.2 328.5,380.4 329.0,380.1 329.5,380.0 330.0,380.3 330.5,380.6 331.0,380.7 331.5,380.6 332.0,380.7 332.5,380.8 333.0,380.8 333.5,380.7 334.0,380.6 334.5,380.6 335.0,380.9 335.5,381.0 336.0,380.7 336.5,380.4 337.0,380.4 337.5,380.8 338.0,381.0 338.5,381.0 339.0,380.7 339.5,380.8 340.0,378.7 340.5,379.1 341.0,379.1 341.5,379.1 342.0,379.4 342.5,379.9 343.0,380.1 343.5,380.1 344.0,380.3 344.5,380.3 345.0,380.3 345.5,380.1 346.0,377.4 346.5,378.0 347.0,378.5 347.5,379.1 348.0,379.8 348.5,380.1 349.0,380.2 349.5,380.1 350.0,380.0 350.5,380.1 351.0,380.3 351.5,380.4 352.0,380.2 352.5,380.2 353.0,380.3 353.5,380.3 354.0,380.2 354.5,380.3 355.0,380.7 355.5,380.6 356.0,380.5 356.5,380.3 357.0,380.5 357.5,380.7 358.0,380.7 358.5,380.7 359.0,380.4 359.5,380.5 360.0,380.4 360.5,380.4 361.0,380.4" fill="none" stroke="#008000" stroke-width="0.55" stroke-linejoin="round"/>
<clipPath id="clip4"><rect x="196.1" y="293.9" width="64.4" height="86.1"/></clipPath>
<g clip-path="url(#clip4)"><g filter="url(#jetn)">
<rect x="188.10" y="285.90" width="80.40" height="102.10" fill="rgb(236,236,236)" />
<circle cx="214" cy="330" r="4" fill="rgb(245,245,245)" filter="url(#gb2.5)"/>
<circle cx="225" cy="326" r="3.5" fill="rgb(245,245,245)" filter="url(#gb2.5)"/>
<circle cx="241" cy="346" r="4.5" fill="rgb(246,246,246)" filter="url(#gb2.5)"/>
<circle cx="245" cy="312" r="4" fill="rgb(245,245,245)" filter="url(#gb2.5)"/>
<circle cx="202" cy="346" r="3.5" fill="rgb(244,244,244)" filter="url(#gb2.5)"/>
<circle cx="220" cy="305" r="3.5" fill="rgb(244,244,244)" filter="url(#gb2.5)"/>
<circle cx="256" cy="330" r="3" fill="rgb(244,244,244)" filter="url(#gb2.5)"/>
<circle cx="233" cy="297" r="5" fill="rgb(242,242,242)" filter="url(#gb2.5)"/>
<circle cx="222" cy="350" r="3" fill="rgb(245,245,245)" filter="url(#gb2)"/>
<circle cx="250" cy="300" r="4" fill="rgb(244,244,244)" filter="url(#gb2.5)"/>
<circle cx="205" cy="318" r="3" fill="rgb(244,244,244)" filter="url(#gb2.5)"/>
<circle cx="252" cy="362" r="5" fill="rgb(227,227,227)" filter="url(#gb2.5)"/>
<circle cx="212" cy="365" r="4" fill="rgb(228,228,228)" filter="url(#gb2.5)"/>
<circle cx="238" cy="371" r="4" fill="rgb(230,230,230)" filter="url(#gb2.5)"/>
<ellipse cx="234" cy="339" rx="7" ry="9" fill="rgb(214,214,214)" transform="rotate(-35 234 339)" filter="url(#gb2)"/>
<ellipse cx="238.5" cy="332" rx="8" ry="4.2" fill="rgb(204,204,204)" transform="rotate(-48 238.5 332)" filter="url(#gb1.5)"/>
<ellipse cx="238" cy="332.8" rx="7" ry="2.6" fill="rgb(181,181,181)" transform="rotate(-48 238 332.8)" filter="url(#gb1.1)"/>
<circle cx="242.3" cy="328" r="2.6" fill="rgb(168,168,168)" filter="url(#gb1.2)"/>
<ellipse cx="231" cy="342.5" rx="4.7" ry="6.7" fill="rgb(153,153,153)" transform="rotate(0 231 342.5)" filter="url(#gb1.1)"/>
<ellipse cx="231" cy="342.2" rx="3.3" ry="5.2" fill="rgb(84,84,84)" transform="rotate(0 231 342.2)" filter="url(#gb0.9)"/>
<ellipse cx="231" cy="342" rx="2.4" ry="4.2" fill="rgb(15,15,15)" transform="rotate(0 231 342)" filter="url(#gb0.8)"/>
</g></g>
<rect x="262.30" y="293.90" width="4.30" height="86.10" fill="url(#cbar)" />
<text x="268.00" y="298.50" font-size="9" fill="#000" >0</text>
<text x="268.00" y="315.70" font-size="9" fill="#000" >-0.2</text>
<text x="268.00" y="333.00" font-size="9" fill="#000" >-0.4</text>
<text x="268.00" y="350.20" font-size="9" fill="#000" >-0.6</text>
<text x="268.00" y="367.40" font-size="9" fill="#000" >-0.8</text>
<text x="268.00" y="383.60" font-size="9" fill="#000" >-1</text>
<text x="197.20" y="374.30" font-size="10" fill="#fff" >0</text>
<text x="207.80" y="374.30" font-size="10" fill="#fff" >-10</text>
<rect x="201.60" y="375.60" width="12.00" height="1.60" fill="url(#hbarE)" />
<text x="216.40" y="377.40" font-size="6.5" fill="#fff" >ms·pA</text>
<line x1="251.20" y1="377.00" x2="257.50" y2="377.00" stroke="#fff" stroke-width="0.8" />
<clipPath id="clip5"><rect x="371.4" y="294.3" width="63.4" height="85.1"/></clipPath>
<g clip-path="url(#clip5)"><g filter="url(#jetn)">
<rect x="363.40" y="286.30" width="79.40" height="101.10" fill="rgb(22,22,22)" />
<circle cx="385" cy="305" r="3" fill="rgb(18,18,18)" filter="url(#gb2)"/>
<circle cx="400" cy="318" r="3" fill="rgb(18,18,18)" filter="url(#gb2)"/>
<circle cx="380" cy="360" r="3" fill="rgb(18,18,18)" filter="url(#gb2)"/>
<circle cx="425" cy="370" r="3" fill="rgb(18,18,18)" filter="url(#gb2)"/>
<circle cx="395" cy="300" r="2.5" fill="rgb(36,36,36)" filter="url(#gb2)"/>
<circle cx="420" cy="305" r="2.5" fill="rgb(36,36,36)" filter="url(#gb2)"/>
<circle cx="380" cy="335" r="2.5" fill="rgb(33,33,33)" filter="url(#gb2)"/>
<circle cx="410" cy="368" r="2.5" fill="rgb(36,36,36)" filter="url(#gb2)"/>
<ellipse cx="410" cy="338.5" rx="21.5" ry="11" fill="rgb(94,94,94)" transform="rotate(-48 410 338.5)" filter="url(#gb2.5)"/>
<ellipse cx="417.5" cy="336.5" rx="7.8" ry="10.5" fill="rgb(158,158,158)" transform="rotate(0 417.5 336.5)" filter="url(#gb1.5)"/>
<ellipse cx="405" cy="344" rx="6.5" ry="4.8" fill="rgb(163,163,163)" transform="rotate(-30 405 344)" filter="url(#gb1.5)"/>
<ellipse cx="420" cy="333" rx="5" ry="6" fill="rgb(191,191,191)" transform="rotate(0 420 333)" filter="url(#gb1.5)"/>
<ellipse cx="418.5" cy="337.5" rx="4.3" ry="7" fill="rgb(222,222,222)" transform="rotate(0 418.5 337.5)" filter="url(#gb1.2)"/>
<circle cx="418.5" cy="339" r="2.3" fill="rgb(247,247,247)" filter="url(#gb1)"/>
</g></g>
<path d="M402.6,346 L406.6,346 L404.6,342.5 Z" fill="none" stroke="#222" stroke-width="0.6"/>
<rect x="437.00" y="294.30" width="4.20" height="85.10" fill="url(#cbar)" />
<text x="443.00" y="301.50" font-size="9" fill="#000" >4</text>
<text x="443.00" y="320.20" font-size="9" fill="#000" >3</text>
<text x="443.00" y="340.70" font-size="9" fill="#000" >2</text>
<text x="443.00" y="361.10" font-size="9" fill="#000" >1</text>
<text x="443.00" y="381.70" font-size="9" fill="#000" >0</text>
<text x="373.20" y="375.80" font-size="10" fill="#fff" >0</text>
<text x="385.30" y="375.80" font-size="10" fill="#fff" >40</text>
<rect x="377.40" y="375.60" width="11.30" height="1.80" fill="url(#hbarI)" />
<text x="395.00" y="377.60" font-size="6.5" fill="#fff" >ms·pA</text>
<line x1="425.20" y1="377.20" x2="431.00" y2="377.20" stroke="#fff" stroke-width="0.8" />
<clipPath id="clip6"><rect x="459" y="294.4" width="63.9" height="85.4"/></clipPath>
<g clip-path="url(#clip6)"><g filter="url(#jetn)">
<rect x="451.00" y="286.40" width="79.90" height="101.40" fill="rgb(18,18,18)" />
<circle cx="483" cy="309" r="3" fill="rgb(29,29,29)" filter="url(#gb2)"/>
<circle cx="484" cy="322" r="3.5" fill="rgb(32,32,32)" filter="url(#gb2)"/>
<circle cx="520" cy="303" r="3" fill="rgb(31,31,31)" filter="url(#gb2)"/>
<circle cx="462" cy="318" r="3" fill="rgb(28,28,28)" filter="url(#gb2)"/>
<circle cx="465" cy="330" r="2.5" fill="rgb(26,26,26)" filter="url(#gb2)"/>
<circle cx="472" cy="360" r="3" fill="rgb(28,28,28)" filter="url(#gb2)"/>
<circle cx="505" cy="355" r="2.5" fill="rgb(26,26,26)" filter="url(#gb2)"/>
<circle cx="500" cy="300" r="2.5" fill="rgb(26,26,26)" filter="url(#gb2)"/>
<circle cx="512" cy="335" r="3" fill="rgb(26,26,26)" filter="url(#gb2)"/>
<circle cx="490" cy="345" r="3" fill="rgb(24,24,24)" filter="url(#gb2)"/>
<circle cx="461" cy="372.5" r="3.2" fill="rgb(71,71,71)" filter="url(#gb1.5)"/>
<circle cx="461" cy="372.5" r="1.8" fill="rgb(115,115,115)" filter="url(#gb1)"/>
</g></g>
<path d="M493.8,345.5 L496.2,345.5 L495,343 Z" fill="#5060e0"/>
<rect x="525.70" y="294.40" width="5.00" height="85.40" fill="url(#cbar)" />
<text x="533.00" y="297.00" font-size="9.5" fill="#000" >10</text>
<text x="533.00" y="313.70" font-size="9.5" fill="#000" >8</text>
<text x="533.00" y="330.80" font-size="9.5" fill="#000" >6</text>
<text x="533.00" y="348.80" font-size="9.5" fill="#000" >4</text>
<text x="533.00" y="365.90" font-size="9.5" fill="#000" >2</text>
<text x="533.00" y="383.00" font-size="9.5" fill="#000" >0</text>
<text x="465.60" y="376.90" font-size="11.4" fill="#fff" >n = 10</text>
<line x1="505.00" y1="377.00" x2="511.00" y2="377.00" stroke="#fff" stroke-width="0.8" />
<!-- ROW4 -->
<path d="M18.90,512.30h3.39v-70.35h-3.39zM22.29,512.30h3.39v-15.65h-3.39zM25.68,512.30h3.39v-5.46h-3.39zM29.07,512.30h3.39v-2.30h-3.39zM32.47,512.30h3.39v-0.73h-3.39zM35.86,512.30h3.39v-0.49h-3.39zM39.25,512.30h3.39v-0.30h-3.39zM42.64,512.30h3.39v-0.30h-3.39zM46.03,512.30h3.39v-0.18h-3.39zM49.42,512.30h3.39v-0.18h-3.39zM52.81,512.30h3.39v-0.18h-3.39zM56.21,512.30h3.39v-0.18h-3.39zM62.99,512.30h3.39v-0.18h-3.39zM69.77,512.30h3.39v-0.18h-3.39zM83.34,512.30h3.39v-0.18h-3.39z" fill="#000080" stroke="#000040" stroke-width="0.3"/>
<rect x="18.90" y="427.40" width="109.40" height="84.90" fill="none" stroke="#000" stroke-width="0.9"/>
<text x="18.30" y="430.40" font-size="8.2" text-anchor="end" fill="#111" >140</text>
<text x="18.30" y="442.10" font-size="8.2" text-anchor="end" fill="#111" >120</text>
<text x="18.30" y="453.80" font-size="8.2" text-anchor="end" fill="#111" >100</text>
<text x="18.30" y="465.60" font-size="8.2" text-anchor="end" fill="#111" >80</text>
<text x="18.30" y="477.90" font-size="8.2" text-anchor="end" fill="#111" >60</text>
<text x="18.30" y="489.80" font-size="8.2" text-anchor="end" fill="#111" >40</text>
<text x="18.30" y="502.00" font-size="8.2" text-anchor="end" fill="#111" >20</text>
<text x="18.30" y="514.30" font-size="8.2" text-anchor="end" fill="#111" >0</text>
<text x="19.80" y="520.30" font-size="8.2" text-anchor="middle" fill="#111" >0</text>
<text x="41.00" y="520.30" font-size="8.2" text-anchor="middle" fill="#111" >1</text>
<text x="63.00" y="520.30" font-size="8.2" text-anchor="middle" fill="#111" >2</text>
<text x="84.70" y="520.30" font-size="8.2" text-anchor="middle" fill="#111" >3</text>
<text x="106.90" y="520.30" font-size="8.2" text-anchor="middle" fill="#111" >4</text>
<text x="128.70" y="520.30" font-size="8.2" text-anchor="middle" fill="#111" >5</text>
<text x="30.60" y="442.70" font-size="11.6" fill="#000" >Median = 0.1</text>
<text x="76.40" y="530.40" font-size="11.45" text-anchor="middle" fill="#000" >Individual E/I ratios</text>
<line x1="171.80" y1="422.40" x2="171.80" y2="519.30" stroke="#000" stroke-width="0.9" />
<line x1="171.80" y1="519.30" x2="259.30" y2="519.30" stroke="#000" stroke-width="0.9" />
<text x="171.00" y="427.90" font-size="8.2" text-anchor="end" fill="#111" >100</text>
<text x="171.00" y="446.50" font-size="8.2" text-anchor="end" fill="#111" >80</text>
<text x="171.00" y="465.20" font-size="8.2" text-anchor="end" fill="#111" >60</text>
<text x="171.00" y="482.60" font-size="8.2" text-anchor="end" fill="#111" >40</text>
<text x="171.00" y="501.20" font-size="8.2" text-anchor="end" fill="#111" >20</text>
<text x="171.00" y="519.90" font-size="8.2" text-anchor="end" fill="#111" >0</text>
<rect x="179.80" y="516.90" width="10.40" height="2.40" fill="#000" />
<rect x="192.05" y="505.70" width="11.00" height="13.60" fill="#fff" stroke="#333" stroke-width="0.7"/>
<rect x="220.80" y="509.40" width="11.20" height="9.90" fill="#000" />
<rect x="234.85" y="446.00" width="10.40" height="73.30" fill="#fff" stroke="#333" stroke-width="0.7"/>
<line x1="197.50" y1="502.40" x2="197.50" y2="509.00" stroke="#777" stroke-width="0.6" />
<line x1="196.00" y1="502.40" x2="199.00" y2="502.40" stroke="#777" stroke-width="0.5" />
<line x1="226.40" y1="507.50" x2="226.40" y2="511.00" stroke="#444" stroke-width="0.6" />
<line x1="224.90" y1="507.50" x2="227.90" y2="507.50" stroke="#444" stroke-width="0.5" />
<line x1="240.00" y1="440.30" x2="240.00" y2="453.50" stroke="#888" stroke-width="0.6" />
<line x1="238.50" y1="440.30" x2="241.50" y2="440.30" stroke="#888" stroke-width="0.5" />
<text x="156.3" y="473.3" font-size="11.45" text-anchor="middle" transform="rotate(-90 156.3 473.3)" fill="#000">Charge of PSC</text>
<rect x="177.80" y="419.90" width="6.40" height="5.00" fill="#000" />
<rect x="178.10" y="427.50" width="5.80" height="4.60" fill="#fff" stroke="#444" stroke-width="0.6"/>
<text x="184.70" y="425.10" font-size="8.8" fill="#222" >EPSC</text>
<text x="184.70" y="432.60" font-size="8.8" fill="#222" >IPSC</text>
<text x="177.30" y="449.80" font-size="11.5" fill="#000" >L5B</text>
<text x="191.90" y="502.00" font-size="14.5" text-anchor="middle" fill="#000" font-weight="bold" >**</text>
<path d="M184.5,497.8 Q184.5,499.5 186.3,499.5 L197.2,499.5 Q199,499.5 199,497.8" fill="none" stroke="#000" stroke-width="1"/>
<text x="233.60" y="438.60" font-size="14.5" text-anchor="middle" fill="#000" font-weight="bold" >***</text>
<path d="M224.5,435.6 Q224.5,437.3 226.3,437.3 L240.2,437.3 Q242,437.3 242,435.6" fill="none" stroke="#000" stroke-width="1"/>
<text x="193.50" y="530.00" font-size="11.45" text-anchor="middle" fill="#000" >soma</text>
<text x="238.20" y="530.00" font-size="11.45" text-anchor="middle" fill="#000" >non-soma</text>
<line x1="298.90" y1="422.10" x2="298.90" y2="519.30" stroke="#000" stroke-width="0.9" />
<line x1="298.90" y1="519.30" x2="414.40" y2="519.30" stroke="#000" stroke-width="0.9" />
<text x="286.20" y="430.80" font-size="8.2" fill="#111" >0.3</text>
<text x="286.20" y="460.30" font-size="8.2" fill="#111" >0.2</text>
<text x="286.20" y="490.60" font-size="8.2" fill="#111" >0.1</text>
<text x="288.60" y="520.70" font-size="8.2" fill="#111" >0</text>
<rect x="310.70" y="456.90" width="14.10" height="62.40" fill="#000" />
<line x1="317.75" y1="439.80" x2="317.75" y2="456.90" stroke="#555" stroke-width="0.6" />
<rect x="349.00" y="484.60" width="14.70" height="34.70" fill="#000" />
<line x1="356.35" y1="476.00" x2="356.35" y2="484.60" stroke="#555" stroke-width="0.6" />
<rect x="392.30" y="484.60" width="14.70" height="34.70" fill="#000" />
<line x1="399.65" y1="478.00" x2="399.65" y2="484.60" stroke="#555" stroke-width="0.6" />
<text x="283" y="472.9" font-size="11.8" text-anchor="middle" transform="rotate(-90 283 472.9)" fill="#000">E/I ratio</text>
<text x="333.40" y="434.50" font-size="14.5" text-anchor="middle" fill="#000" font-weight="bold" >**</text>
<path d="M316.5,430.2 L316.5,431.8 L355.4,431.8 L355.4,433.4" fill="none" stroke="#000" stroke-width="0.9"/>
<text x="316.20" y="532.00" font-size="11.45" text-anchor="middle" fill="#000" >soma</text>
<text x="358.00" y="532.00" font-size="11.45" text-anchor="middle" fill="#000" >non-soma</text>
<text x="404.00" y="532.00" font-size="11.45" text-anchor="middle" fill="#000" >neuron</text>
<!-- ROWM -->
<text x="26.10" y="564.00" font-size="17.4" fill="#000" >vS1 injection in Scnn1a-cre mouse</text>
<clipPath id="mc1"><rect x="15.8" y="571" width="94.2" height="112.2"/></clipPath>
<g clip-path="url(#mc1)">
<rect x="15.80" y="571.00" width="94.20" height="112.20" fill="#140404" />
<path d="M10,574 L40,573.2 L60,572.8 L70,573 L84,576 L96,582 L103.5,592 L107.6,605 L109,622 L109,640 L107.4,655 L103.5,665 L97,670.8 L88,673.8 L79,675.2 L73,678.5 L69,690 L10,690 Z" fill="#440709"/>
<ellipse cx="64" cy="655" rx="26" ry="22" fill="#5c0a0c" filter="url(#blur4)" opacity="0.7"/>
<path d="M18,606 Q24,604 28,608 L27,620 Q22,616 18,612 Z" fill="#150303" filter="url(#blur1)"/>
<path d="M61,603 Q64,602 64.5,606 L63,619 Q61,614 60,608 Z" fill="#150303" filter="url(#blur1)"/>
<path d="M16,602 Q40,597 60,603 Q80,609 100,601" fill="none" stroke="#2a0606" stroke-width="1" opacity="0.7"/>
<path d="M45,640 Q60,650 58,683" fill="none" stroke="#2a0606" stroke-width="0.8" opacity="0.6"/>
<g transform="translate(81.7,593.7) rotate(27)">
<ellipse cx="-9" cy="-3" rx="6" ry="5" fill="#ff2a2a" opacity="0.5" filter="url(#blur2)"/>
<rect x="-7" y="-8.5" width="14.5" height="16" fill="#e01515" filter="url(#blur1)"/>
<rect x="-7" y="-8.5" width="14" height="9" fill="#ff2222" filter="url(#blur1)"/>
<rect x="-8.05" y="-9.45" width="16.1" height="18.9" fill="none" stroke="#fff" stroke-width="0.8"/>
</g>
<text x="83.50" y="581.40" font-size="8" fill="#fff" >vS1 inj.</text>
<path d="M21.2,678 L21.2,664.2 M18.6,667.3 L21.2,664 L23.8,667.3 M21.2,678 L34.3,678 M31.2,675.4 L34.6,678 L31.2,680.6" fill="none" stroke="#fff" stroke-width="1.2"/>
<text x="21.30" y="661.30" font-size="8.5" text-anchor="middle" fill="#fff" >D</text>
<text x="37.20" y="681.20" font-size="8.5" fill="#fff" >L</text>
<rect x="96.10" y="680.00" width="11.70" height="1.70" fill="#fff" />
</g>
<clipPath id="mc2"><rect x="112.7" y="571.4" width="115.3" height="112.1"/></clipPath>
<linearGradient id="l23g" x1="0" y1="0" x2="1" y2="0"><stop offset="0" stop-color="#d01010" stop-opacity="0"/><stop offset="0.3" stop-color="#d01010" stop-opacity="0.9"/><stop offset="1" stop-color="#d01010" stop-opacity="0.9"/></linearGradient>
<g clip-path="url(#mc2)">
<rect x="112.70" y="571.40" width="115.30" height="112.10" fill="#060101" />
<g transform="translate(170.4,627.4) rotate(36)">
<g filter="url(#speck)">
<rect x="-95" y="13" width="165" height="60" fill="#801010"/>
<rect x="-60" y="-48" width="130" height="33" fill="url(#l23g)"/>
<rect x="-95" y="-16" width="165" height="29" fill="#c81414"/>
</g>
<ellipse cx="0" cy="-1" rx="40" ry="13" fill="#ff1a1a" filter="url(#blur4)" opacity="0.55"/>
<g filter="url(#speck)"><ellipse cx="0" cy="-1" rx="44" ry="15" fill="#ff2020"/></g>
<rect x="-95" y="13" width="200" height="70" fill="#060101" opacity="0.5"/>
<path d="M-64,-15.9 L48,-15.9 M-62,13 L50,13" stroke="#f4f4f4" stroke-width="1" stroke-dasharray="4 2.7" fill="none"/>
</g>
<path d="M189.5,601 l0.8,12 M199.9,649 l-0.6,11 M175,585 l2,4" stroke="#180303" stroke-width="1.2"/>
<path d="M172,571.4 L230,571.4 L230,626 Z" fill="#060101" filter="url(#blur3)"/>
<path d="M196,686 L230,652 L230,686 Z" fill="#060101" filter="url(#blur3)"/>
<path d="M108,566 L136,566 L124,586 L108,596 Z" fill="#060101" filter="url(#blur3)"/>
<path d="M222,600 L232,600 L232,690 L212,690 Z" fill="#060101" opacity="0.5" filter="url(#blur3)"/>
<text x="0" y="0" font-size="9.3" fill="#f0f0f0" transform="translate(143.9,578) rotate(36)">L2/3</text>
<text x="0" y="0" font-size="9.3" fill="#f0f0f0" transform="translate(130.6,597.8) rotate(36)">L4</text>
<text x="0" y="0" font-size="9.3" fill="#f0f0f0" transform="translate(112.6,623.6) rotate(36)">L5B</text>
<rect x="209.00" y="679.60" width="15.80" height="1.70" fill="#fff" />
</g>
</svg></body></html>
